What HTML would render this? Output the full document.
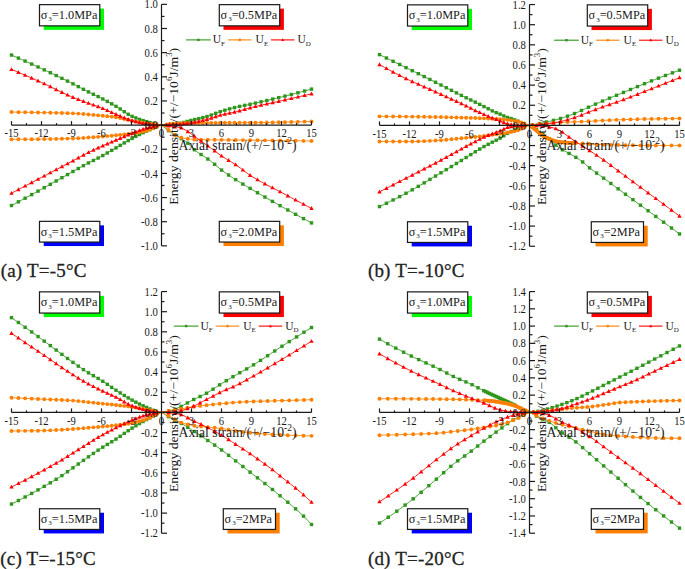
<!DOCTYPE html>
<html><head><meta charset="utf-8"><style>
html,body{margin:0;padding:0;background:#fff;width:685px;height:569px;overflow:hidden}
svg{display:block;font-family:"Liberation Serif", serif}
</style></head><body>
<svg width="685" height="569" viewBox="0 0 685 569">
<polyline points="161.5,125.1 162.75,125.09 164,125.05 165.25,125 166.5,124.92 167.75,124.83 169,124.72 170.25,124.6 171.5,124.47 172.75,124.34 174,124.19 175.25,124.04 176.5,123.89 177.75,123.72 179,123.5 180.25,123.24 181.5,122.95 182.75,122.64 184,122.31 185.25,121.96 186.5,121.61 187.75,121.26 189,120.92 190.25,120.58 191.5,120.27 192.75,119.97 194,119.68 195.25,119.4 196.5,119.12 197.75,118.83 199,118.55 200.25,118.26 201.5,117.96 202.75,117.66 204,117.34 205.25,117 206.5,116.65 207.75,116.27 209,115.85 210.25,115.41 211.5,114.94 212.75,114.46 214,113.97 215.25,113.48 216.5,112.99 217.75,112.52 219,112.06 220.25,111.62 221.5,111.21 222.75,110.83 224,110.45 225.25,110.08 226.5,109.72 227.75,109.37 229,109.02 230.25,108.68 231.5,108.35 232.75,108.03 234,107.72 235.25,107.41 236.5,107.11 237.75,106.82 239,106.54 240.25,106.27 241.5,106.01 242.75,105.76 244,105.51 245.25,105.26 246.5,105.01 247.75,104.76 249,104.5 250.25,104.24 251.5,103.97 252.75,103.69 254,103.42 255.25,103.14 256.5,102.86 257.75,102.58 259,102.3 260.25,102.01 261.5,101.73 262.75,101.44 264,101.15 265.25,100.86 266.5,100.57 267.75,100.28 269,99.98 270.25,99.69 271.5,99.39 272.75,99.09 274,98.79 275.25,98.49 276.5,98.19 277.75,97.88 279,97.58 280.25,97.27 281.5,96.97 282.75,96.66 284,96.35 285.25,96.03 286.5,95.72 287.75,95.4 289,95.09 290.25,94.77 291.5,94.45 292.75,94.12 294,93.8 295.25,93.48 296.5,93.15 297.75,92.82 299,92.49 300.25,92.16 301.5,91.83 302.75,91.49 304,91.16 305.25,90.82 306.5,90.48 307.75,90.14 309,89.8 310.25,89.46 311.5,89.12" fill="none" stroke="#2e961c" stroke-width="0.9"/>
<rect x="309.8" y="87.42" width="3.4" height="3.4" fill="#2e961c"/>
<rect x="302.9" y="89.3" width="3.4" height="3.4" fill="#2e961c"/>
<rect x="296.18" y="91.09" width="3.4" height="3.4" fill="#2e961c"/>
<rect x="289.63" y="92.79" width="3.4" height="3.4" fill="#2e961c"/>
<rect x="283.26" y="94.41" width="3.4" height="3.4" fill="#2e961c"/>
<rect x="277.05" y="95.94" width="3.4" height="3.4" fill="#2e961c"/>
<rect x="271" y="97.4" width="3.4" height="3.4" fill="#2e961c"/>
<rect x="265.11" y="98.8" width="3.4" height="3.4" fill="#2e961c"/>
<rect x="259.37" y="100.12" width="3.4" height="3.4" fill="#2e961c"/>
<rect x="253.78" y="101.39" width="3.4" height="3.4" fill="#2e961c"/>
<rect x="248.34" y="102.58" width="3.4" height="3.4" fill="#2e961c"/>
<rect x="243.04" y="103.66" width="3.4" height="3.4" fill="#2e961c"/>
<rect x="237.87" y="104.72" width="3.4" height="3.4" fill="#2e961c"/>
<rect x="232.84" y="105.88" width="3.4" height="3.4" fill="#2e961c"/>
<rect x="227.94" y="107.15" width="3.4" height="3.4" fill="#2e961c"/>
<rect x="223.17" y="108.49" width="3.4" height="3.4" fill="#2e961c"/>
<rect x="218.52" y="109.93" width="3.4" height="3.4" fill="#2e961c"/>
<rect x="214" y="111.61" width="3.4" height="3.4" fill="#2e961c"/>
<rect x="209.59" y="113.32" width="3.4" height="3.4" fill="#2e961c"/>
<rect x="205.29" y="114.8" width="3.4" height="3.4" fill="#2e961c"/>
<rect x="201.11" y="115.94" width="3.4" height="3.4" fill="#2e961c"/>
<rect x="197.04" y="116.91" width="3.4" height="3.4" fill="#2e961c"/>
<rect x="193.07" y="117.81" width="3.4" height="3.4" fill="#2e961c"/>
<rect x="189.2" y="118.72" width="3.4" height="3.4" fill="#2e961c"/>
<rect x="185.44" y="119.73" width="3.4" height="3.4" fill="#2e961c"/>
<rect x="181.77" y="120.75" width="3.4" height="3.4" fill="#2e961c"/>
<rect x="178.2" y="121.62" width="3.4" height="3.4" fill="#2e961c"/>
<rect x="174.72" y="122.2" width="3.4" height="3.4" fill="#2e961c"/>
<rect x="171.33" y="122.6" width="3.4" height="3.4" fill="#2e961c"/>
<rect x="168.03" y="122.95" width="3.4" height="3.4" fill="#2e961c"/>
<rect x="164.82" y="123.22" width="3.4" height="3.4" fill="#2e961c"/>
<polyline points="161.5,125.1 162.75,124.91 164,124.74 165.25,124.57 166.5,124.41 167.75,124.26 169,124.12 170.25,124 171.5,123.89 172.75,123.79 174,123.7 175.25,123.61 176.5,123.53 177.75,123.46 179,123.39 180.25,123.34 181.5,123.29 182.75,123.25 184,123.21 185.25,123.17 186.5,123.14 187.75,123.11 189,123.09 190.25,123.07 191.5,123.05 192.75,123.03 194,123.02 195.25,123 196.5,122.99 197.75,122.97 199,122.96 200.25,122.95 201.5,122.94 202.75,122.93 204,122.92 205.25,122.91 206.5,122.9 207.75,122.89 209,122.88 210.25,122.87 211.5,122.86 212.75,122.86 214,122.85 215.25,122.84 216.5,122.83 217.75,122.83 219,122.82 220.25,122.81 221.5,122.81 222.75,122.8 224,122.79 225.25,122.79 226.5,122.78 227.75,122.78 229,122.77 230.25,122.77 231.5,122.76 232.75,122.76 234,122.76 235.25,122.75 236.5,122.75 237.75,122.75 239,122.74 240.25,122.74 241.5,122.73 242.75,122.73 244,122.72 245.25,122.72 246.5,122.71 247.75,122.71 249,122.7 250.25,122.69 251.5,122.68 252.75,122.68 254,122.67 255.25,122.65 256.5,122.64 257.75,122.63 259,122.61 260.25,122.59 261.5,122.57 262.75,122.55 264,122.53 265.25,122.51 266.5,122.49 267.75,122.47 269,122.45 270.25,122.42 271.5,122.4 272.75,122.37 274,122.35 275.25,122.33 276.5,122.3 277.75,122.28 279,122.25 280.25,122.23 281.5,122.2 282.75,122.18 284,122.15 285.25,122.13 286.5,122.1 287.75,122.07 289,122.05 290.25,122.02 291.5,121.99 292.75,121.96 294,121.93 295.25,121.9 296.5,121.87 297.75,121.84 299,121.81 300.25,121.78 301.5,121.75 302.75,121.72 304,121.68 305.25,121.65 306.5,121.62 307.75,121.58 309,121.55 310.25,121.51 311.5,121.48" fill="none" stroke="#ff8000" stroke-width="0.9"/>
<circle cx="311.5" cy="121.48" r="1.95" fill="#ff8000"/>
<circle cx="304.6" cy="121.67" r="1.95" fill="#ff8000"/>
<circle cx="297.88" cy="121.84" r="1.95" fill="#ff8000"/>
<circle cx="291.33" cy="121.99" r="1.95" fill="#ff8000"/>
<circle cx="284.96" cy="122.13" r="1.95" fill="#ff8000"/>
<circle cx="278.75" cy="122.26" r="1.95" fill="#ff8000"/>
<circle cx="272.7" cy="122.38" r="1.95" fill="#ff8000"/>
<circle cx="266.81" cy="122.49" r="1.95" fill="#ff8000"/>
<circle cx="261.07" cy="122.58" r="1.95" fill="#ff8000"/>
<circle cx="255.48" cy="122.65" r="1.95" fill="#ff8000"/>
<circle cx="250.04" cy="122.69" r="1.95" fill="#ff8000"/>
<circle cx="244.74" cy="122.72" r="1.95" fill="#ff8000"/>
<circle cx="239.57" cy="122.74" r="1.95" fill="#ff8000"/>
<circle cx="234.54" cy="122.76" r="1.95" fill="#ff8000"/>
<circle cx="229.64" cy="122.77" r="1.95" fill="#ff8000"/>
<circle cx="224.87" cy="122.79" r="1.95" fill="#ff8000"/>
<circle cx="220.22" cy="122.81" r="1.95" fill="#ff8000"/>
<circle cx="215.7" cy="122.84" r="1.95" fill="#ff8000"/>
<circle cx="211.29" cy="122.86" r="1.95" fill="#ff8000"/>
<circle cx="206.99" cy="122.89" r="1.95" fill="#ff8000"/>
<circle cx="202.81" cy="122.93" r="1.95" fill="#ff8000"/>
<circle cx="198.74" cy="122.96" r="1.95" fill="#ff8000"/>
<circle cx="194.77" cy="123.01" r="1.95" fill="#ff8000"/>
<circle cx="190.9" cy="123.06" r="1.95" fill="#ff8000"/>
<circle cx="187.14" cy="123.13" r="1.95" fill="#ff8000"/>
<circle cx="183.47" cy="123.22" r="1.95" fill="#ff8000"/>
<circle cx="179.9" cy="123.35" r="1.95" fill="#ff8000"/>
<circle cx="176.42" cy="123.54" r="1.95" fill="#ff8000"/>
<circle cx="173.03" cy="123.77" r="1.95" fill="#ff8000"/>
<circle cx="169.73" cy="124.05" r="1.95" fill="#ff8000"/>
<circle cx="166.52" cy="124.41" r="1.95" fill="#ff8000"/>
<polyline points="161.5,125.1 162.75,125.09 164,125.08 165.25,125.05 166.5,125.01 167.75,124.96 169,124.91 170.25,124.85 171.5,124.79 172.75,124.72 174,124.65 175.25,124.57 176.5,124.5 177.75,124.41 179,124.31 180.25,124.19 181.5,124.06 182.75,123.92 184,123.76 185.25,123.6 186.5,123.43 187.75,123.25 189,123.06 190.25,122.88 191.5,122.68 192.75,122.49 194,122.27 195.25,122.05 196.5,121.81 197.75,121.56 199,121.3 200.25,121.03 201.5,120.75 202.75,120.46 204,120.16 205.25,119.86 206.5,119.55 207.75,119.21 209,118.85 210.25,118.46 211.5,118.05 212.75,117.63 214,117.2 215.25,116.77 216.5,116.35 217.75,115.94 219,115.54 220.25,115.17 221.5,114.84 222.75,114.53 224,114.23 225.25,113.96 226.5,113.69 227.75,113.43 229,113.18 230.25,112.93 231.5,112.67 232.75,112.42 234,112.15 235.25,111.87 236.5,111.58 237.75,111.26 239,110.94 240.25,110.6 241.5,110.25 242.75,109.9 244,109.54 245.25,109.18 246.5,108.82 247.75,108.47 249,108.12 250.25,107.79 251.5,107.47 252.75,107.16 254,106.86 255.25,106.56 256.5,106.26 257.75,105.97 259,105.68 260.25,105.39 261.5,105.11 262.75,104.83 264,104.55 265.25,104.28 266.5,104.01 267.75,103.73 269,103.46 270.25,103.19 271.5,102.92 272.75,102.65 274,102.37 275.25,102.1 276.5,101.83 277.75,101.55 279,101.27 280.25,100.99 281.5,100.71 282.75,100.42 284,100.14 285.25,99.85 286.5,99.57 287.75,99.28 289,99 290.25,98.71 291.5,98.43 292.75,98.14 294,97.86 295.25,97.57 296.5,97.28 297.75,97 299,96.71 300.25,96.42 301.5,96.13 302.75,95.85 304,95.56 305.25,95.27 306.5,94.98 307.75,94.69 309,94.4 310.25,94.11 311.5,93.83" fill="none" stroke="#ff0000" stroke-width="0.9"/>
<path d="M311.5,91.53L313.7,95.43L309.3,95.43Z" fill="#ff0000"/>
<path d="M304.6,93.12L306.8,97.02L302.4,97.02Z" fill="#ff0000"/>
<path d="M297.88,94.67L300.08,98.57L295.68,98.57Z" fill="#ff0000"/>
<path d="M291.33,96.17L293.53,100.07L289.13,100.07Z" fill="#ff0000"/>
<path d="M284.96,97.62L287.16,101.52L282.76,101.52Z" fill="#ff0000"/>
<path d="M278.75,99.03L280.95,102.93L276.55,102.93Z" fill="#ff0000"/>
<path d="M272.7,100.36L274.9,104.26L270.5,104.26Z" fill="#ff0000"/>
<path d="M266.81,101.64L269.01,105.54L264.61,105.54Z" fill="#ff0000"/>
<path d="M261.07,102.91L263.27,106.81L258.87,106.81Z" fill="#ff0000"/>
<path d="M255.48,104.2L257.68,108.1L253.28,108.1Z" fill="#ff0000"/>
<path d="M250.04,105.55L252.24,109.45L247.84,109.45Z" fill="#ff0000"/>
<path d="M244.74,107.03L246.94,110.93L242.54,110.93Z" fill="#ff0000"/>
<path d="M239.57,108.48L241.77,112.38L237.37,112.38Z" fill="#ff0000"/>
<path d="M234.54,109.73L236.74,113.63L232.34,113.63Z" fill="#ff0000"/>
<path d="M229.64,110.75L231.84,114.65L227.44,114.65Z" fill="#ff0000"/>
<path d="M224.87,111.74L227.07,115.64L222.67,115.64Z" fill="#ff0000"/>
<path d="M220.22,112.88L222.42,116.78L218.02,116.78Z" fill="#ff0000"/>
<path d="M215.7,114.32L217.9,118.22L213.5,118.22Z" fill="#ff0000"/>
<path d="M211.29,115.82L213.49,119.72L209.09,119.72Z" fill="#ff0000"/>
<path d="M206.99,117.12L209.19,121.02L204.79,121.02Z" fill="#ff0000"/>
<path d="M202.81,118.14L205.01,122.04L200.61,122.04Z" fill="#ff0000"/>
<path d="M198.74,119.05L200.94,122.95L196.54,122.95Z" fill="#ff0000"/>
<path d="M194.77,119.84L196.97,123.74L192.57,123.74Z" fill="#ff0000"/>
<path d="M190.9,120.48L193.1,124.38L188.7,124.38Z" fill="#ff0000"/>
<path d="M187.14,121.04L189.34,124.94L184.94,124.94Z" fill="#ff0000"/>
<path d="M183.47,121.53L185.67,125.43L181.27,125.43Z" fill="#ff0000"/>
<path d="M179.9,121.93L182.1,125.83L177.7,125.83Z" fill="#ff0000"/>
<path d="M176.42,122.2L178.62,126.1L174.22,126.1Z" fill="#ff0000"/>
<path d="M173.03,122.4L175.23,126.3L170.83,126.3Z" fill="#ff0000"/>
<path d="M169.73,122.58L171.93,126.48L167.53,126.48Z" fill="#ff0000"/>
<path d="M166.52,122.71L168.72,126.61L164.32,126.61Z" fill="#ff0000"/>
<polyline points="161.5,125.1 160.25,124.89 159,124.65 157.75,124.41 156.5,124.14 155.25,123.87 154,123.58 152.75,123.27 151.5,122.96 150.25,122.63 149,122.3 147.75,121.95 146.5,121.6 145.25,121.23 144,120.85 142.75,120.45 141.5,120.04 140.25,119.61 139,119.16 137.75,118.69 136.5,118.2 135.25,117.69 134,117.16 132.75,116.62 131.5,116.04 130.25,115.43 129,114.74 127.75,114 126.5,113.22 125.25,112.41 124,111.57 122.75,110.71 121.5,109.86 120.25,109.01 119,108.18 117.75,107.39 116.5,106.63 115.25,105.89 114,105.17 112.75,104.45 111.5,103.73 110.25,103.03 109,102.33 107.75,101.64 106.5,100.96 105.25,100.28 104,99.61 102.75,98.95 101.5,98.29 100.25,97.65 99,97.02 97.75,96.4 96.5,95.79 95.25,95.18 94,94.58 92.75,93.98 91.5,93.38 90.25,92.78 89,92.17 87.75,91.56 86.5,90.93 85.25,90.29 84,89.64 82.75,88.99 81.5,88.33 80.25,87.66 79,87 77.75,86.33 76.5,85.67 75.25,85.01 74,84.36 72.75,83.72 71.5,83.08 70.25,82.45 69,81.82 67.75,81.2 66.5,80.58 65.25,79.96 64,79.34 62.75,78.73 61.5,78.12 60.25,77.51 59,76.9 57.75,76.29 56.5,75.69 55.25,75.09 54,74.49 52.75,73.89 51.5,73.3 50.25,72.7 49,72.11 47.75,71.52 46.5,70.93 45.25,70.34 44,69.76 42.75,69.17 41.5,68.59 40.25,68.01 39,67.43 37.75,66.85 36.5,66.27 35.25,65.69 34,65.12 32.75,64.55 31.5,63.98 30.25,63.41 29,62.84 27.75,62.27 26.5,61.71 25.25,61.15 24,60.58 22.75,60.02 21.5,59.47 20.25,58.91 19,58.36 17.75,57.8 16.5,57.25 15.25,56.7 14,56.16 12.75,55.61 11.5,55.06" fill="none" stroke="#2e961c" stroke-width="0.9"/>
<rect x="9.8" y="53.36" width="3.4" height="3.4" fill="#2e961c"/>
<rect x="16.7" y="56.39" width="3.4" height="3.4" fill="#2e961c"/>
<rect x="23.42" y="59.39" width="3.4" height="3.4" fill="#2e961c"/>
<rect x="29.97" y="62.35" width="3.4" height="3.4" fill="#2e961c"/>
<rect x="36.34" y="65.28" width="3.4" height="3.4" fill="#2e961c"/>
<rect x="42.55" y="68.18" width="3.4" height="3.4" fill="#2e961c"/>
<rect x="48.6" y="71.03" width="3.4" height="3.4" fill="#2e961c"/>
<rect x="54.49" y="73.84" width="3.4" height="3.4" fill="#2e961c"/>
<rect x="60.23" y="76.63" width="3.4" height="3.4" fill="#2e961c"/>
<rect x="65.82" y="79.38" width="3.4" height="3.4" fill="#2e961c"/>
<rect x="71.26" y="82.12" width="3.4" height="3.4" fill="#2e961c"/>
<rect x="76.56" y="84.91" width="3.4" height="3.4" fill="#2e961c"/>
<rect x="81.73" y="87.64" width="3.4" height="3.4" fill="#2e961c"/>
<rect x="86.76" y="90.21" width="3.4" height="3.4" fill="#2e961c"/>
<rect x="91.66" y="92.58" width="3.4" height="3.4" fill="#2e961c"/>
<rect x="96.43" y="94.89" width="3.4" height="3.4" fill="#2e961c"/>
<rect x="101.08" y="97.26" width="3.4" height="3.4" fill="#2e961c"/>
<rect x="105.6" y="99.7" width="3.4" height="3.4" fill="#2e961c"/>
<rect x="110.01" y="102.15" width="3.4" height="3.4" fill="#2e961c"/>
<rect x="114.31" y="104.64" width="3.4" height="3.4" fill="#2e961c"/>
<rect x="118.49" y="107.27" width="3.4" height="3.4" fill="#2e961c"/>
<rect x="122.56" y="110.04" width="3.4" height="3.4" fill="#2e961c"/>
<rect x="126.53" y="112.59" width="3.4" height="3.4" fill="#2e961c"/>
<rect x="130.4" y="114.62" width="3.4" height="3.4" fill="#2e961c"/>
<rect x="134.16" y="116.24" width="3.4" height="3.4" fill="#2e961c"/>
<rect x="137.83" y="117.65" width="3.4" height="3.4" fill="#2e961c"/>
<rect x="141.4" y="118.87" width="3.4" height="3.4" fill="#2e961c"/>
<rect x="144.88" y="119.92" width="3.4" height="3.4" fill="#2e961c"/>
<rect x="148.27" y="120.86" width="3.4" height="3.4" fill="#2e961c"/>
<rect x="151.57" y="121.7" width="3.4" height="3.4" fill="#2e961c"/>
<rect x="154.78" y="122.44" width="3.4" height="3.4" fill="#2e961c"/>
<polyline points="161.5,125.1 160.25,124.95 159,124.8 157.75,124.65 156.5,124.5 155.25,124.35 154,124.2 152.75,124.06 151.5,123.92 150.25,123.77 149,123.62 147.75,123.46 146.5,123.29 145.25,123.11 144,122.93 142.75,122.74 141.5,122.54 140.25,122.34 139,122.13 137.75,121.91 136.5,121.69 135.25,121.46 134,121.23 132.75,121 131.5,120.75 130.25,120.49 129,120.2 127.75,119.89 126.5,119.57 125.25,119.24 124,118.91 122.75,118.58 121.5,118.26 120.25,117.97 119,117.69 117.75,117.45 116.5,117.25 115.25,117.08 114,116.92 112.75,116.77 111.5,116.63 110.25,116.49 109,116.37 107.75,116.25 106.5,116.13 105.25,116.02 104,115.91 102.75,115.8 101.5,115.68 100.25,115.57 99,115.45 97.75,115.33 96.5,115.21 95.25,115.09 94,114.97 92.75,114.85 91.5,114.73 90.25,114.61 89,114.49 87.75,114.38 86.5,114.27 85.25,114.16 84,114.05 82.75,113.95 81.5,113.85 80.25,113.76 79,113.67 77.75,113.59 76.5,113.51 75.25,113.44 74,113.37 72.75,113.32 71.5,113.27 70.25,113.22 69,113.18 67.75,113.14 66.5,113.1 65.25,113.06 64,113.02 62.75,112.99 61.5,112.96 60.25,112.92 59,112.89 57.75,112.87 56.5,112.84 55.25,112.81 54,112.78 52.75,112.76 51.5,112.73 50.25,112.71 49,112.68 47.75,112.66 46.5,112.64 45.25,112.61 44,112.59 42.75,112.57 41.5,112.54 40.25,112.52 39,112.49 37.75,112.47 36.5,112.45 35.25,112.42 34,112.4 32.75,112.38 31.5,112.36 30.25,112.34 29,112.31 27.75,112.29 26.5,112.27 25.25,112.25 24,112.23 22.75,112.21 21.5,112.19 20.25,112.18 19,112.16 17.75,112.14 16.5,112.12 15.25,112.11 14,112.09 12.75,112.07 11.5,112.06" fill="none" stroke="#ff8000" stroke-width="0.9"/>
<circle cx="11.5" cy="112.06" r="1.95" fill="#ff8000"/>
<circle cx="18.4" cy="112.15" r="1.95" fill="#ff8000"/>
<circle cx="25.12" cy="112.25" r="1.95" fill="#ff8000"/>
<circle cx="31.67" cy="112.36" r="1.95" fill="#ff8000"/>
<circle cx="38.04" cy="112.48" r="1.95" fill="#ff8000"/>
<circle cx="44.25" cy="112.59" r="1.95" fill="#ff8000"/>
<circle cx="50.3" cy="112.71" r="1.95" fill="#ff8000"/>
<circle cx="56.19" cy="112.83" r="1.95" fill="#ff8000"/>
<circle cx="61.93" cy="112.97" r="1.95" fill="#ff8000"/>
<circle cx="67.52" cy="113.13" r="1.95" fill="#ff8000"/>
<circle cx="72.96" cy="113.33" r="1.95" fill="#ff8000"/>
<circle cx="78.26" cy="113.62" r="1.95" fill="#ff8000"/>
<circle cx="83.43" cy="114.01" r="1.95" fill="#ff8000"/>
<circle cx="88.46" cy="114.44" r="1.95" fill="#ff8000"/>
<circle cx="93.36" cy="114.91" r="1.95" fill="#ff8000"/>
<circle cx="98.13" cy="115.36" r="1.95" fill="#ff8000"/>
<circle cx="102.78" cy="115.8" r="1.95" fill="#ff8000"/>
<circle cx="107.3" cy="116.21" r="1.95" fill="#ff8000"/>
<circle cx="111.71" cy="116.65" r="1.95" fill="#ff8000"/>
<circle cx="116.01" cy="117.18" r="1.95" fill="#ff8000"/>
<circle cx="120.19" cy="117.95" r="1.95" fill="#ff8000"/>
<circle cx="124.26" cy="118.98" r="1.95" fill="#ff8000"/>
<circle cx="128.23" cy="120.02" r="1.95" fill="#ff8000"/>
<circle cx="132.1" cy="120.87" r="1.95" fill="#ff8000"/>
<circle cx="135.86" cy="121.58" r="1.95" fill="#ff8000"/>
<circle cx="139.53" cy="122.22" r="1.95" fill="#ff8000"/>
<circle cx="143.1" cy="122.79" r="1.95" fill="#ff8000"/>
<circle cx="146.58" cy="123.3" r="1.95" fill="#ff8000"/>
<circle cx="149.97" cy="123.73" r="1.95" fill="#ff8000"/>
<circle cx="153.27" cy="124.12" r="1.95" fill="#ff8000"/>
<circle cx="156.48" cy="124.49" r="1.95" fill="#ff8000"/>
<polyline points="161.5,125.1 160.25,125.08 159,125.05 157.75,124.99 156.5,124.91 155.25,124.82 154,124.71 152.75,124.6 151.5,124.47 150.25,124.33 149,124.19 147.75,124.04 146.5,123.89 145.25,123.73 144,123.53 142.75,123.3 141.5,123.04 140.25,122.76 139,122.46 137.75,122.15 136.5,121.81 135.25,121.47 134,121.11 132.75,120.75 131.5,120.39 130.25,120.01 129,119.6 127.75,119.16 126.5,118.7 125.25,118.22 124,117.72 122.75,117.21 121.5,116.69 120.25,116.17 119,115.64 117.75,115.11 116.5,114.59 115.25,114.07 114,113.52 112.75,112.97 111.5,112.4 110.25,111.82 109,111.25 107.75,110.67 106.5,110.1 105.25,109.54 104,108.99 102.75,108.46 101.5,107.95 100.25,107.46 99,106.99 97.75,106.53 96.5,106.07 95.25,105.63 94,105.19 92.75,104.75 91.5,104.32 90.25,103.88 89,103.43 87.75,102.98 86.5,102.52 85.25,102.05 84,101.59 82.75,101.12 81.5,100.65 80.25,100.18 79,99.71 77.75,99.23 76.5,98.75 75.25,98.26 74,97.75 72.75,97.24 71.5,96.72 70.25,96.19 69,95.65 67.75,95.09 66.5,94.52 65.25,93.94 64,93.36 62.75,92.77 61.5,92.17 60.25,91.56 59,90.95 57.75,90.34 56.5,89.72 55.25,89.1 54,88.49 52.75,87.87 51.5,87.25 50.25,86.64 49,86.02 47.75,85.42 46.5,84.81 45.25,84.22 44,83.63 42.75,83.05 41.5,82.48 40.25,81.91 39,81.34 37.75,80.78 36.5,80.22 35.25,79.66 34,79.11 32.75,78.55 31.5,78 30.25,77.45 29,76.9 27.75,76.35 26.5,75.81 25.25,75.26 24,74.72 22.75,74.19 21.5,73.65 20.25,73.11 19,72.58 17.75,72.05 16.5,71.52 15.25,71 14,70.48 12.75,69.95 11.5,69.43" fill="none" stroke="#ff0000" stroke-width="0.9"/>
<path d="M11.5,67.13L13.7,71.03L9.3,71.03Z" fill="#ff0000"/>
<path d="M18.4,70.03L20.6,73.93L16.2,73.93Z" fill="#ff0000"/>
<path d="M25.12,72.91L27.32,76.81L22.92,76.81Z" fill="#ff0000"/>
<path d="M31.67,75.77L33.87,79.67L29.47,79.67Z" fill="#ff0000"/>
<path d="M38.04,78.61L40.24,82.51L35.84,82.51Z" fill="#ff0000"/>
<path d="M44.25,81.45L46.45,85.35L42.05,85.35Z" fill="#ff0000"/>
<path d="M50.3,84.36L52.5,88.26L48.1,88.26Z" fill="#ff0000"/>
<path d="M56.19,87.27L58.39,91.17L53.99,91.17Z" fill="#ff0000"/>
<path d="M61.93,90.07L64.13,93.97L59.73,93.97Z" fill="#ff0000"/>
<path d="M67.52,92.68L69.72,96.58L65.32,96.58Z" fill="#ff0000"/>
<path d="M72.96,95.03L75.16,98.93L70.76,98.93Z" fill="#ff0000"/>
<path d="M78.26,97.13L80.46,101.03L76.06,101.03Z" fill="#ff0000"/>
<path d="M83.43,99.07L85.63,102.97L81.23,102.97Z" fill="#ff0000"/>
<path d="M88.46,100.94L90.66,104.84L86.26,104.84Z" fill="#ff0000"/>
<path d="M93.36,102.67L95.56,106.57L91.16,106.57Z" fill="#ff0000"/>
<path d="M98.13,104.37L100.33,108.27L95.93,108.27Z" fill="#ff0000"/>
<path d="M102.78,106.17L104.98,110.07L100.58,110.07Z" fill="#ff0000"/>
<path d="M107.3,108.17L109.5,112.07L105.1,112.07Z" fill="#ff0000"/>
<path d="M111.71,110.2L113.91,114.1L109.51,114.1Z" fill="#ff0000"/>
<path d="M116.01,112.09L118.21,115.99L113.81,115.99Z" fill="#ff0000"/>
<path d="M120.19,113.84L122.39,117.74L117.99,117.74Z" fill="#ff0000"/>
<path d="M124.26,115.53L126.46,119.43L122.06,119.43Z" fill="#ff0000"/>
<path d="M128.23,117.03L130.43,120.93L126.03,120.93Z" fill="#ff0000"/>
<path d="M132.1,118.26L134.3,122.16L129.9,122.16Z" fill="#ff0000"/>
<path d="M135.86,119.34L138.06,123.24L133.66,123.24Z" fill="#ff0000"/>
<path d="M139.53,120.29L141.73,124.19L137.33,124.19Z" fill="#ff0000"/>
<path d="M143.1,121.06L145.3,124.96L140.9,124.96Z" fill="#ff0000"/>
<path d="M146.58,121.6L148.78,125.5L144.38,125.5Z" fill="#ff0000"/>
<path d="M149.97,122L152.17,125.9L147.77,125.9Z" fill="#ff0000"/>
<path d="M153.27,122.35L155.47,126.25L151.07,126.25Z" fill="#ff0000"/>
<path d="M156.48,122.61L158.68,126.51L154.28,126.51Z" fill="#ff0000"/>
<polyline points="161.5,125.1 160.25,125.54 159,126 157.75,126.47 156.5,126.94 155.25,127.43 154,127.93 152.75,128.44 151.5,128.96 150.25,129.49 149,130.03 147.75,130.58 146.5,131.14 145.25,131.71 144,132.29 142.75,132.89 141.5,133.5 140.25,134.13 139,134.76 137.75,135.41 136.5,136.06 135.25,136.72 134,137.39 132.75,138.07 131.5,138.74 130.25,139.43 129,140.14 127.75,140.86 126.5,141.59 125.25,142.33 124,143.08 122.75,143.83 121.5,144.58 120.25,145.33 119,146.08 117.75,146.83 116.5,147.56 115.25,148.29 114,149.03 112.75,149.77 111.5,150.5 110.25,151.24 109,151.98 107.75,152.71 106.5,153.44 105.25,154.15 104,154.87 102.75,155.57 101.5,156.25 100.25,156.93 99,157.59 97.75,158.24 96.5,158.88 95.25,159.51 94,160.14 92.75,160.77 91.5,161.4 90.25,162.03 89,162.67 87.75,163.32 86.5,163.98 85.25,164.65 84,165.33 82.75,166.02 81.5,166.71 80.25,167.4 79,168.1 77.75,168.8 76.5,169.5 75.25,170.21 74,170.91 72.75,171.61 71.5,172.31 70.25,173.01 69,173.71 67.75,174.42 66.5,175.12 65.25,175.83 64,176.53 62.75,177.24 61.5,177.95 60.25,178.66 59,179.37 57.75,180.08 56.5,180.79 55.25,181.5 54,182.2 52.75,182.91 51.5,183.62 50.25,184.32 49,185.03 47.75,185.73 46.5,186.43 45.25,187.13 44,187.83 42.75,188.53 41.5,189.22 40.25,189.91 39,190.6 37.75,191.29 36.5,191.98 35.25,192.66 34,193.35 32.75,194.03 31.5,194.72 30.25,195.4 29,196.08 27.75,196.76 26.5,197.44 25.25,198.12 24,198.8 22.75,199.48 21.5,200.15 20.25,200.83 19,201.5 17.75,202.17 16.5,202.84 15.25,203.51 14,204.18 12.75,204.85 11.5,205.52" fill="none" stroke="#2e961c" stroke-width="0.9"/>
<rect x="9.8" y="203.82" width="3.4" height="3.4" fill="#2e961c"/>
<rect x="16.7" y="200.12" width="3.4" height="3.4" fill="#2e961c"/>
<rect x="23.42" y="196.49" width="3.4" height="3.4" fill="#2e961c"/>
<rect x="29.97" y="192.93" width="3.4" height="3.4" fill="#2e961c"/>
<rect x="36.34" y="189.43" width="3.4" height="3.4" fill="#2e961c"/>
<rect x="42.55" y="185.99" width="3.4" height="3.4" fill="#2e961c"/>
<rect x="48.6" y="182.6" width="3.4" height="3.4" fill="#2e961c"/>
<rect x="54.49" y="179.26" width="3.4" height="3.4" fill="#2e961c"/>
<rect x="60.23" y="176.01" width="3.4" height="3.4" fill="#2e961c"/>
<rect x="65.82" y="172.85" width="3.4" height="3.4" fill="#2e961c"/>
<rect x="71.26" y="169.79" width="3.4" height="3.4" fill="#2e961c"/>
<rect x="76.56" y="166.81" width="3.4" height="3.4" fill="#2e961c"/>
<rect x="81.73" y="163.95" width="3.4" height="3.4" fill="#2e961c"/>
<rect x="86.76" y="161.25" width="3.4" height="3.4" fill="#2e961c"/>
<rect x="91.66" y="158.76" width="3.4" height="3.4" fill="#2e961c"/>
<rect x="96.43" y="156.34" width="3.4" height="3.4" fill="#2e961c"/>
<rect x="101.08" y="153.85" width="3.4" height="3.4" fill="#2e961c"/>
<rect x="105.6" y="151.27" width="3.4" height="3.4" fill="#2e961c"/>
<rect x="110.01" y="148.68" width="3.4" height="3.4" fill="#2e961c"/>
<rect x="114.31" y="146.15" width="3.4" height="3.4" fill="#2e961c"/>
<rect x="118.49" y="143.67" width="3.4" height="3.4" fill="#2e961c"/>
<rect x="122.56" y="141.22" width="3.4" height="3.4" fill="#2e961c"/>
<rect x="126.53" y="138.88" width="3.4" height="3.4" fill="#2e961c"/>
<rect x="130.4" y="136.72" width="3.4" height="3.4" fill="#2e961c"/>
<rect x="134.16" y="134.7" width="3.4" height="3.4" fill="#2e961c"/>
<rect x="137.83" y="132.79" width="3.4" height="3.4" fill="#2e961c"/>
<rect x="141.4" y="131.02" width="3.4" height="3.4" fill="#2e961c"/>
<rect x="144.88" y="129.4" width="3.4" height="3.4" fill="#2e961c"/>
<rect x="148.27" y="127.92" width="3.4" height="3.4" fill="#2e961c"/>
<rect x="151.57" y="126.53" width="3.4" height="3.4" fill="#2e961c"/>
<rect x="154.78" y="125.25" width="3.4" height="3.4" fill="#2e961c"/>
<polyline points="161.5,125.1 160.25,125.54 159,125.99 157.75,126.45 156.5,126.91 155.25,127.4 154,127.92 152.75,128.45 151.5,128.99 150.25,129.5 149,129.99 147.75,130.41 146.5,130.78 145.25,131.09 144,131.38 142.75,131.65 141.5,131.91 140.25,132.15 139,132.38 137.75,132.6 136.5,132.81 135.25,133 134,133.19 132.75,133.38 131.5,133.55 130.25,133.72 129,133.89 127.75,134.04 126.5,134.19 125.25,134.34 124,134.47 122.75,134.61 121.5,134.74 120.25,134.87 119,134.99 117.75,135.12 116.5,135.24 115.25,135.37 114,135.49 112.75,135.61 111.5,135.72 110.25,135.84 109,135.95 107.75,136.06 106.5,136.17 105.25,136.27 104,136.38 102.75,136.47 101.5,136.57 100.25,136.67 99,136.76 97.75,136.86 96.5,136.96 95.25,137.05 94,137.15 92.75,137.25 91.5,137.34 90.25,137.44 89,137.53 87.75,137.62 86.5,137.71 85.25,137.79 84,137.88 82.75,137.96 81.5,138.03 80.25,138.11 79,138.18 77.75,138.24 76.5,138.31 75.25,138.36 74,138.42 72.75,138.46 71.5,138.5 70.25,138.54 69,138.58 67.75,138.61 66.5,138.65 65.25,138.68 64,138.71 62.75,138.74 61.5,138.77 60.25,138.8 59,138.83 57.75,138.85 56.5,138.88 55.25,138.9 54,138.92 52.75,138.95 51.5,138.97 50.25,138.99 49,139.01 47.75,139.03 46.5,139.04 45.25,139.06 44,139.08 42.75,139.09 41.5,139.11 40.25,139.12 39,139.14 37.75,139.15 36.5,139.16 35.25,139.18 34,139.19 32.75,139.2 31.5,139.22 30.25,139.23 29,139.24 27.75,139.25 26.5,139.26 25.25,139.27 24,139.28 22.75,139.29 21.5,139.3 20.25,139.31 19,139.32 17.75,139.33 16.5,139.33 15.25,139.34 14,139.34 12.75,139.35 11.5,139.35" fill="none" stroke="#ff8000" stroke-width="0.9"/>
<circle cx="11.5" cy="139.35" r="1.95" fill="#ff8000"/>
<circle cx="18.4" cy="139.32" r="1.95" fill="#ff8000"/>
<circle cx="25.12" cy="139.28" r="1.95" fill="#ff8000"/>
<circle cx="31.67" cy="139.21" r="1.95" fill="#ff8000"/>
<circle cx="38.04" cy="139.15" r="1.95" fill="#ff8000"/>
<circle cx="44.25" cy="139.07" r="1.95" fill="#ff8000"/>
<circle cx="50.3" cy="138.99" r="1.95" fill="#ff8000"/>
<circle cx="56.19" cy="138.88" r="1.95" fill="#ff8000"/>
<circle cx="61.93" cy="138.76" r="1.95" fill="#ff8000"/>
<circle cx="67.52" cy="138.62" r="1.95" fill="#ff8000"/>
<circle cx="72.96" cy="138.45" r="1.95" fill="#ff8000"/>
<circle cx="78.26" cy="138.22" r="1.95" fill="#ff8000"/>
<circle cx="83.43" cy="137.91" r="1.95" fill="#ff8000"/>
<circle cx="88.46" cy="137.57" r="1.95" fill="#ff8000"/>
<circle cx="93.36" cy="137.2" r="1.95" fill="#ff8000"/>
<circle cx="98.13" cy="136.83" r="1.95" fill="#ff8000"/>
<circle cx="102.78" cy="136.47" r="1.95" fill="#ff8000"/>
<circle cx="107.3" cy="136.1" r="1.95" fill="#ff8000"/>
<circle cx="111.71" cy="135.7" r="1.95" fill="#ff8000"/>
<circle cx="116.01" cy="135.29" r="1.95" fill="#ff8000"/>
<circle cx="120.19" cy="134.87" r="1.95" fill="#ff8000"/>
<circle cx="124.26" cy="134.45" r="1.95" fill="#ff8000"/>
<circle cx="128.23" cy="133.98" r="1.95" fill="#ff8000"/>
<circle cx="132.1" cy="133.47" r="1.95" fill="#ff8000"/>
<circle cx="135.86" cy="132.91" r="1.95" fill="#ff8000"/>
<circle cx="139.53" cy="132.29" r="1.95" fill="#ff8000"/>
<circle cx="143.1" cy="131.58" r="1.95" fill="#ff8000"/>
<circle cx="146.58" cy="130.76" r="1.95" fill="#ff8000"/>
<circle cx="149.97" cy="129.62" r="1.95" fill="#ff8000"/>
<circle cx="153.27" cy="128.23" r="1.95" fill="#ff8000"/>
<circle cx="156.48" cy="126.92" r="1.95" fill="#ff8000"/>
<polyline points="161.5,125.1 160.25,125.28 159,125.48 157.75,125.69 156.5,125.93 155.25,126.17 154,126.43 152.75,126.71 151.5,126.99 150.25,127.29 149,127.6 147.75,127.91 146.5,128.24 145.25,128.58 144,128.96 142.75,129.35 141.5,129.77 140.25,130.21 139,130.66 137.75,131.13 136.5,131.61 135.25,132.09 134,132.58 132.75,133.07 131.5,133.55 130.25,134.04 129,134.55 127.75,135.07 126.5,135.6 125.25,136.13 124,136.68 122.75,137.23 121.5,137.78 120.25,138.32 119,138.87 117.75,139.42 116.5,139.95 115.25,140.48 114,141.01 112.75,141.54 111.5,142.06 110.25,142.58 109,143.11 107.75,143.64 106.5,144.17 105.25,144.7 104,145.25 102.75,145.79 101.5,146.35 100.25,146.92 99,147.48 97.75,148.06 96.5,148.64 95.25,149.22 94,149.81 92.75,150.41 91.5,151.01 90.25,151.61 89,152.23 87.75,152.85 86.5,153.48 85.25,154.11 84,154.77 82.75,155.43 81.5,156.1 80.25,156.78 79,157.47 77.75,158.16 76.5,158.84 75.25,159.53 74,160.22 72.75,160.89 71.5,161.57 70.25,162.23 69,162.9 67.75,163.56 66.5,164.23 65.25,164.89 64,165.55 62.75,166.21 61.5,166.87 60.25,167.53 59,168.19 57.75,168.84 56.5,169.5 55.25,170.16 54,170.81 52.75,171.47 51.5,172.13 50.25,172.78 49,173.44 47.75,174.1 46.5,174.75 45.25,175.41 44,176.07 42.75,176.73 41.5,177.38 40.25,178.04 39,178.7 37.75,179.36 36.5,180.02 35.25,180.68 34,181.34 32.75,182 31.5,182.66 30.25,183.32 29,183.98 27.75,184.63 26.5,185.29 25.25,185.95 24,186.61 22.75,187.27 21.5,187.93 20.25,188.59 19,189.25 17.75,189.91 16.5,190.57 15.25,191.23 14,191.88 12.75,192.54 11.5,193.2" fill="none" stroke="#ff0000" stroke-width="0.9"/>
<path d="M11.5,190.9L13.7,194.8L9.3,194.8Z" fill="#ff0000"/>
<path d="M18.4,187.26L20.6,191.16L16.2,191.16Z" fill="#ff0000"/>
<path d="M25.12,183.72L27.32,187.62L22.92,187.62Z" fill="#ff0000"/>
<path d="M31.67,180.27L33.87,184.17L29.47,184.17Z" fill="#ff0000"/>
<path d="M38.04,176.91L40.24,180.81L35.84,180.81Z" fill="#ff0000"/>
<path d="M44.25,173.64L46.45,177.54L42.05,177.54Z" fill="#ff0000"/>
<path d="M50.3,170.46L52.5,174.36L48.1,174.36Z" fill="#ff0000"/>
<path d="M56.19,167.36L58.39,171.26L53.99,171.26Z" fill="#ff0000"/>
<path d="M61.93,164.34L64.13,168.24L59.73,168.24Z" fill="#ff0000"/>
<path d="M67.52,161.39L69.72,165.29L65.32,165.29Z" fill="#ff0000"/>
<path d="M72.96,158.48L75.16,162.38L70.76,162.38Z" fill="#ff0000"/>
<path d="M78.26,155.57L80.46,159.47L76.06,159.47Z" fill="#ff0000"/>
<path d="M83.43,152.77L85.63,156.67L81.23,156.67Z" fill="#ff0000"/>
<path d="M88.46,150.2L90.66,154.1L86.26,154.1Z" fill="#ff0000"/>
<path d="M93.36,147.82L95.56,151.72L91.16,151.72Z" fill="#ff0000"/>
<path d="M98.13,145.58L100.33,149.48L95.93,149.48Z" fill="#ff0000"/>
<path d="M102.78,143.48L104.98,147.38L100.58,147.38Z" fill="#ff0000"/>
<path d="M107.3,141.53L109.5,145.43L105.1,145.43Z" fill="#ff0000"/>
<path d="M111.71,139.67L113.91,143.57L109.51,143.57Z" fill="#ff0000"/>
<path d="M116.01,137.86L118.21,141.76L113.81,141.76Z" fill="#ff0000"/>
<path d="M120.19,136.05L122.39,139.95L117.99,139.95Z" fill="#ff0000"/>
<path d="M124.26,134.26L126.46,138.16L122.06,138.16Z" fill="#ff0000"/>
<path d="M128.23,132.57L130.43,136.47L126.03,136.47Z" fill="#ff0000"/>
<path d="M132.1,131.02L134.3,134.92L129.9,134.92Z" fill="#ff0000"/>
<path d="M135.86,129.55L138.06,133.45L133.66,133.45Z" fill="#ff0000"/>
<path d="M139.53,128.17L141.73,132.07L137.33,132.07Z" fill="#ff0000"/>
<path d="M143.1,126.94L145.3,130.84L140.9,130.84Z" fill="#ff0000"/>
<path d="M146.58,125.92L148.78,129.82L144.38,129.82Z" fill="#ff0000"/>
<path d="M149.97,125.06L152.17,128.96L147.77,128.96Z" fill="#ff0000"/>
<path d="M153.27,124.29L155.47,128.19L151.07,128.19Z" fill="#ff0000"/>
<path d="M156.48,123.63L158.68,127.53L154.28,127.53Z" fill="#ff0000"/>
<polyline points="161.5,125.1 162.75,126.14 164,127.16 165.25,128.15 166.5,129.11 167.75,130.04 169,130.94 170.25,131.81 171.5,132.64 172.75,133.42 174,134.17 175.25,134.91 176.5,135.64 177.75,136.39 179,137.17 180.25,137.97 181.5,138.77 182.75,139.58 184,140.41 185.25,141.28 186.5,142.19 187.75,143.18 189,144.3 190.25,145.54 191.5,146.84 192.75,148.14 194,149.38 195.25,150.5 196.5,151.47 197.75,152.36 199,153.19 200.25,153.99 201.5,154.78 202.75,155.58 204,156.4 205.25,157.25 206.5,158.11 207.75,158.97 209,159.85 210.25,160.75 211.5,161.69 212.75,162.67 214,163.71 215.25,164.78 216.5,165.87 217.75,166.95 219,168.02 220.25,169.05 221.5,170.02 222.75,170.95 224,171.85 225.25,172.74 226.5,173.61 227.75,174.46 229,175.3 230.25,176.13 231.5,176.95 232.75,177.76 234,178.56 235.25,179.36 236.5,180.16 237.75,180.95 239,181.74 240.25,182.51 241.5,183.27 242.75,184.03 244,184.78 245.25,185.52 246.5,186.27 247.75,187.01 249,187.74 250.25,188.48 251.5,189.22 252.75,189.96 254,190.69 255.25,191.43 256.5,192.16 257.75,192.89 259,193.62 260.25,194.35 261.5,195.07 262.75,195.8 264,196.52 265.25,197.24 266.5,197.96 267.75,198.68 269,199.4 270.25,200.11 271.5,200.83 272.75,201.54 274,202.25 275.25,202.96 276.5,203.67 277.75,204.37 279,205.08 280.25,205.78 281.5,206.49 282.75,207.19 284,207.89 285.25,208.58 286.5,209.28 287.75,209.98 289,210.67 290.25,211.36 291.5,212.05 292.75,212.74 294,213.43 295.25,214.12 296.5,214.8 297.75,215.48 299,216.17 300.25,216.85 301.5,217.53 302.75,218.2 304,218.88 305.25,219.56 306.5,220.23 307.75,220.9 309,221.57 310.25,222.24 311.5,222.91" fill="none" stroke="#2e961c" stroke-width="0.9"/>
<rect x="309.8" y="221.21" width="3.4" height="3.4" fill="#2e961c"/>
<rect x="301.8" y="216.91" width="3.4" height="3.4" fill="#2e961c"/>
<rect x="293.9" y="212.61" width="3.4" height="3.4" fill="#2e961c"/>
<rect x="286.09" y="208.3" width="3.4" height="3.4" fill="#2e961c"/>
<rect x="278.37" y="203.98" width="3.4" height="3.4" fill="#2e961c"/>
<rect x="270.75" y="199.67" width="3.4" height="3.4" fill="#2e961c"/>
<rect x="263.22" y="195.35" width="3.4" height="3.4" fill="#2e961c"/>
<rect x="255.78" y="191.03" width="3.4" height="3.4" fill="#2e961c"/>
<rect x="248.42" y="186.71" width="3.4" height="3.4" fill="#2e961c"/>
<rect x="241.16" y="182.39" width="3.4" height="3.4" fill="#2e961c"/>
<rect x="233.98" y="177.94" width="3.4" height="3.4" fill="#2e961c"/>
<rect x="226.89" y="173.33" width="3.4" height="3.4" fill="#2e961c"/>
<rect x="219.89" y="168.39" width="3.4" height="3.4" fill="#2e961c"/>
<rect x="212.97" y="162.58" width="3.4" height="3.4" fill="#2e961c"/>
<rect x="206.13" y="157.33" width="3.4" height="3.4" fill="#2e961c"/>
<rect x="199.37" y="152.81" width="3.4" height="3.4" fill="#2e961c"/>
<rect x="192.7" y="148.05" width="3.4" height="3.4" fill="#2e961c"/>
<rect x="186.1" y="141.52" width="3.4" height="3.4" fill="#2e961c"/>
<rect x="179.59" y="136.94" width="3.4" height="3.4" fill="#2e961c"/>
<rect x="173.15" y="132.97" width="3.4" height="3.4" fill="#2e961c"/>
<rect x="166.79" y="128.88" width="3.4" height="3.4" fill="#2e961c"/>
<polyline points="161.5,125.1 162.75,125.79 164,126.54 165.25,127.36 166.5,128.24 167.75,129.24 169,130.35 170.25,131.46 171.5,132.47 172.75,133.4 174,134.33 175.25,135.23 176.5,136.04 177.75,136.7 179,137.17 180.25,137.51 181.5,137.8 182.75,138.04 184,138.26 185.25,138.45 186.5,138.62 187.75,138.78 189,138.93 190.25,139.09 191.5,139.23 192.75,139.36 194,139.47 195.25,139.55 196.5,139.59 197.75,139.61 199,139.64 200.25,139.65 201.5,139.67 202.75,139.69 204,139.7 205.25,139.71 206.5,139.72 207.75,139.73 209,139.74 210.25,139.75 211.5,139.76 212.75,139.76 214,139.77 215.25,139.78 216.5,139.79 217.75,139.8 219,139.81 220.25,139.82 221.5,139.83 222.75,139.85 224,139.86 225.25,139.87 226.5,139.89 227.75,139.9 229,139.92 230.25,139.93 231.5,139.95 232.75,139.96 234,139.98 235.25,139.99 236.5,140.01 237.75,140.02 239,140.04 240.25,140.05 241.5,140.07 242.75,140.09 244,140.1 245.25,140.12 246.5,140.13 247.75,140.15 249,140.16 250.25,140.18 251.5,140.19 252.75,140.21 254,140.22 255.25,140.24 256.5,140.25 257.75,140.27 259,140.28 260.25,140.3 261.5,140.31 262.75,140.33 264,140.34 265.25,140.35 266.5,140.37 267.75,140.38 269,140.4 270.25,140.41 271.5,140.43 272.75,140.44 274,140.46 275.25,140.47 276.5,140.49 277.75,140.51 279,140.52 280.25,140.54 281.5,140.56 282.75,140.57 284,140.59 285.25,140.61 286.5,140.63 287.75,140.65 289,140.66 290.25,140.68 291.5,140.7 292.75,140.72 294,140.74 295.25,140.76 296.5,140.78 297.75,140.8 299,140.82 300.25,140.84 301.5,140.86 302.75,140.89 304,140.91 305.25,140.93 306.5,140.95 307.75,140.97 309,140.99 310.25,141.02 311.5,141.04" fill="none" stroke="#ff8000" stroke-width="0.9"/>
<circle cx="311.5" cy="141.04" r="1.95" fill="#ff8000"/>
<circle cx="303.5" cy="140.9" r="1.95" fill="#ff8000"/>
<circle cx="295.6" cy="140.77" r="1.95" fill="#ff8000"/>
<circle cx="287.79" cy="140.65" r="1.95" fill="#ff8000"/>
<circle cx="280.07" cy="140.54" r="1.95" fill="#ff8000"/>
<circle cx="272.45" cy="140.44" r="1.95" fill="#ff8000"/>
<circle cx="264.92" cy="140.35" r="1.95" fill="#ff8000"/>
<circle cx="257.48" cy="140.26" r="1.95" fill="#ff8000"/>
<circle cx="250.12" cy="140.18" r="1.95" fill="#ff8000"/>
<circle cx="242.86" cy="140.09" r="1.95" fill="#ff8000"/>
<circle cx="235.68" cy="140" r="1.95" fill="#ff8000"/>
<circle cx="228.59" cy="139.91" r="1.95" fill="#ff8000"/>
<circle cx="221.59" cy="139.83" r="1.95" fill="#ff8000"/>
<circle cx="214.67" cy="139.78" r="1.95" fill="#ff8000"/>
<circle cx="207.83" cy="139.73" r="1.95" fill="#ff8000"/>
<circle cx="201.07" cy="139.67" r="1.95" fill="#ff8000"/>
<circle cx="194.4" cy="139.5" r="1.95" fill="#ff8000"/>
<circle cx="187.8" cy="138.78" r="1.95" fill="#ff8000"/>
<circle cx="181.29" cy="137.75" r="1.95" fill="#ff8000"/>
<circle cx="174.85" cy="134.95" r="1.95" fill="#ff8000"/>
<circle cx="168.49" cy="129.89" r="1.95" fill="#ff8000"/>
<polyline points="161.5,125.1 162.75,125.26 164,125.43 165.25,125.59 166.5,125.76 167.75,125.92 169,126.08 170.25,126.25 171.5,126.41 172.75,126.57 174,126.73 175.25,126.87 176.5,127 177.75,127.15 179,127.33 180.25,127.57 181.5,127.97 182.75,128.54 184,129.23 185.25,129.99 186.5,130.77 187.75,131.53 189,132.32 190.25,133.18 191.5,134.07 192.75,135 194,135.93 195.25,136.87 196.5,137.78 197.75,138.68 199,139.59 200.25,140.5 201.5,141.41 202.75,142.31 204,143.22 205.25,144.11 206.5,144.99 207.75,145.87 209,146.75 210.25,147.63 211.5,148.53 212.75,149.44 214,150.37 215.25,151.31 216.5,152.26 217.75,153.2 219,154.12 220.25,155.02 221.5,155.89 222.75,156.73 224,157.54 225.25,158.33 226.5,159.1 227.75,159.86 229,160.62 230.25,161.37 231.5,162.13 232.75,162.9 234,163.68 235.25,164.48 236.5,165.31 237.75,166.17 239,167.06 240.25,167.98 241.5,168.92 242.75,169.87 244,170.82 245.25,171.77 246.5,172.7 247.75,173.62 249,174.51 250.25,175.36 251.5,176.18 252.75,176.96 254,177.72 255.25,178.47 256.5,179.2 257.75,179.92 259,180.63 260.25,181.33 261.5,182.01 262.75,182.69 264,183.36 265.25,184.02 266.5,184.68 267.75,185.33 269,185.98 270.25,186.62 271.5,187.27 272.75,187.91 274,188.55 275.25,189.2 276.5,189.84 277.75,190.49 279,191.15 280.25,191.81 281.5,192.48 282.75,193.15 284,193.82 285.25,194.49 286.5,195.16 287.75,195.83 289,196.5 290.25,197.16 291.5,197.83 292.75,198.5 294,199.16 295.25,199.83 296.5,200.49 297.75,201.16 299,201.82 300.25,202.48 301.5,203.14 302.75,203.81 304,204.47 305.25,205.13 306.5,205.79 307.75,206.44 309,207.1 310.25,207.76 311.5,208.42" fill="none" stroke="#ff0000" stroke-width="0.9"/>
<path d="M311.5,206.12L313.7,210.02L309.3,210.02Z" fill="#ff0000"/>
<path d="M303.5,201.9L305.7,205.8L301.3,205.8Z" fill="#ff0000"/>
<path d="M295.6,197.71L297.8,201.61L293.4,201.61Z" fill="#ff0000"/>
<path d="M287.79,193.55L289.99,197.45L285.59,197.45Z" fill="#ff0000"/>
<path d="M280.07,189.42L282.27,193.32L277.87,193.32Z" fill="#ff0000"/>
<path d="M272.45,185.45L274.65,189.35L270.25,189.35Z" fill="#ff0000"/>
<path d="M264.92,181.55L267.12,185.45L262.72,185.45Z" fill="#ff0000"/>
<path d="M257.48,177.47L259.68,181.37L255.28,181.37Z" fill="#ff0000"/>
<path d="M250.12,172.98L252.32,176.88L247.92,176.88Z" fill="#ff0000"/>
<path d="M242.86,167.65L245.06,171.55L240.66,171.55Z" fill="#ff0000"/>
<path d="M235.68,162.47L237.88,166.37L233.48,166.37Z" fill="#ff0000"/>
<path d="M228.59,158.07L230.79,161.97L226.39,161.97Z" fill="#ff0000"/>
<path d="M221.59,153.65L223.79,157.55L219.39,157.55Z" fill="#ff0000"/>
<path d="M214.67,148.57L216.87,152.47L212.47,152.47Z" fill="#ff0000"/>
<path d="M207.83,143.63L210.03,147.53L205.63,147.53Z" fill="#ff0000"/>
<path d="M201.07,138.8L203.27,142.7L198.87,142.7Z" fill="#ff0000"/>
<path d="M194.4,133.93L196.6,137.83L192.2,137.83Z" fill="#ff0000"/>
<path d="M187.8,129.26L190,133.16L185.6,133.16Z" fill="#ff0000"/>
<path d="M181.29,125.59L183.49,129.49L179.09,129.49Z" fill="#ff0000"/>
<path d="M174.85,124.53L177.05,128.43L172.65,128.43Z" fill="#ff0000"/>
<path d="M168.49,123.72L170.69,127.62L166.29,127.62Z" fill="#ff0000"/>
<g stroke="#1a1a1a" stroke-width="1.2" fill="none">
<line x1="161.5" y1="4.35" x2="161.5" y2="245.85"/>
<line x1="11.5" y1="125.1" x2="311.5" y2="125.1"/>
<line x1="161.5" y1="245.85" x2="167" y2="245.85"/>
<line x1="161.5" y1="233.77" x2="164.5" y2="233.77"/>
<line x1="161.5" y1="221.7" x2="167" y2="221.7"/>
<line x1="161.5" y1="209.62" x2="164.5" y2="209.62"/>
<line x1="161.5" y1="197.55" x2="167" y2="197.55"/>
<line x1="161.5" y1="185.47" x2="164.5" y2="185.47"/>
<line x1="161.5" y1="173.4" x2="167" y2="173.4"/>
<line x1="161.5" y1="161.32" x2="164.5" y2="161.32"/>
<line x1="161.5" y1="149.25" x2="167" y2="149.25"/>
<line x1="161.5" y1="137.17" x2="164.5" y2="137.17"/>
<line x1="161.5" y1="125.1" x2="167" y2="125.1"/>
<line x1="161.5" y1="113.02" x2="164.5" y2="113.02"/>
<line x1="161.5" y1="100.95" x2="167" y2="100.95"/>
<line x1="161.5" y1="88.87" x2="164.5" y2="88.87"/>
<line x1="161.5" y1="76.8" x2="167" y2="76.8"/>
<line x1="161.5" y1="64.72" x2="164.5" y2="64.72"/>
<line x1="161.5" y1="52.65" x2="167" y2="52.65"/>
<line x1="161.5" y1="40.57" x2="164.5" y2="40.57"/>
<line x1="161.5" y1="28.5" x2="167" y2="28.5"/>
<line x1="161.5" y1="16.42" x2="164.5" y2="16.42"/>
<line x1="161.5" y1="4.35" x2="167" y2="4.35"/>
<line x1="11.5" y1="125.1" x2="11.5" y2="121.1"/>
<line x1="26.5" y1="125.1" x2="26.5" y2="123.1"/>
<line x1="41.5" y1="125.1" x2="41.5" y2="121.1"/>
<line x1="56.5" y1="125.1" x2="56.5" y2="123.1"/>
<line x1="71.5" y1="125.1" x2="71.5" y2="121.1"/>
<line x1="86.5" y1="125.1" x2="86.5" y2="123.1"/>
<line x1="101.5" y1="125.1" x2="101.5" y2="121.1"/>
<line x1="116.5" y1="125.1" x2="116.5" y2="123.1"/>
<line x1="131.5" y1="125.1" x2="131.5" y2="121.1"/>
<line x1="146.5" y1="125.1" x2="146.5" y2="123.1"/>
<line x1="176.5" y1="125.1" x2="176.5" y2="123.1"/>
<line x1="191.5" y1="125.1" x2="191.5" y2="121.1"/>
<line x1="206.5" y1="125.1" x2="206.5" y2="123.1"/>
<line x1="221.5" y1="125.1" x2="221.5" y2="121.1"/>
<line x1="236.5" y1="125.1" x2="236.5" y2="123.1"/>
<line x1="251.5" y1="125.1" x2="251.5" y2="121.1"/>
<line x1="266.5" y1="125.1" x2="266.5" y2="123.1"/>
<line x1="281.5" y1="125.1" x2="281.5" y2="121.1"/>
<line x1="296.5" y1="125.1" x2="296.5" y2="123.1"/>
<line x1="311.5" y1="125.1" x2="311.5" y2="121.1"/>
</g>
<g font-size="13.3" fill="#1a1a1a">
<text transform="translate(157.9,249.95) scale(0.8,1)" text-anchor="end">-1.0</text>
<text transform="translate(157.9,225.8) scale(0.8,1)" text-anchor="end">-0.8</text>
<text transform="translate(157.9,201.65) scale(0.8,1)" text-anchor="end">-0.6</text>
<text transform="translate(157.9,177.5) scale(0.8,1)" text-anchor="end">-0.4</text>
<text transform="translate(157.9,153.35) scale(0.8,1)" text-anchor="end">-0.2</text>
<text transform="translate(157.9,129.2) scale(0.8,1)" text-anchor="end">0.0</text>
<text transform="translate(157.9,105.05) scale(0.8,1)" text-anchor="end">0.2</text>
<text transform="translate(157.9,80.9) scale(0.8,1)" text-anchor="end">0.4</text>
<text transform="translate(157.9,56.75) scale(0.8,1)" text-anchor="end">0.6</text>
<text transform="translate(157.9,32.6) scale(0.8,1)" text-anchor="end">0.8</text>
<text transform="translate(157.9,8.45) scale(0.8,1)" text-anchor="end">1.0</text>
<text transform="translate(11.5,137.2) scale(0.8,1)" text-anchor="middle">-15</text>
<text transform="translate(41.5,137.2) scale(0.8,1)" text-anchor="middle">-12</text>
<text transform="translate(71.5,137.2) scale(0.8,1)" text-anchor="middle">-9</text>
<text transform="translate(101.5,137.2) scale(0.8,1)" text-anchor="middle">-6</text>
<text transform="translate(131.5,137.2) scale(0.8,1)" text-anchor="middle">-3</text>
<text transform="translate(161.5,137.2) scale(0.8,1)" text-anchor="middle">0</text>
<text transform="translate(191.5,137.2) scale(0.8,1)" text-anchor="middle">3</text>
<text transform="translate(221.5,137.2) scale(0.8,1)" text-anchor="middle">6</text>
<text transform="translate(251.5,137.2) scale(0.8,1)" text-anchor="middle">9</text>
<text transform="translate(281.5,137.2) scale(0.8,1)" text-anchor="middle">12</text>
<text transform="translate(311.5,137.2) scale(0.8,1)" text-anchor="middle">15</text>
</g>
<text transform="translate(178.3,126.3) rotate(-90) scale(1.08,1)" text-anchor="middle" font-size="12.7" fill="#1a1a1a">Energy density/(+/−10<tspan font-size="8.2" dy="-6.8">6</tspan><tspan dy="6.8">J/m</tspan><tspan font-size="8.2" dy="-6.8">3</tspan><tspan dy="6.8">)</tspan></text>
<text x="178.5" y="149.7" font-size="13.7" fill="#1a1a1a">Axial strain/(+/−10<tspan font-size="9.5" dy="-6">-2</tspan><tspan dy="6">)</tspan></text>
<line x1="186.1" y1="39.9" x2="210.8" y2="39.9" stroke="#2e961c" stroke-width="1.1"/>
<rect x="197.25" y="38.7" width="2.4" height="2.4" fill="#2e961c"/>
<text x="212.7" y="43.4" font-size="11.5" fill="#1a1a1a">U<tspan font-size="7" dy="2.5">F</tspan></text>
<line x1="228.1" y1="39.9" x2="251.5" y2="39.9" stroke="#ff8000" stroke-width="1.1"/>
<circle cx="239.8" cy="39.9" r="1.3" fill="#ff8000"/>
<text x="255.6" y="43.4" font-size="11.5" fill="#1a1a1a">U<tspan font-size="7" dy="2.5">E</tspan></text>
<line x1="271" y1="39.9" x2="294.5" y2="39.9" stroke="#ff0000" stroke-width="1.1"/>
<path d="M282.75,38.2L284.35,41L281.15,41Z" fill="#ff0000"/>
<text x="297.5" y="43.4" font-size="11.5" fill="#1a1a1a">U<tspan font-size="7" dy="2.5">D</tspan></text>
<rect x="43.7" y="8.65" width="60.3" height="21.2" fill="#00ff00"/>
<rect x="39.5" y="4.65" width="60.3" height="21.2" fill="#fff" stroke="#1a1a1a" stroke-width="1.2"/>
<text x="40.7" y="18.85" font-size="12.3" fill="#1a1a1a">σ<tspan font-size="7" dy="2.5" dx="1">3</tspan><tspan dy="-2.5">=1.0MPa</tspan></text>
<rect x="223.5" y="8.65" width="60.4" height="21.2" fill="#ff0000"/>
<rect x="219.3" y="4.65" width="60.4" height="21.2" fill="#fff" stroke="#1a1a1a" stroke-width="1.2"/>
<text x="220.5" y="18.85" font-size="12.3" fill="#1a1a1a">σ<tspan font-size="7" dy="2.5" dx="1">3</tspan><tspan dy="-2.5">=0.5MPa</tspan></text>
<rect x="43.7" y="225.35" width="60.3" height="20.7" fill="#0000ff"/>
<rect x="39.5" y="221.35" width="60.3" height="20.7" fill="#fff" stroke="#1a1a1a" stroke-width="1.2"/>
<text x="40.7" y="235.55" font-size="12.3" fill="#1a1a1a">σ<tspan font-size="7" dy="2.5" dx="1">3</tspan><tspan dy="-2.5">=1.5MPa</tspan></text>
<rect x="223.5" y="225.35" width="60.4" height="20.7" fill="#ff8000"/>
<rect x="219.3" y="221.35" width="60.4" height="20.7" fill="#fff" stroke="#1a1a1a" stroke-width="1.2"/>
<text x="220.5" y="235.55" font-size="12.3" fill="#1a1a1a">σ<tspan font-size="7" dy="2.5" dx="1">3</tspan><tspan dy="-2.5">=2.0MPa</tspan></text>
<text x="0.7" y="276.8" font-size="19" letter-spacing="0.2" fill="#222" stroke="#222" stroke-width="0.3">(a) T=-5°C</text>
<polyline points="529.5,125.4 530.75,125.19 532,124.97 533.25,124.74 534.5,124.51 535.75,124.28 537,124.03 538.25,123.78 539.5,123.53 540.75,123.27 542,123.01 543.25,122.74 544.5,122.47 545.75,122.19 547,121.91 548.25,121.63 549.5,121.34 550.75,121.05 552,120.75 553.25,120.44 554.5,120.13 555.75,119.8 557,119.46 558.25,119.11 559.5,118.75 560.75,118.38 562,117.99 563.25,117.59 564.5,117.18 565.75,116.76 567,116.32 568.25,115.88 569.5,115.42 570.75,114.96 572,114.49 573.25,114.01 574.5,113.52 575.75,113.01 577,112.49 578.25,111.95 579.5,111.39 580.75,110.82 582,110.24 583.25,109.65 584.5,109.07 585.75,108.48 587,107.9 588.25,107.33 589.5,106.77 590.75,106.22 592,105.66 593.25,105.11 594.5,104.56 595.75,104.01 597,103.46 598.25,102.91 599.5,102.37 600.75,101.83 602,101.29 603.25,100.76 604.5,100.23 605.75,99.7 607,99.18 608.25,98.66 609.5,98.15 610.75,97.64 612,97.13 613.25,96.63 614.5,96.12 615.75,95.61 617,95.1 618.25,94.59 619.5,94.08 620.75,93.57 622,93.05 623.25,92.53 624.5,92.01 625.75,91.49 627,90.97 628.25,90.45 629.5,89.93 630.75,89.4 632,88.88 633.25,88.36 634.5,87.84 635.75,87.32 637,86.8 638.25,86.28 639.5,85.76 640.75,85.24 642,84.73 643.25,84.22 644.5,83.71 645.75,83.2 647,82.7 648.25,82.19 649.5,81.7 650.75,81.2 652,80.71 653.25,80.21 654.5,79.72 655.75,79.23 657,78.74 658.25,78.26 659.5,77.77 660.75,77.29 662,76.81 663.25,76.32 664.5,75.85 665.75,75.37 667,74.89 668.25,74.42 669.5,73.94 670.75,73.47 672,73 673.25,72.53 674.5,72.07 675.75,71.6 677,71.14 678.25,70.68 679.5,70.22" fill="none" stroke="#2e961c" stroke-width="0.9"/>
<rect x="677.8" y="68.52" width="3.4" height="3.4" fill="#2e961c"/>
<rect x="670.8" y="71.11" width="3.4" height="3.4" fill="#2e961c"/>
<rect x="663.8" y="73.76" width="3.4" height="3.4" fill="#2e961c"/>
<rect x="656.8" y="76.46" width="3.4" height="3.4" fill="#2e961c"/>
<rect x="649.8" y="79.2" width="3.4" height="3.4" fill="#2e961c"/>
<rect x="642.8" y="82.01" width="3.4" height="3.4" fill="#2e961c"/>
<rect x="635.8" y="84.89" width="3.4" height="3.4" fill="#2e961c"/>
<rect x="628.8" y="87.81" width="3.4" height="3.4" fill="#2e961c"/>
<rect x="621.8" y="90.73" width="3.4" height="3.4" fill="#2e961c"/>
<rect x="614.8" y="93.61" width="3.4" height="3.4" fill="#2e961c"/>
<rect x="607.8" y="96.45" width="3.4" height="3.4" fill="#2e961c"/>
<rect x="600.8" y="99.38" width="3.4" height="3.4" fill="#2e961c"/>
<rect x="593.8" y="102.42" width="3.4" height="3.4" fill="#2e961c"/>
<rect x="586.8" y="105.52" width="3.4" height="3.4" fill="#2e961c"/>
<rect x="579.8" y="108.77" width="3.4" height="3.4" fill="#2e961c"/>
<rect x="572.8" y="111.82" width="3.4" height="3.4" fill="#2e961c"/>
<rect x="565.8" y="114.45" width="3.4" height="3.4" fill="#2e961c"/>
<rect x="558.8" y="116.76" width="3.4" height="3.4" fill="#2e961c"/>
<rect x="551.8" y="118.68" width="3.4" height="3.4" fill="#2e961c"/>
<rect x="544.8" y="120.33" width="3.4" height="3.4" fill="#2e961c"/>
<rect x="537.8" y="121.83" width="3.4" height="3.4" fill="#2e961c"/>
<rect x="530.8" y="123.18" width="3.4" height="3.4" fill="#2e961c"/>
<polyline points="529.5,125.4 530.75,125.17 532,124.94 533.25,124.73 534.5,124.53 535.75,124.34 537,124.17 538.25,124.02 539.5,123.89 540.75,123.78 542,123.68 543.25,123.59 544.5,123.51 545.75,123.43 547,123.35 548.25,123.27 549.5,123.18 550.75,123.09 552,123 553.25,122.91 554.5,122.81 555.75,122.72 557,122.63 558.25,122.55 559.5,122.48 560.75,122.41 562,122.35 563.25,122.29 564.5,122.24 565.75,122.18 567,122.13 568.25,122.08 569.5,122.04 570.75,121.99 572,121.95 573.25,121.9 574.5,121.86 575.75,121.82 577,121.77 578.25,121.73 579.5,121.68 580.75,121.64 582,121.59 583.25,121.55 584.5,121.5 585.75,121.44 587,121.39 588.25,121.33 589.5,121.27 590.75,121.21 592,121.14 593.25,121.06 594.5,120.98 595.75,120.9 597,120.82 598.25,120.73 599.5,120.65 600.75,120.57 602,120.5 603.25,120.43 604.5,120.37 605.75,120.31 607,120.25 608.25,120.19 609.5,120.14 610.75,120.08 612,120.03 613.25,119.98 614.5,119.94 615.75,119.89 617,119.85 618.25,119.8 619.5,119.76 620.75,119.72 622,119.68 623.25,119.64 624.5,119.6 625.75,119.56 627,119.52 628.25,119.48 629.5,119.45 630.75,119.41 632,119.37 633.25,119.34 634.5,119.3 635.75,119.27 637,119.23 638.25,119.2 639.5,119.17 640.75,119.14 642,119.11 643.25,119.08 644.5,119.05 645.75,119.03 647,119 648.25,118.98 649.5,118.96 650.75,118.93 652,118.91 653.25,118.89 654.5,118.87 655.75,118.85 657,118.83 658.25,118.81 659.5,118.79 660.75,118.77 662,118.75 663.25,118.73 664.5,118.71 665.75,118.69 667,118.68 668.25,118.66 669.5,118.65 670.75,118.63 672,118.62 673.25,118.61 674.5,118.59 675.75,118.58 677,118.57 678.25,118.56 679.5,118.55" fill="none" stroke="#ff8000" stroke-width="0.9"/>
<circle cx="679.5" cy="118.55" r="1.95" fill="#ff8000"/>
<circle cx="672.5" cy="118.61" r="1.95" fill="#ff8000"/>
<circle cx="665.5" cy="118.7" r="1.95" fill="#ff8000"/>
<circle cx="658.5" cy="118.8" r="1.95" fill="#ff8000"/>
<circle cx="651.5" cy="118.92" r="1.95" fill="#ff8000"/>
<circle cx="644.5" cy="119.05" r="1.95" fill="#ff8000"/>
<circle cx="637.5" cy="119.22" r="1.95" fill="#ff8000"/>
<circle cx="630.5" cy="119.42" r="1.95" fill="#ff8000"/>
<circle cx="623.5" cy="119.63" r="1.95" fill="#ff8000"/>
<circle cx="616.5" cy="119.86" r="1.95" fill="#ff8000"/>
<circle cx="609.5" cy="120.14" r="1.95" fill="#ff8000"/>
<circle cx="602.5" cy="120.47" r="1.95" fill="#ff8000"/>
<circle cx="595.5" cy="120.92" r="1.95" fill="#ff8000"/>
<circle cx="588.5" cy="121.32" r="1.95" fill="#ff8000"/>
<circle cx="581.5" cy="121.61" r="1.95" fill="#ff8000"/>
<circle cx="574.5" cy="121.86" r="1.95" fill="#ff8000"/>
<circle cx="567.5" cy="122.11" r="1.95" fill="#ff8000"/>
<circle cx="560.5" cy="122.43" r="1.95" fill="#ff8000"/>
<circle cx="553.5" cy="122.89" r="1.95" fill="#ff8000"/>
<circle cx="546.5" cy="123.38" r="1.95" fill="#ff8000"/>
<circle cx="539.5" cy="123.89" r="1.95" fill="#ff8000"/>
<circle cx="532.5" cy="124.85" r="1.95" fill="#ff8000"/>
<polyline points="529.5,125.4 530.75,125.34 532,125.26 533.25,125.18 534.5,125.09 535.75,124.99 537,124.88 538.25,124.76 539.5,124.64 540.75,124.5 542,124.37 543.25,124.23 544.5,124.08 545.75,123.93 547,123.78 548.25,123.62 549.5,123.46 550.75,123.28 552,123.08 553.25,122.87 554.5,122.65 555.75,122.42 557,122.18 558.25,121.93 559.5,121.67 560.75,121.41 562,121.12 563.25,120.83 564.5,120.52 565.75,120.2 567,119.86 568.25,119.52 569.5,119.16 570.75,118.8 572,118.42 573.25,118.04 574.5,117.65 575.75,117.23 577,116.79 578.25,116.33 579.5,115.85 580.75,115.35 582,114.84 583.25,114.33 584.5,113.81 585.75,113.29 587,112.79 588.25,112.29 589.5,111.81 590.75,111.33 592,110.86 593.25,110.39 594.5,109.92 595.75,109.46 597,108.99 598.25,108.53 599.5,108.07 600.75,107.62 602,107.16 603.25,106.71 604.5,106.27 605.75,105.83 607,105.39 608.25,104.97 609.5,104.55 610.75,104.13 612,103.71 613.25,103.29 614.5,102.87 615.75,102.44 617,102.01 618.25,101.58 619.5,101.13 620.75,100.68 622,100.22 623.25,99.76 624.5,99.29 625.75,98.82 627,98.35 628.25,97.87 629.5,97.4 630.75,96.91 632,96.43 633.25,95.94 634.5,95.46 635.75,94.97 637,94.47 638.25,93.98 639.5,93.49 640.75,93 642,92.5 643.25,92.01 644.5,91.52 645.75,91.02 647,90.53 648.25,90.04 649.5,89.55 650.75,89.06 652,88.57 653.25,88.08 654.5,87.59 655.75,87.1 657,86.61 658.25,86.12 659.5,85.62 660.75,85.13 662,84.64 663.25,84.14 664.5,83.65 665.75,83.15 667,82.66 668.25,82.16 669.5,81.66 670.75,81.17 672,80.67 673.25,80.17 674.5,79.67 675.75,79.17 677,78.67 678.25,78.17 679.5,77.67" fill="none" stroke="#ff0000" stroke-width="0.9"/>
<path d="M679.5,75.37L681.7,79.27L677.3,79.27Z" fill="#ff0000"/>
<path d="M672.5,78.17L674.7,82.07L670.3,82.07Z" fill="#ff0000"/>
<path d="M665.5,80.95L667.7,84.85L663.3,84.85Z" fill="#ff0000"/>
<path d="M658.5,83.72L660.7,87.62L656.3,87.62Z" fill="#ff0000"/>
<path d="M651.5,86.47L653.7,90.37L649.3,90.37Z" fill="#ff0000"/>
<path d="M644.5,89.22L646.7,93.12L642.3,93.12Z" fill="#ff0000"/>
<path d="M637.5,91.98L639.7,95.88L635.3,95.88Z" fill="#ff0000"/>
<path d="M630.5,94.71L632.7,98.61L628.3,98.61Z" fill="#ff0000"/>
<path d="M623.5,97.37L625.7,101.27L621.3,101.27Z" fill="#ff0000"/>
<path d="M616.5,99.89L618.7,103.79L614.3,103.79Z" fill="#ff0000"/>
<path d="M609.5,102.25L611.7,106.15L607.3,106.15Z" fill="#ff0000"/>
<path d="M602.5,104.68L604.7,108.58L600.3,108.58Z" fill="#ff0000"/>
<path d="M595.5,107.25L597.7,111.15L593.3,111.15Z" fill="#ff0000"/>
<path d="M588.5,109.89L590.7,113.79L586.3,113.79Z" fill="#ff0000"/>
<path d="M581.5,112.74L583.7,116.64L579.3,116.64Z" fill="#ff0000"/>
<path d="M574.5,115.35L576.7,119.25L572.3,119.25Z" fill="#ff0000"/>
<path d="M567.5,117.43L569.7,121.33L565.3,121.33Z" fill="#ff0000"/>
<path d="M560.5,119.16L562.7,123.06L558.3,123.06Z" fill="#ff0000"/>
<path d="M553.5,120.53L555.7,124.43L551.3,124.43Z" fill="#ff0000"/>
<path d="M546.5,121.54L548.7,125.44L544.3,125.44Z" fill="#ff0000"/>
<path d="M539.5,122.34L541.7,126.24L537.3,126.24Z" fill="#ff0000"/>
<path d="M532.5,122.93L534.7,126.83L530.3,126.83Z" fill="#ff0000"/>
<polyline points="529.5,125.4 528.25,125.19 527,124.91 525.75,124.57 524.5,124.19 523.25,123.71 522,123.11 520.75,122.47 519.5,121.88 518.25,121.34 517,120.81 515.75,120.29 514.5,119.79 513.25,119.31 512,118.85 510.75,118.44 509.5,118.07 508.25,117.7 507,117.29 505.75,116.82 504.5,116.26 503.25,115.64 502,115.01 500.75,114.42 499.5,113.9 498.25,113.42 497,112.97 495.75,112.5 494.5,111.99 493.25,111.41 492,110.77 490.75,110.1 489.5,109.42 488.25,108.76 487,108.12 485.75,107.48 484.5,106.84 483.25,106.2 482,105.56 480.75,104.92 479.5,104.27 478.25,103.63 477,102.99 475.75,102.37 474.5,101.76 473.25,101.16 472,100.56 470.75,99.97 469.5,99.39 468.25,98.79 467,98.19 465.75,97.58 464.5,96.97 463.25,96.34 462,95.72 460.75,95.09 459.5,94.45 458.25,93.82 457,93.18 455.75,92.54 454.5,91.9 453.25,91.26 452,90.62 450.75,89.98 449.5,89.35 448.25,88.72 447,88.08 445.75,87.45 444.5,86.81 443.25,86.18 442,85.54 440.75,84.91 439.5,84.27 438.25,83.64 437,83.01 435.75,82.37 434.5,81.74 433.25,81.11 432,80.48 430.75,79.86 429.5,79.23 428.25,78.61 427,77.98 425.75,77.36 424.5,76.74 423.25,76.12 422,75.5 420.75,74.89 419.5,74.27 418.25,73.65 417,73.04 415.75,72.42 414.5,71.81 413.25,71.19 412,70.57 410.75,69.96 409.5,69.34 408.25,68.73 407,68.11 405.75,67.5 404.5,66.88 403.25,66.27 402,65.65 400.75,65.04 399.5,64.42 398.25,63.81 397,63.19 395.75,62.58 394.5,61.96 393.25,61.35 392,60.73 390.75,60.12 389.5,59.51 388.25,58.89 387,58.28 385.75,57.67 384.5,57.06 383.25,56.44 382,55.83 380.75,55.22 379.5,54.61" fill="none" stroke="#2e961c" stroke-width="0.9"/>
<rect x="377.8" y="52.91" width="3.4" height="3.4" fill="#2e961c"/>
<rect x="384.7" y="56.29" width="3.4" height="3.4" fill="#2e961c"/>
<rect x="391.42" y="59.59" width="3.4" height="3.4" fill="#2e961c"/>
<rect x="397.97" y="62.8" width="3.4" height="3.4" fill="#2e961c"/>
<rect x="404.34" y="65.94" width="3.4" height="3.4" fill="#2e961c"/>
<rect x="410.55" y="69" width="3.4" height="3.4" fill="#2e961c"/>
<rect x="416.6" y="71.98" width="3.4" height="3.4" fill="#2e961c"/>
<rect x="422.49" y="74.89" width="3.4" height="3.4" fill="#2e961c"/>
<rect x="428.23" y="77.75" width="3.4" height="3.4" fill="#2e961c"/>
<rect x="433.82" y="80.56" width="3.4" height="3.4" fill="#2e961c"/>
<rect x="439.26" y="83.32" width="3.4" height="3.4" fill="#2e961c"/>
<rect x="444.56" y="86.01" width="3.4" height="3.4" fill="#2e961c"/>
<rect x="449.73" y="88.63" width="3.4" height="3.4" fill="#2e961c"/>
<rect x="454.76" y="91.2" width="3.4" height="3.4" fill="#2e961c"/>
<rect x="459.66" y="93.69" width="3.4" height="3.4" fill="#2e961c"/>
<rect x="464.43" y="96.07" width="3.4" height="3.4" fill="#2e961c"/>
<rect x="469.08" y="98.29" width="3.4" height="3.4" fill="#2e961c"/>
<rect x="473.6" y="100.45" width="3.4" height="3.4" fill="#2e961c"/>
<rect x="478.01" y="102.68" width="3.4" height="3.4" fill="#2e961c"/>
<rect x="482.31" y="104.89" width="3.4" height="3.4" fill="#2e961c"/>
<rect x="486.49" y="107.03" width="3.4" height="3.4" fill="#2e961c"/>
<rect x="490.56" y="109.21" width="3.4" height="3.4" fill="#2e961c"/>
<rect x="494.53" y="110.99" width="3.4" height="3.4" fill="#2e961c"/>
<rect x="498.4" y="112.44" width="3.4" height="3.4" fill="#2e961c"/>
<rect x="502.16" y="114.25" width="3.4" height="3.4" fill="#2e961c"/>
<rect x="505.83" y="115.77" width="3.4" height="3.4" fill="#2e961c"/>
<rect x="509.4" y="116.85" width="3.4" height="3.4" fill="#2e961c"/>
<rect x="512.88" y="118.12" width="3.4" height="3.4" fill="#2e961c"/>
<rect x="516.27" y="119.52" width="3.4" height="3.4" fill="#2e961c"/>
<rect x="519.57" y="121.03" width="3.4" height="3.4" fill="#2e961c"/>
<rect x="522.78" y="122.49" width="3.4" height="3.4" fill="#2e961c"/>
<polyline points="529.5,125.4 528.25,124.85 527,124.33 525.75,123.84 524.5,123.39 523.25,122.96 522,122.56 520.75,122.2 519.5,121.88 518.25,121.59 517,121.33 515.75,121.09 514.5,120.87 513.25,120.66 512,120.47 510.75,120.28 509.5,120.12 508.25,119.96 507,119.81 505.75,119.66 504.5,119.51 503.25,119.36 502,119.24 500.75,119.14 499.5,119.06 498.25,118.99 497,118.92 495.75,118.86 494.5,118.81 493.25,118.75 492,118.7 490.75,118.65 489.5,118.6 488.25,118.55 487,118.5 485.75,118.44 484.5,118.39 483.25,118.34 482,118.29 480.75,118.24 479.5,118.19 478.25,118.14 477,118.1 475.75,118.05 474.5,118.01 473.25,117.97 472,117.93 470.75,117.89 469.5,117.86 468.25,117.82 467,117.79 465.75,117.75 464.5,117.72 463.25,117.68 462,117.65 460.75,117.61 459.5,117.58 458.25,117.55 457,117.51 455.75,117.48 454.5,117.44 453.25,117.41 452,117.37 450.75,117.34 449.5,117.3 448.25,117.26 447,117.23 445.75,117.19 444.5,117.16 443.25,117.12 442,117.09 440.75,117.07 439.5,117.04 438.25,117.02 437,117 435.75,116.98 434.5,116.96 433.25,116.94 432,116.92 430.75,116.9 429.5,116.88 428.25,116.86 427,116.85 425.75,116.83 424.5,116.81 423.25,116.8 422,116.78 420.75,116.77 419.5,116.75 418.25,116.74 417,116.72 415.75,116.71 414.5,116.7 413.25,116.68 412,116.67 410.75,116.65 409.5,116.64 408.25,116.62 407,116.61 405.75,116.6 404.5,116.58 403.25,116.57 402,116.56 400.75,116.54 399.5,116.53 398.25,116.52 397,116.5 395.75,116.49 394.5,116.48 393.25,116.46 392,116.45 390.75,116.44 389.5,116.43 388.25,116.42 387,116.4 385.75,116.39 384.5,116.38 383.25,116.37 382,116.36 380.75,116.35 379.5,116.34" fill="none" stroke="#ff8000" stroke-width="0.9"/>
<circle cx="379.5" cy="116.34" r="1.95" fill="#ff8000"/>
<circle cx="386.4" cy="116.4" r="1.95" fill="#ff8000"/>
<circle cx="393.12" cy="116.46" r="1.95" fill="#ff8000"/>
<circle cx="399.67" cy="116.53" r="1.95" fill="#ff8000"/>
<circle cx="406.04" cy="116.6" r="1.95" fill="#ff8000"/>
<circle cx="412.25" cy="116.67" r="1.95" fill="#ff8000"/>
<circle cx="418.3" cy="116.74" r="1.95" fill="#ff8000"/>
<circle cx="424.19" cy="116.81" r="1.95" fill="#ff8000"/>
<circle cx="429.93" cy="116.89" r="1.95" fill="#ff8000"/>
<circle cx="435.52" cy="116.97" r="1.95" fill="#ff8000"/>
<circle cx="440.96" cy="117.07" r="1.95" fill="#ff8000"/>
<circle cx="446.26" cy="117.21" r="1.95" fill="#ff8000"/>
<circle cx="451.43" cy="117.36" r="1.95" fill="#ff8000"/>
<circle cx="456.46" cy="117.5" r="1.95" fill="#ff8000"/>
<circle cx="461.36" cy="117.63" r="1.95" fill="#ff8000"/>
<circle cx="466.13" cy="117.76" r="1.95" fill="#ff8000"/>
<circle cx="470.78" cy="117.9" r="1.95" fill="#ff8000"/>
<circle cx="475.3" cy="118.04" r="1.95" fill="#ff8000"/>
<circle cx="479.71" cy="118.2" r="1.95" fill="#ff8000"/>
<circle cx="484.01" cy="118.37" r="1.95" fill="#ff8000"/>
<circle cx="488.19" cy="118.55" r="1.95" fill="#ff8000"/>
<circle cx="492.26" cy="118.71" r="1.95" fill="#ff8000"/>
<circle cx="496.23" cy="118.88" r="1.95" fill="#ff8000"/>
<circle cx="500.1" cy="119.1" r="1.95" fill="#ff8000"/>
<circle cx="503.86" cy="119.43" r="1.95" fill="#ff8000"/>
<circle cx="507.53" cy="119.87" r="1.95" fill="#ff8000"/>
<circle cx="511.1" cy="120.33" r="1.95" fill="#ff8000"/>
<circle cx="514.58" cy="120.88" r="1.95" fill="#ff8000"/>
<circle cx="517.97" cy="121.53" r="1.95" fill="#ff8000"/>
<circle cx="521.27" cy="122.34" r="1.95" fill="#ff8000"/>
<circle cx="524.48" cy="123.38" r="1.95" fill="#ff8000"/>
<polyline points="529.5,125.4 528.25,125.4 527,125.4 525.75,125.4 524.5,125.4 523.25,125.4 522,125.4 520.75,125.4 519.5,125.4 518.25,125.37 517,125.3 515.75,125.21 514.5,125.1 513.25,124.96 512,124.78 510.75,124.55 509.5,124.29 508.25,124.01 507,123.69 505.75,123.33 504.5,122.86 503.25,122.33 502,121.79 500.75,121.27 499.5,120.78 498.25,120.29 497,119.79 495.75,119.3 494.5,118.82 493.25,118.34 492,117.88 490.75,117.41 489.5,116.93 488.25,116.42 487,115.87 485.75,115.29 484.5,114.69 483.25,114.1 482,113.52 480.75,112.96 479.5,112.42 478.25,111.89 477,111.34 475.75,110.77 474.5,110.17 473.25,109.53 472,108.88 470.75,108.22 469.5,107.56 468.25,106.9 467,106.26 465.75,105.64 464.5,105.04 463.25,104.45 462,103.86 460.75,103.29 459.5,102.72 458.25,102.15 457,101.59 455.75,101.03 454.5,100.47 453.25,99.9 452,99.34 450.75,98.78 449.5,98.21 448.25,97.64 447,97.07 445.75,96.5 444.5,95.93 443.25,95.36 442,94.79 440.75,94.22 439.5,93.65 438.25,93.08 437,92.51 435.75,91.95 434.5,91.38 433.25,90.81 432,90.25 430.75,89.69 429.5,89.13 428.25,88.57 427,88.02 425.75,87.47 424.5,86.93 423.25,86.39 422,85.85 420.75,85.31 419.5,84.77 418.25,84.22 417,83.68 415.75,83.13 414.5,82.58 413.25,82.02 412,81.45 410.75,80.88 409.5,80.29 408.25,79.7 407,79.1 405.75,78.49 404.5,77.88 403.25,77.26 402,76.64 400.75,76.02 399.5,75.38 398.25,74.75 397,74.1 395.75,73.46 394.5,72.8 393.25,72.15 392,71.48 390.75,70.82 389.5,70.14 388.25,69.47 387,68.78 385.75,68.09 384.5,67.4 383.25,66.7 382,66 380.75,65.29 379.5,64.58" fill="none" stroke="#ff0000" stroke-width="0.9"/>
<path d="M379.5,62.28L381.7,66.18L377.3,66.18Z" fill="#ff0000"/>
<path d="M386.4,66.15L388.6,70.05L384.2,70.05Z" fill="#ff0000"/>
<path d="M393.12,69.78L395.32,73.68L390.92,73.68Z" fill="#ff0000"/>
<path d="M399.67,73.17L401.87,77.07L397.47,77.07Z" fill="#ff0000"/>
<path d="M406.04,76.34L408.24,80.24L403.84,80.24Z" fill="#ff0000"/>
<path d="M412.25,79.27L414.45,83.17L410.05,83.17Z" fill="#ff0000"/>
<path d="M418.3,81.95L420.5,85.85L416.1,85.85Z" fill="#ff0000"/>
<path d="M424.19,84.49L426.39,88.39L421.99,88.39Z" fill="#ff0000"/>
<path d="M429.93,87.02L432.13,90.92L427.73,90.92Z" fill="#ff0000"/>
<path d="M435.52,89.54L437.72,93.44L433.32,93.44Z" fill="#ff0000"/>
<path d="M440.96,92.02L443.16,95.92L438.76,95.92Z" fill="#ff0000"/>
<path d="M446.26,94.43L448.46,98.33L444.06,98.33Z" fill="#ff0000"/>
<path d="M451.43,96.79L453.63,100.69L449.23,100.69Z" fill="#ff0000"/>
<path d="M456.46,99.04L458.66,102.94L454.26,102.94Z" fill="#ff0000"/>
<path d="M461.36,101.27L463.56,105.17L459.16,105.17Z" fill="#ff0000"/>
<path d="M466.13,103.53L468.33,107.43L463.93,107.43Z" fill="#ff0000"/>
<path d="M470.78,105.94L472.98,109.84L468.58,109.84Z" fill="#ff0000"/>
<path d="M475.3,108.26L477.5,112.16L473.1,112.16Z" fill="#ff0000"/>
<path d="M479.71,110.22L481.91,114.12L477.51,114.12Z" fill="#ff0000"/>
<path d="M484.01,112.16L486.21,116.06L481.81,116.06Z" fill="#ff0000"/>
<path d="M488.19,114.09L490.39,117.99L485.99,117.99Z" fill="#ff0000"/>
<path d="M492.26,115.67L494.46,119.57L490.06,119.57Z" fill="#ff0000"/>
<path d="M496.23,117.19L498.43,121.09L494.03,121.09Z" fill="#ff0000"/>
<path d="M500.1,118.72L502.3,122.62L497.9,122.62Z" fill="#ff0000"/>
<path d="M503.86,120.3L506.06,124.2L501.66,124.2Z" fill="#ff0000"/>
<path d="M507.53,121.53L509.73,125.43L505.33,125.43Z" fill="#ff0000"/>
<path d="M511.1,122.32L513.3,126.22L508.9,126.22Z" fill="#ff0000"/>
<path d="M514.58,122.8L516.78,126.7L512.38,126.7Z" fill="#ff0000"/>
<path d="M517.97,123.06L520.17,126.96L515.77,126.96Z" fill="#ff0000"/>
<path d="M521.27,123.1L523.47,127L519.07,127Z" fill="#ff0000"/>
<path d="M524.48,123.1L526.68,127L522.28,127Z" fill="#ff0000"/>
<polyline points="529.5,125.4 528.25,125.63 527,125.89 525.75,126.19 524.5,126.52 523.25,126.87 522,127.25 520.75,127.66 519.5,128.08 518.25,128.52 517,128.98 515.75,129.45 514.5,129.93 513.25,130.45 512,131.04 510.75,131.67 509.5,132.33 508.25,133.02 507,133.73 505.75,134.5 504.5,135.31 503.25,136.14 502,136.96 500.75,137.75 499.5,138.49 498.25,139.17 497,139.82 495.75,140.45 494.5,141.07 493.25,141.68 492,142.31 490.75,142.96 489.5,143.61 488.25,144.26 487,144.92 485.75,145.59 484.5,146.27 483.25,146.97 482,147.68 480.75,148.42 479.5,149.18 478.25,149.94 477,150.71 475.75,151.48 474.5,152.26 473.25,153.05 472,153.84 470.75,154.63 469.5,155.41 468.25,156.19 467,156.97 465.75,157.74 464.5,158.52 463.25,159.3 462,160.07 460.75,160.84 459.5,161.61 458.25,162.38 457,163.15 455.75,163.91 454.5,164.67 453.25,165.43 452,166.18 450.75,166.94 449.5,167.69 448.25,168.43 447,169.18 445.75,169.92 444.5,170.67 443.25,171.41 442,172.15 440.75,172.89 439.5,173.64 438.25,174.38 437,175.13 435.75,175.88 434.5,176.63 433.25,177.39 432,178.15 430.75,178.9 429.5,179.66 428.25,180.42 427,181.17 425.75,181.93 424.5,182.68 423.25,183.43 422,184.18 420.75,184.92 419.5,185.66 418.25,186.39 417,187.12 415.75,187.85 414.5,188.56 413.25,189.27 412,189.98 410.75,190.67 409.5,191.36 408.25,192.04 407,192.72 405.75,193.39 404.5,194.06 403.25,194.72 402,195.38 400.75,196.04 399.5,196.69 398.25,197.34 397,197.99 395.75,198.63 394.5,199.26 393.25,199.9 392,200.52 390.75,201.15 389.5,201.77 388.25,202.38 387,202.99 385.75,203.6 384.5,204.2 383.25,204.8 382,205.39 380.75,205.98 379.5,206.56" fill="none" stroke="#2e961c" stroke-width="0.9"/>
<rect x="377.8" y="204.86" width="3.4" height="3.4" fill="#2e961c"/>
<rect x="384.7" y="201.59" width="3.4" height="3.4" fill="#2e961c"/>
<rect x="391.42" y="198.26" width="3.4" height="3.4" fill="#2e961c"/>
<rect x="397.97" y="194.91" width="3.4" height="3.4" fill="#2e961c"/>
<rect x="404.34" y="191.53" width="3.4" height="3.4" fill="#2e961c"/>
<rect x="410.55" y="188.14" width="3.4" height="3.4" fill="#2e961c"/>
<rect x="416.6" y="184.66" width="3.4" height="3.4" fill="#2e961c"/>
<rect x="422.49" y="181.17" width="3.4" height="3.4" fill="#2e961c"/>
<rect x="428.23" y="177.7" width="3.4" height="3.4" fill="#2e961c"/>
<rect x="433.82" y="174.32" width="3.4" height="3.4" fill="#2e961c"/>
<rect x="439.26" y="171.07" width="3.4" height="3.4" fill="#2e961c"/>
<rect x="444.56" y="167.92" width="3.4" height="3.4" fill="#2e961c"/>
<rect x="449.73" y="164.83" width="3.4" height="3.4" fill="#2e961c"/>
<rect x="454.76" y="161.78" width="3.4" height="3.4" fill="#2e961c"/>
<rect x="459.66" y="158.77" width="3.4" height="3.4" fill="#2e961c"/>
<rect x="464.43" y="155.81" width="3.4" height="3.4" fill="#2e961c"/>
<rect x="469.08" y="152.91" width="3.4" height="3.4" fill="#2e961c"/>
<rect x="473.6" y="150.06" width="3.4" height="3.4" fill="#2e961c"/>
<rect x="478.01" y="147.35" width="3.4" height="3.4" fill="#2e961c"/>
<rect x="482.31" y="144.84" width="3.4" height="3.4" fill="#2e961c"/>
<rect x="486.49" y="142.59" width="3.4" height="3.4" fill="#2e961c"/>
<rect x="490.56" y="140.47" width="3.4" height="3.4" fill="#2e961c"/>
<rect x="494.53" y="138.51" width="3.4" height="3.4" fill="#2e961c"/>
<rect x="498.4" y="136.45" width="3.4" height="3.4" fill="#2e961c"/>
<rect x="502.16" y="134.04" width="3.4" height="3.4" fill="#2e961c"/>
<rect x="505.83" y="131.72" width="3.4" height="3.4" fill="#2e961c"/>
<rect x="509.4" y="129.79" width="3.4" height="3.4" fill="#2e961c"/>
<rect x="512.88" y="128.2" width="3.4" height="3.4" fill="#2e961c"/>
<rect x="516.27" y="126.93" width="3.4" height="3.4" fill="#2e961c"/>
<rect x="519.57" y="125.79" width="3.4" height="3.4" fill="#2e961c"/>
<rect x="522.78" y="124.82" width="3.4" height="3.4" fill="#2e961c"/>
<polyline points="529.5,125.4 528.25,125.91 527,126.41 525.75,126.91 524.5,127.41 523.25,127.93 522,128.47 520.75,129.02 519.5,129.56 518.25,130.07 517,130.54 515.75,130.94 514.5,131.26 513.25,131.53 512,131.76 510.75,131.98 509.5,132.19 508.25,132.4 507,132.63 505.75,132.87 504.5,133.11 503.25,133.34 502,133.56 500.75,133.77 499.5,133.96 498.25,134.13 497,134.29 495.75,134.43 494.5,134.57 493.25,134.71 492,134.86 490.75,135.03 489.5,135.21 488.25,135.4 487,135.59 485.75,135.77 484.5,135.95 483.25,136.1 482,136.24 480.75,136.37 479.5,136.48 478.25,136.6 477,136.72 475.75,136.84 474.5,136.97 473.25,137.1 472,137.23 470.75,137.36 469.5,137.49 468.25,137.62 467,137.74 465.75,137.87 464.5,138 463.25,138.13 462,138.26 460.75,138.39 459.5,138.51 458.25,138.63 457,138.76 455.75,138.88 454.5,138.99 453.25,139.11 452,139.23 450.75,139.36 449.5,139.48 448.25,139.6 447,139.72 445.75,139.83 444.5,139.94 443.25,140.04 442,140.14 440.75,140.23 439.5,140.3 438.25,140.38 437,140.45 435.75,140.52 434.5,140.59 433.25,140.66 432,140.73 430.75,140.8 429.5,140.87 428.25,140.94 427,141 425.75,141.06 424.5,141.12 423.25,141.18 422,141.23 420.75,141.28 419.5,141.33 418.25,141.37 417,141.4 415.75,141.44 414.5,141.46 413.25,141.48 412,141.5 410.75,141.51 409.5,141.51 408.25,141.51 407,141.51 405.75,141.51 404.5,141.51 403.25,141.51 402,141.51 400.75,141.51 399.5,141.51 398.25,141.51 397,141.51 395.75,141.51 394.5,141.51 393.25,141.51 392,141.51 390.75,141.51 389.5,141.51 388.25,141.51 387,141.51 385.75,141.51 384.5,141.51 383.25,141.51 382,141.51 380.75,141.51 379.5,141.51" fill="none" stroke="#ff8000" stroke-width="0.9"/>
<circle cx="379.5" cy="141.51" r="1.95" fill="#ff8000"/>
<circle cx="386.4" cy="141.51" r="1.95" fill="#ff8000"/>
<circle cx="393.12" cy="141.51" r="1.95" fill="#ff8000"/>
<circle cx="399.67" cy="141.51" r="1.95" fill="#ff8000"/>
<circle cx="406.04" cy="141.51" r="1.95" fill="#ff8000"/>
<circle cx="412.25" cy="141.5" r="1.95" fill="#ff8000"/>
<circle cx="418.3" cy="141.37" r="1.95" fill="#ff8000"/>
<circle cx="424.19" cy="141.14" r="1.95" fill="#ff8000"/>
<circle cx="429.93" cy="140.85" r="1.95" fill="#ff8000"/>
<circle cx="435.52" cy="140.53" r="1.95" fill="#ff8000"/>
<circle cx="440.96" cy="140.21" r="1.95" fill="#ff8000"/>
<circle cx="446.26" cy="139.78" r="1.95" fill="#ff8000"/>
<circle cx="451.43" cy="139.29" r="1.95" fill="#ff8000"/>
<circle cx="456.46" cy="138.81" r="1.95" fill="#ff8000"/>
<circle cx="461.36" cy="138.32" r="1.95" fill="#ff8000"/>
<circle cx="466.13" cy="137.84" r="1.95" fill="#ff8000"/>
<circle cx="470.78" cy="137.35" r="1.95" fill="#ff8000"/>
<circle cx="475.3" cy="136.89" r="1.95" fill="#ff8000"/>
<circle cx="479.71" cy="136.46" r="1.95" fill="#ff8000"/>
<circle cx="484.01" cy="136.01" r="1.95" fill="#ff8000"/>
<circle cx="488.19" cy="135.41" r="1.95" fill="#ff8000"/>
<circle cx="492.26" cy="134.83" r="1.95" fill="#ff8000"/>
<circle cx="496.23" cy="134.38" r="1.95" fill="#ff8000"/>
<circle cx="500.1" cy="133.87" r="1.95" fill="#ff8000"/>
<circle cx="503.86" cy="133.22" r="1.95" fill="#ff8000"/>
<circle cx="507.53" cy="132.54" r="1.95" fill="#ff8000"/>
<circle cx="511.1" cy="131.92" r="1.95" fill="#ff8000"/>
<circle cx="514.58" cy="131.24" r="1.95" fill="#ff8000"/>
<circle cx="517.97" cy="130.18" r="1.95" fill="#ff8000"/>
<circle cx="521.27" cy="128.79" r="1.95" fill="#ff8000"/>
<circle cx="524.48" cy="127.42" r="1.95" fill="#ff8000"/>
<polyline points="529.5,125.4 528.25,125.4 527,125.42 525.75,125.44 524.5,125.47 523.25,125.52 522,125.56 520.75,125.62 519.5,125.68 518.25,125.75 517,125.83 515.75,125.92 514.5,126 513.25,126.14 512,126.34 510.75,126.61 509.5,126.91 508.25,127.25 507,127.63 505.75,128.13 504.5,128.71 503.25,129.34 502,129.97 500.75,130.59 499.5,131.14 498.25,131.64 497,132.12 495.75,132.58 494.5,133.04 493.25,133.49 492,133.96 490.75,134.43 489.5,134.9 488.25,135.37 487,135.84 485.75,136.33 484.5,136.85 483.25,137.4 482,138 480.75,138.65 479.5,139.33 478.25,140.02 477,140.69 475.75,141.34 474.5,141.98 473.25,142.61 472,143.24 470.75,143.88 469.5,144.53 468.25,145.2 467,145.87 465.75,146.55 464.5,147.24 463.25,147.93 462,148.62 460.75,149.32 459.5,150.02 458.25,150.72 457,151.41 455.75,152.1 454.5,152.79 453.25,153.47 452,154.16 450.75,154.85 449.5,155.53 448.25,156.21 447,156.9 445.75,157.58 444.5,158.26 443.25,158.94 442,159.61 440.75,160.28 439.5,160.95 438.25,161.61 437,162.27 435.75,162.93 434.5,163.58 433.25,164.24 432,164.89 430.75,165.54 429.5,166.18 428.25,166.83 427,167.48 425.75,168.12 424.5,168.76 423.25,169.4 422,170.04 420.75,170.69 419.5,171.33 418.25,171.97 417,172.61 415.75,173.25 414.5,173.89 413.25,174.53 412,175.17 410.75,175.81 409.5,176.45 408.25,177.1 407,177.74 405.75,178.39 404.5,179.03 403.25,179.67 402,180.32 400.75,180.96 399.5,181.6 398.25,182.24 397,182.89 395.75,183.53 394.5,184.17 393.25,184.81 392,185.45 390.75,186.1 389.5,186.74 388.25,187.38 387,188.02 385.75,188.66 384.5,189.3 383.25,189.94 382,190.58 380.75,191.22 379.5,191.86" fill="none" stroke="#ff0000" stroke-width="0.9"/>
<path d="M379.5,189.56L381.7,193.46L377.3,193.46Z" fill="#ff0000"/>
<path d="M386.4,186.03L388.6,189.93L384.2,189.93Z" fill="#ff0000"/>
<path d="M393.12,182.58L395.32,186.48L390.92,186.48Z" fill="#ff0000"/>
<path d="M399.67,179.22L401.87,183.12L397.47,183.12Z" fill="#ff0000"/>
<path d="M406.04,175.94L408.24,179.84L403.84,179.84Z" fill="#ff0000"/>
<path d="M412.25,172.74L414.45,176.64L410.05,176.64Z" fill="#ff0000"/>
<path d="M418.3,169.64L420.5,173.54L416.1,173.54Z" fill="#ff0000"/>
<path d="M424.19,166.62L426.39,170.52L421.99,170.52Z" fill="#ff0000"/>
<path d="M429.93,163.66L432.13,167.56L427.73,167.56Z" fill="#ff0000"/>
<path d="M435.52,160.75L437.72,164.65L433.32,164.65Z" fill="#ff0000"/>
<path d="M440.96,157.87L443.16,161.77L438.76,161.77Z" fill="#ff0000"/>
<path d="M446.26,155L448.46,158.9L444.06,158.9Z" fill="#ff0000"/>
<path d="M451.43,152.17L453.63,156.07L449.23,156.07Z" fill="#ff0000"/>
<path d="M456.46,149.41L458.66,153.31L454.26,153.31Z" fill="#ff0000"/>
<path d="M461.36,146.68L463.56,150.58L459.16,150.58Z" fill="#ff0000"/>
<path d="M466.13,144.04L468.33,147.94L463.93,147.94Z" fill="#ff0000"/>
<path d="M470.78,141.57L472.98,145.47L468.58,145.47Z" fill="#ff0000"/>
<path d="M475.3,139.27L477.5,143.17L473.1,143.17Z" fill="#ff0000"/>
<path d="M479.71,136.92L481.91,140.82L477.51,140.82Z" fill="#ff0000"/>
<path d="M484.01,134.76L486.21,138.66L481.81,138.66Z" fill="#ff0000"/>
<path d="M488.19,133.09L490.39,136.99L485.99,136.99Z" fill="#ff0000"/>
<path d="M492.26,131.56L494.46,135.46L490.06,135.46Z" fill="#ff0000"/>
<path d="M496.23,130.1L498.43,134L494.03,134Z" fill="#ff0000"/>
<path d="M500.1,128.59L502.3,132.49L497.9,132.49Z" fill="#ff0000"/>
<path d="M503.86,126.73L506.06,130.63L501.66,130.63Z" fill="#ff0000"/>
<path d="M507.53,125.15L509.73,129.05L505.33,129.05Z" fill="#ff0000"/>
<path d="M511.1,124.23L513.3,128.13L508.9,128.13Z" fill="#ff0000"/>
<path d="M514.58,123.7L516.78,127.6L512.38,127.6Z" fill="#ff0000"/>
<path d="M517.97,123.47L520.17,127.37L515.77,127.37Z" fill="#ff0000"/>
<path d="M521.27,123.3L523.47,127.2L519.07,127.2Z" fill="#ff0000"/>
<path d="M524.48,123.18L526.68,127.08L522.28,127.08Z" fill="#ff0000"/>
<polyline points="529.5,125.4 530.75,126.06 532,126.75 533.25,127.47 534.5,128.21 535.75,128.98 537,129.78 538.25,130.59 539.5,131.43 540.75,132.29 542,133.17 543.25,134.07 544.5,134.98 545.75,135.91 547,136.88 548.25,137.94 549.5,139.07 550.75,140.26 552,141.47 553.25,142.69 554.5,143.88 555.75,145.04 557,146.14 558.25,147.15 559.5,148.06 560.75,148.86 562,149.59 563.25,150.28 564.5,150.94 565.75,151.6 567,152.28 568.25,152.97 569.5,153.66 570.75,154.34 572,155.04 573.25,155.76 574.5,156.51 575.75,157.26 577,158.04 578.25,158.83 579.5,159.66 580.75,160.52 582,161.45 583.25,162.45 584.5,163.51 585.75,164.61 587,165.71 588.25,166.78 589.5,167.79 590.75,168.77 592,169.72 593.25,170.65 594.5,171.57 595.75,172.48 597,173.38 598.25,174.27 599.5,175.17 600.75,176.06 602,176.95 603.25,177.86 604.5,178.77 605.75,179.69 607,180.61 608.25,181.54 609.5,182.46 610.75,183.38 612,184.31 613.25,185.23 614.5,186.16 615.75,187.08 617,188.01 618.25,188.93 619.5,189.85 620.75,190.77 622,191.68 623.25,192.6 624.5,193.52 625.75,194.43 627,195.35 628.25,196.26 629.5,197.17 630.75,198.09 632,199 633.25,199.91 634.5,200.83 635.75,201.74 637,202.65 638.25,203.56 639.5,204.48 640.75,205.39 642,206.3 643.25,207.22 644.5,208.13 645.75,209.05 647,209.96 648.25,210.88 649.5,211.8 650.75,212.72 652,213.64 653.25,214.56 654.5,215.48 655.75,216.4 657,217.32 658.25,218.24 659.5,219.16 660.75,220.08 662,221.01 663.25,221.93 664.5,222.85 665.75,223.78 667,224.7 668.25,225.62 669.5,226.55 670.75,227.47 672,228.4 673.25,229.32 674.5,230.25 675.75,231.17 677,232.1 678.25,233.03 679.5,233.95" fill="none" stroke="#2e961c" stroke-width="0.9"/>
<rect x="677.8" y="232.25" width="3.4" height="3.4" fill="#2e961c"/>
<rect x="669.8" y="226.33" width="3.4" height="3.4" fill="#2e961c"/>
<rect x="661.9" y="220.48" width="3.4" height="3.4" fill="#2e961c"/>
<rect x="654.09" y="214.73" width="3.4" height="3.4" fill="#2e961c"/>
<rect x="646.37" y="209.05" width="3.4" height="3.4" fill="#2e961c"/>
<rect x="638.75" y="203.47" width="3.4" height="3.4" fill="#2e961c"/>
<rect x="631.22" y="197.97" width="3.4" height="3.4" fill="#2e961c"/>
<rect x="623.78" y="192.53" width="3.4" height="3.4" fill="#2e961c"/>
<rect x="616.42" y="187.14" width="3.4" height="3.4" fill="#2e961c"/>
<rect x="609.16" y="181.77" width="3.4" height="3.4" fill="#2e961c"/>
<rect x="601.98" y="176.47" width="3.4" height="3.4" fill="#2e961c"/>
<rect x="594.89" y="171.39" width="3.4" height="3.4" fill="#2e961c"/>
<rect x="587.89" y="166.16" width="3.4" height="3.4" fill="#2e961c"/>
<rect x="580.97" y="160.27" width="3.4" height="3.4" fill="#2e961c"/>
<rect x="574.13" y="155.61" width="3.4" height="3.4" fill="#2e961c"/>
<rect x="567.37" y="151.72" width="3.4" height="3.4" fill="#2e961c"/>
<rect x="560.7" y="148.12" width="3.4" height="3.4" fill="#2e961c"/>
<rect x="554.1" y="143.39" width="3.4" height="3.4" fill="#2e961c"/>
<rect x="547.59" y="137.18" width="3.4" height="3.4" fill="#2e961c"/>
<rect x="541.15" y="132.08" width="3.4" height="3.4" fill="#2e961c"/>
<rect x="534.79" y="127.75" width="3.4" height="3.4" fill="#2e961c"/>
<polyline points="529.5,125.4 530.75,126.22 532,127.08 533.25,127.99 534.5,128.92 535.75,129.95 537,131.07 538.25,132.21 539.5,133.28 540.75,134.23 542,135.05 543.25,135.84 544.5,136.59 545.75,137.29 547,137.93 548.25,138.52 549.5,139.06 550.75,139.55 552,140.02 553.25,140.47 554.5,140.88 555.75,141.24 557,141.55 558.25,141.79 559.5,141.98 560.75,142.14 562,142.28 563.25,142.41 564.5,142.52 565.75,142.62 567,142.71 568.25,142.78 569.5,142.84 570.75,142.9 572,142.95 573.25,143 574.5,143.05 575.75,143.12 577,143.19 578.25,143.27 579.5,143.36 580.75,143.44 582,143.53 583.25,143.61 584.5,143.69 585.75,143.77 587,143.85 588.25,143.94 589.5,144.02 590.75,144.1 592,144.18 593.25,144.25 594.5,144.32 595.75,144.38 597,144.44 598.25,144.49 599.5,144.53 600.75,144.57 602,144.61 603.25,144.64 604.5,144.68 605.75,144.72 607,144.75 608.25,144.79 609.5,144.82 610.75,144.85 612,144.89 613.25,144.92 614.5,144.95 615.75,144.98 617,145.01 618.25,145.04 619.5,145.07 620.75,145.1 622,145.12 623.25,145.15 624.5,145.17 625.75,145.2 627,145.22 628.25,145.24 629.5,145.26 630.75,145.28 632,145.3 633.25,145.32 634.5,145.34 635.75,145.35 637,145.37 638.25,145.38 639.5,145.39 640.75,145.4 642,145.41 643.25,145.42 644.5,145.43 645.75,145.43 647,145.44 648.25,145.44 649.5,145.44 650.75,145.44 652,145.44 653.25,145.44 654.5,145.44 655.75,145.44 657,145.44 658.25,145.44 659.5,145.44 660.75,145.44 662,145.44 663.25,145.44 664.5,145.44 665.75,145.44 667,145.44 668.25,145.44 669.5,145.44 670.75,145.44 672,145.44 673.25,145.44 674.5,145.44 675.75,145.44 677,145.44 678.25,145.44 679.5,145.44" fill="none" stroke="#ff8000" stroke-width="0.9"/>
<circle cx="679.5" cy="145.44" r="1.95" fill="#ff8000"/>
<circle cx="671.5" cy="145.44" r="1.95" fill="#ff8000"/>
<circle cx="663.6" cy="145.44" r="1.95" fill="#ff8000"/>
<circle cx="655.79" cy="145.44" r="1.95" fill="#ff8000"/>
<circle cx="648.07" cy="145.44" r="1.95" fill="#ff8000"/>
<circle cx="640.45" cy="145.4" r="1.95" fill="#ff8000"/>
<circle cx="632.92" cy="145.32" r="1.95" fill="#ff8000"/>
<circle cx="625.48" cy="145.19" r="1.95" fill="#ff8000"/>
<circle cx="618.12" cy="145.04" r="1.95" fill="#ff8000"/>
<circle cx="610.86" cy="144.86" r="1.95" fill="#ff8000"/>
<circle cx="603.68" cy="144.66" r="1.95" fill="#ff8000"/>
<circle cx="596.59" cy="144.42" r="1.95" fill="#ff8000"/>
<circle cx="589.59" cy="144.03" r="1.95" fill="#ff8000"/>
<circle cx="582.67" cy="143.57" r="1.95" fill="#ff8000"/>
<circle cx="575.83" cy="143.12" r="1.95" fill="#ff8000"/>
<circle cx="531.5" cy="126.73" r="1.95" fill="#ff8000"/>
<circle cx="532.7" cy="127.58" r="1.95" fill="#ff8000"/>
<circle cx="533.9" cy="128.47" r="1.95" fill="#ff8000"/>
<circle cx="535.1" cy="129.4" r="1.95" fill="#ff8000"/>
<circle cx="536.3" cy="130.44" r="1.95" fill="#ff8000"/>
<circle cx="537.5" cy="131.53" r="1.95" fill="#ff8000"/>
<circle cx="538.7" cy="132.61" r="1.95" fill="#ff8000"/>
<circle cx="539.9" cy="133.6" r="1.95" fill="#ff8000"/>
<circle cx="541.1" cy="134.46" r="1.95" fill="#ff8000"/>
<circle cx="542.3" cy="135.25" r="1.95" fill="#ff8000"/>
<circle cx="543.5" cy="136" r="1.95" fill="#ff8000"/>
<circle cx="544.7" cy="136.7" r="1.95" fill="#ff8000"/>
<circle cx="545.9" cy="137.37" r="1.95" fill="#ff8000"/>
<circle cx="547.1" cy="137.98" r="1.95" fill="#ff8000"/>
<circle cx="548.3" cy="138.55" r="1.95" fill="#ff8000"/>
<circle cx="549.5" cy="139.06" r="1.95" fill="#ff8000"/>
<circle cx="550.7" cy="139.53" r="1.95" fill="#ff8000"/>
<circle cx="551.9" cy="139.98" r="1.95" fill="#ff8000"/>
<circle cx="553.1" cy="140.42" r="1.95" fill="#ff8000"/>
<circle cx="554.3" cy="140.82" r="1.95" fill="#ff8000"/>
<circle cx="555.5" cy="141.17" r="1.95" fill="#ff8000"/>
<circle cx="556.7" cy="141.48" r="1.95" fill="#ff8000"/>
<circle cx="557.9" cy="141.73" r="1.95" fill="#ff8000"/>
<circle cx="559.1" cy="141.92" r="1.95" fill="#ff8000"/>
<circle cx="560.3" cy="142.08" r="1.95" fill="#ff8000"/>
<circle cx="561.5" cy="142.23" r="1.95" fill="#ff8000"/>
<circle cx="562.7" cy="142.36" r="1.95" fill="#ff8000"/>
<circle cx="563.9" cy="142.47" r="1.95" fill="#ff8000"/>
<circle cx="565.1" cy="142.57" r="1.95" fill="#ff8000"/>
<circle cx="566.3" cy="142.66" r="1.95" fill="#ff8000"/>
<circle cx="567.5" cy="142.74" r="1.95" fill="#ff8000"/>
<circle cx="568.7" cy="142.81" r="1.95" fill="#ff8000"/>
<circle cx="569.9" cy="142.86" r="1.95" fill="#ff8000"/>
<circle cx="571.1" cy="142.91" r="1.95" fill="#ff8000"/>
<circle cx="572.3" cy="142.96" r="1.95" fill="#ff8000"/>
<circle cx="573.5" cy="143.01" r="1.95" fill="#ff8000"/>
<circle cx="574.7" cy="143.06" r="1.95" fill="#ff8000"/>
<polyline points="529.5,125.4 530.75,125.42 532,125.45 533.25,125.5 534.5,125.56 535.75,125.64 537,125.73 538.25,125.83 539.5,125.93 540.75,126.04 542,126.16 543.25,126.28 544.5,126.41 545.75,126.54 547,126.7 548.25,126.88 549.5,127.08 550.75,127.31 552,127.57 553.25,127.85 554.5,128.22 555.75,128.68 557,129.22 558.25,129.81 559.5,130.44 560.75,131.14 562,131.96 563.25,132.86 564.5,133.79 565.75,134.73 567,135.63 568.25,136.5 569.5,137.37 570.75,138.24 572,139.11 573.25,139.97 574.5,140.83 575.75,141.68 577,142.52 578.25,143.35 579.5,144.16 580.75,144.97 582,145.77 583.25,146.56 584.5,147.36 585.75,148.15 587,148.95 588.25,149.76 589.5,150.58 590.75,151.4 592,152.22 593.25,153.04 594.5,153.86 595.75,154.69 597,155.52 598.25,156.35 599.5,157.19 600.75,158.04 602,158.9 603.25,159.77 604.5,160.65 605.75,161.54 607,162.44 608.25,163.36 609.5,164.29 610.75,165.23 612,166.17 613.25,167.12 614.5,168.06 615.75,169.01 617,169.95 618.25,170.89 619.5,171.82 620.75,172.75 622,173.67 623.25,174.59 624.5,175.52 625.75,176.44 627,177.36 628.25,178.28 629.5,179.19 630.75,180.11 632,181.03 633.25,181.95 634.5,182.86 635.75,183.78 637,184.7 638.25,185.61 639.5,186.53 640.75,187.45 642,188.36 643.25,189.28 644.5,190.2 645.75,191.12 647,192.04 648.25,192.96 649.5,193.88 650.75,194.8 652,195.72 653.25,196.64 654.5,197.56 655.75,198.48 657,199.41 658.25,200.33 659.5,201.25 660.75,202.17 662,203.09 663.25,204.02 664.5,204.94 665.75,205.86 667,206.79 668.25,207.71 669.5,208.63 670.75,209.56 672,210.48 673.25,211.41 674.5,212.33 675.75,213.26 677,214.18 678.25,215.1 679.5,216.03" fill="none" stroke="#ff0000" stroke-width="0.9"/>
<path d="M679.5,213.73L681.7,217.63L677.3,217.63Z" fill="#ff0000"/>
<path d="M671.5,207.81L673.7,211.71L669.3,211.71Z" fill="#ff0000"/>
<path d="M663.6,201.97L665.8,205.87L661.4,205.87Z" fill="#ff0000"/>
<path d="M655.79,196.21L657.99,200.11L653.59,200.11Z" fill="#ff0000"/>
<path d="M648.07,190.52L650.27,194.42L645.87,194.42Z" fill="#ff0000"/>
<path d="M640.45,184.93L642.65,188.83L638.25,188.83Z" fill="#ff0000"/>
<path d="M632.92,179.4L635.12,183.3L630.72,183.3Z" fill="#ff0000"/>
<path d="M625.48,173.94L627.68,177.84L623.28,177.84Z" fill="#ff0000"/>
<path d="M618.12,168.5L620.32,172.4L615.92,172.4Z" fill="#ff0000"/>
<path d="M610.86,163.01L613.06,166.91L608.66,166.91Z" fill="#ff0000"/>
<path d="M603.68,157.77L605.88,161.67L601.48,161.67Z" fill="#ff0000"/>
<path d="M596.59,152.95L598.79,156.85L594.39,156.85Z" fill="#ff0000"/>
<path d="M589.59,148.33L591.79,152.23L587.39,152.23Z" fill="#ff0000"/>
<path d="M582.67,143.89L584.87,147.79L580.47,147.79Z" fill="#ff0000"/>
<path d="M575.83,139.43L578.03,143.33L573.63,143.33Z" fill="#ff0000"/>
<path d="M569.07,134.77L571.27,138.67L566.87,138.67Z" fill="#ff0000"/>
<path d="M562.4,129.94L564.6,133.84L560.2,133.84Z" fill="#ff0000"/>
<path d="M555.8,126.4L558,130.3L553.6,130.3Z" fill="#ff0000"/>
<path d="M549.29,124.74L551.49,128.64L547.09,128.64Z" fill="#ff0000"/>
<path d="M542.85,123.94L545.05,127.84L540.65,127.84Z" fill="#ff0000"/>
<path d="M536.49,123.39L538.69,127.29L534.29,127.29Z" fill="#ff0000"/>
<g stroke="#1a1a1a" stroke-width="1.2" fill="none">
<line x1="529.5" y1="4.56" x2="529.5" y2="246.24"/>
<line x1="379.5" y1="125.4" x2="679.5" y2="125.4"/>
<line x1="529.5" y1="246.24" x2="535" y2="246.24"/>
<line x1="529.5" y1="236.17" x2="532.5" y2="236.17"/>
<line x1="529.5" y1="226.1" x2="535" y2="226.1"/>
<line x1="529.5" y1="216.03" x2="532.5" y2="216.03"/>
<line x1="529.5" y1="205.96" x2="535" y2="205.96"/>
<line x1="529.5" y1="195.89" x2="532.5" y2="195.89"/>
<line x1="529.5" y1="185.82" x2="535" y2="185.82"/>
<line x1="529.5" y1="175.75" x2="532.5" y2="175.75"/>
<line x1="529.5" y1="165.68" x2="535" y2="165.68"/>
<line x1="529.5" y1="155.61" x2="532.5" y2="155.61"/>
<line x1="529.5" y1="145.54" x2="535" y2="145.54"/>
<line x1="529.5" y1="135.47" x2="532.5" y2="135.47"/>
<line x1="529.5" y1="125.4" x2="535" y2="125.4"/>
<line x1="529.5" y1="115.33" x2="532.5" y2="115.33"/>
<line x1="529.5" y1="105.26" x2="535" y2="105.26"/>
<line x1="529.5" y1="95.19" x2="532.5" y2="95.19"/>
<line x1="529.5" y1="85.12" x2="535" y2="85.12"/>
<line x1="529.5" y1="75.05" x2="532.5" y2="75.05"/>
<line x1="529.5" y1="64.98" x2="535" y2="64.98"/>
<line x1="529.5" y1="54.91" x2="532.5" y2="54.91"/>
<line x1="529.5" y1="44.84" x2="535" y2="44.84"/>
<line x1="529.5" y1="34.77" x2="532.5" y2="34.77"/>
<line x1="529.5" y1="24.7" x2="535" y2="24.7"/>
<line x1="529.5" y1="14.63" x2="532.5" y2="14.63"/>
<line x1="529.5" y1="4.56" x2="535" y2="4.56"/>
<line x1="379.5" y1="125.4" x2="379.5" y2="121.4"/>
<line x1="394.5" y1="125.4" x2="394.5" y2="123.4"/>
<line x1="409.5" y1="125.4" x2="409.5" y2="121.4"/>
<line x1="424.5" y1="125.4" x2="424.5" y2="123.4"/>
<line x1="439.5" y1="125.4" x2="439.5" y2="121.4"/>
<line x1="454.5" y1="125.4" x2="454.5" y2="123.4"/>
<line x1="469.5" y1="125.4" x2="469.5" y2="121.4"/>
<line x1="484.5" y1="125.4" x2="484.5" y2="123.4"/>
<line x1="499.5" y1="125.4" x2="499.5" y2="121.4"/>
<line x1="514.5" y1="125.4" x2="514.5" y2="123.4"/>
<line x1="544.5" y1="125.4" x2="544.5" y2="123.4"/>
<line x1="559.5" y1="125.4" x2="559.5" y2="121.4"/>
<line x1="574.5" y1="125.4" x2="574.5" y2="123.4"/>
<line x1="589.5" y1="125.4" x2="589.5" y2="121.4"/>
<line x1="604.5" y1="125.4" x2="604.5" y2="123.4"/>
<line x1="619.5" y1="125.4" x2="619.5" y2="121.4"/>
<line x1="634.5" y1="125.4" x2="634.5" y2="123.4"/>
<line x1="649.5" y1="125.4" x2="649.5" y2="121.4"/>
<line x1="664.5" y1="125.4" x2="664.5" y2="123.4"/>
<line x1="679.5" y1="125.4" x2="679.5" y2="121.4"/>
</g>
<g font-size="13.3" fill="#1a1a1a">
<text transform="translate(525.9,250.34) scale(0.8,1)" text-anchor="end">-1.2</text>
<text transform="translate(525.9,230.2) scale(0.8,1)" text-anchor="end">-1.0</text>
<text transform="translate(525.9,210.06) scale(0.8,1)" text-anchor="end">-0.8</text>
<text transform="translate(525.9,189.92) scale(0.8,1)" text-anchor="end">-0.6</text>
<text transform="translate(525.9,169.78) scale(0.8,1)" text-anchor="end">-0.4</text>
<text transform="translate(525.9,149.64) scale(0.8,1)" text-anchor="end">-0.2</text>
<text transform="translate(525.9,129.5) scale(0.8,1)" text-anchor="end">0.0</text>
<text transform="translate(525.9,109.36) scale(0.8,1)" text-anchor="end">0.2</text>
<text transform="translate(525.9,89.22) scale(0.8,1)" text-anchor="end">0.4</text>
<text transform="translate(525.9,69.08) scale(0.8,1)" text-anchor="end">0.6</text>
<text transform="translate(525.9,48.94) scale(0.8,1)" text-anchor="end">0.8</text>
<text transform="translate(525.9,28.8) scale(0.8,1)" text-anchor="end">1.0</text>
<text transform="translate(525.9,8.66) scale(0.8,1)" text-anchor="end">1.2</text>
<text transform="translate(379.5,137.5) scale(0.8,1)" text-anchor="middle">-15</text>
<text transform="translate(409.5,137.5) scale(0.8,1)" text-anchor="middle">-12</text>
<text transform="translate(439.5,137.5) scale(0.8,1)" text-anchor="middle">-9</text>
<text transform="translate(469.5,137.5) scale(0.8,1)" text-anchor="middle">-6</text>
<text transform="translate(499.5,137.5) scale(0.8,1)" text-anchor="middle">-3</text>
<text transform="translate(529.5,137.5) scale(0.8,1)" text-anchor="middle">0</text>
<text transform="translate(559.5,137.5) scale(0.8,1)" text-anchor="middle">3</text>
<text transform="translate(589.5,137.5) scale(0.8,1)" text-anchor="middle">6</text>
<text transform="translate(619.5,137.5) scale(0.8,1)" text-anchor="middle">9</text>
<text transform="translate(649.5,137.5) scale(0.8,1)" text-anchor="middle">12</text>
<text transform="translate(679.5,137.5) scale(0.8,1)" text-anchor="middle">15</text>
</g>
<text transform="translate(546.3,126.6) rotate(-90) scale(1.08,1)" text-anchor="middle" font-size="12.7" fill="#1a1a1a">Energy density/(+/−10<tspan font-size="8.2" dy="-6.8">6</tspan><tspan dy="6.8">J/m</tspan><tspan font-size="8.2" dy="-6.8">3</tspan><tspan dy="6.8">)</tspan></text>
<text x="546.5" y="150" font-size="13.7" fill="#1a1a1a">Axial strain/(+/−10<tspan font-size="9.5" dy="-6">-2</tspan><tspan dy="6">)</tspan></text>
<line x1="554.1" y1="40.2" x2="578.8" y2="40.2" stroke="#2e961c" stroke-width="1.1"/>
<rect x="565.25" y="39" width="2.4" height="2.4" fill="#2e961c"/>
<text x="580.7" y="43.7" font-size="11.5" fill="#1a1a1a">U<tspan font-size="7" dy="2.5">F</tspan></text>
<line x1="596.1" y1="40.2" x2="619.5" y2="40.2" stroke="#ff8000" stroke-width="1.1"/>
<circle cx="607.8" cy="40.2" r="1.3" fill="#ff8000"/>
<text x="623.6" y="43.7" font-size="11.5" fill="#1a1a1a">U<tspan font-size="7" dy="2.5">E</tspan></text>
<line x1="639" y1="40.2" x2="662.5" y2="40.2" stroke="#ff0000" stroke-width="1.1"/>
<path d="M650.75,38.5L652.35,41.3L649.15,41.3Z" fill="#ff0000"/>
<text x="665.5" y="43.7" font-size="11.5" fill="#1a1a1a">U<tspan font-size="7" dy="2.5">D</tspan></text>
<rect x="411.7" y="8.86" width="60.3" height="21.2" fill="#00ff00"/>
<rect x="407.5" y="4.86" width="60.3" height="21.2" fill="#fff" stroke="#1a1a1a" stroke-width="1.2"/>
<text x="408.7" y="19.06" font-size="12.3" fill="#1a1a1a">σ<tspan font-size="7" dy="2.5" dx="1">3</tspan><tspan dy="-2.5">=1.0MPa</tspan></text>
<rect x="591.5" y="8.86" width="60.4" height="21.2" fill="#ff0000"/>
<rect x="587.3" y="4.86" width="60.4" height="21.2" fill="#fff" stroke="#1a1a1a" stroke-width="1.2"/>
<text x="588.5" y="19.06" font-size="12.3" fill="#1a1a1a">σ<tspan font-size="7" dy="2.5" dx="1">3</tspan><tspan dy="-2.5">=0.5MPa</tspan></text>
<rect x="411.7" y="225.74" width="60.3" height="20.7" fill="#0000ff"/>
<rect x="407.5" y="221.74" width="60.3" height="20.7" fill="#fff" stroke="#1a1a1a" stroke-width="1.2"/>
<text x="408.7" y="235.94" font-size="12.3" fill="#1a1a1a">σ<tspan font-size="7" dy="2.5" dx="1">3</tspan><tspan dy="-2.5">=1.5MPa</tspan></text>
<rect x="595.5" y="225.74" width="52.2" height="20.7" fill="#ff8000"/>
<rect x="591.3" y="221.74" width="52.2" height="20.7" fill="#fff" stroke="#1a1a1a" stroke-width="1.2"/>
<text x="592.5" y="235.94" font-size="12.3" fill="#1a1a1a">σ<tspan font-size="7" dy="2.5" dx="1">3</tspan><tspan dy="-2.5">=2MPa</tspan></text>
<text x="367.9" y="276.8" font-size="19" letter-spacing="0.2" fill="#222" stroke="#222" stroke-width="0.3">(b) T=-10°C</text>
<polyline points="161.5,412.4 162.75,412.26 164,412.09 165.25,411.87 166.5,411.62 167.75,411.34 169,411.04 170.25,410.72 171.5,410.39 172.75,410.01 174,409.57 175.25,409.07 176.5,408.53 177.75,407.96 179,407.36 180.25,406.76 181.5,406.16 182.75,405.53 184,404.86 185.25,404.16 186.5,403.44 187.75,402.71 189,401.99 190.25,401.29 191.5,400.62 192.75,399.98 194,399.36 195.25,398.76 196.5,398.17 197.75,397.58 199,397 200.25,396.42 201.5,395.82 202.75,395.22 204,394.59 205.25,393.94 206.5,393.27 207.75,392.56 209,391.81 210.25,391.04 211.5,390.24 212.75,389.43 214,388.61 215.25,387.78 216.5,386.94 217.75,386.11 219,385.29 220.25,384.49 221.5,383.7 222.75,382.93 224,382.16 225.25,381.39 226.5,380.62 227.75,379.86 229,379.11 230.25,378.35 231.5,377.6 232.75,376.86 234,376.11 235.25,375.37 236.5,374.64 237.75,373.91 239,373.19 240.25,372.49 241.5,371.78 242.75,371.09 244,370.39 245.25,369.69 246.5,368.99 247.75,368.28 249,367.56 250.25,366.82 251.5,366.08 252.75,365.32 254,364.55 255.25,363.77 256.5,362.98 257.75,362.18 259,361.38 260.25,360.57 261.5,359.76 262.75,358.94 264,358.11 265.25,357.29 266.5,356.46 267.75,355.62 269,354.79 270.25,353.96 271.5,353.12 272.75,352.29 274,351.46 275.25,350.63 276.5,349.8 277.75,348.98 279,348.16 280.25,347.35 281.5,346.54 282.75,345.74 284,344.94 285.25,344.14 286.5,343.34 287.75,342.54 289,341.74 290.25,340.94 291.5,340.14 292.75,339.35 294,338.55 295.25,337.76 296.5,336.96 297.75,336.17 299,335.38 300.25,334.59 301.5,333.8 302.75,333.01 304,332.22 305.25,331.43 306.5,330.65 307.75,329.86 309,329.08 310.25,328.29 311.5,327.51" fill="none" stroke="#2e961c" stroke-width="0.9"/>
<rect x="309.8" y="325.81" width="3.4" height="3.4" fill="#2e961c"/>
<rect x="302.3" y="330.52" width="3.4" height="3.4" fill="#2e961c"/>
<rect x="294.88" y="335.22" width="3.4" height="3.4" fill="#2e961c"/>
<rect x="287.52" y="339.89" width="3.4" height="3.4" fill="#2e961c"/>
<rect x="280.25" y="344.55" width="3.4" height="3.4" fill="#2e961c"/>
<rect x="273.04" y="349.26" width="3.4" height="3.4" fill="#2e961c"/>
<rect x="265.91" y="354.02" width="3.4" height="3.4" fill="#2e961c"/>
<rect x="258.85" y="358.68" width="3.4" height="3.4" fill="#2e961c"/>
<rect x="251.86" y="363.12" width="3.4" height="3.4" fill="#2e961c"/>
<rect x="244.94" y="367.21" width="3.4" height="3.4" fill="#2e961c"/>
<rect x="238.09" y="371.05" width="3.4" height="3.4" fill="#2e961c"/>
<rect x="231.3" y="375" width="3.4" height="3.4" fill="#2e961c"/>
<rect x="224.59" y="379.05" width="3.4" height="3.4" fill="#2e961c"/>
<rect x="217.94" y="383.18" width="3.4" height="3.4" fill="#2e961c"/>
<rect x="211.36" y="387.53" width="3.4" height="3.4" fill="#2e961c"/>
<rect x="204.84" y="391.54" width="3.4" height="3.4" fill="#2e961c"/>
<rect x="198.39" y="394.79" width="3.4" height="3.4" fill="#2e961c"/>
<rect x="192.01" y="397.8" width="3.4" height="3.4" fill="#2e961c"/>
<rect x="185.69" y="401.23" width="3.4" height="3.4" fill="#2e961c"/>
<rect x="179.43" y="404.64" width="3.4" height="3.4" fill="#2e961c"/>
<rect x="173.23" y="407.5" width="3.4" height="3.4" fill="#2e961c"/>
<rect x="167.1" y="409.39" width="3.4" height="3.4" fill="#2e961c"/>
<polyline points="161.5,412.4 162.75,412.12 164,411.85 165.25,411.58 166.5,411.33 167.75,411.08 169,410.84 170.25,410.61 171.5,410.39 172.75,410.18 174,409.98 175.25,409.8 176.5,409.62 177.75,409.44 179,409.26 180.25,409.07 181.5,408.88 182.75,408.66 184,408.43 185.25,408.19 186.5,407.95 187.75,407.71 189,407.48 190.25,407.26 191.5,407.06 192.75,406.88 194,406.7 195.25,406.52 196.5,406.36 197.75,406.19 199,406.03 200.25,405.88 201.5,405.73 202.75,405.58 204,405.43 205.25,405.29 206.5,405.15 207.75,405.01 209,404.87 210.25,404.74 211.5,404.61 212.75,404.48 214,404.36 215.25,404.24 216.5,404.11 217.75,403.99 219,403.87 220.25,403.76 221.5,403.64 222.75,403.52 224,403.4 225.25,403.28 226.5,403.17 227.75,403.05 229,402.93 230.25,402.82 231.5,402.71 232.75,402.61 234,402.51 235.25,402.42 236.5,402.33 237.75,402.25 239,402.17 240.25,402.09 241.5,402.02 242.75,401.95 244,401.88 245.25,401.81 246.5,401.75 247.75,401.69 249,401.63 250.25,401.58 251.5,401.52 252.75,401.48 254,401.43 255.25,401.38 256.5,401.34 257.75,401.3 259,401.26 260.25,401.22 261.5,401.18 262.75,401.14 264,401.11 265.25,401.07 266.5,401.03 267.75,401 269,400.97 270.25,400.93 271.5,400.9 272.75,400.86 274,400.83 275.25,400.8 276.5,400.76 277.75,400.73 279,400.69 280.25,400.66 281.5,400.62 282.75,400.58 284,400.54 285.25,400.5 286.5,400.47 287.75,400.43 289,400.39 290.25,400.35 291.5,400.32 292.75,400.28 294,400.24 295.25,400.2 296.5,400.16 297.75,400.13 299,400.09 300.25,400.05 301.5,400.01 302.75,399.98 304,399.94 305.25,399.9 306.5,399.86 307.75,399.83 309,399.79 310.25,399.75 311.5,399.71" fill="none" stroke="#ff8000" stroke-width="0.9"/>
<circle cx="311.5" cy="399.71" r="1.95" fill="#ff8000"/>
<circle cx="304" cy="399.94" r="1.95" fill="#ff8000"/>
<circle cx="296.57" cy="400.16" r="1.95" fill="#ff8000"/>
<circle cx="289.22" cy="400.38" r="1.95" fill="#ff8000"/>
<circle cx="281.95" cy="400.6" r="1.95" fill="#ff8000"/>
<circle cx="274.74" cy="400.81" r="1.95" fill="#ff8000"/>
<circle cx="267.61" cy="401" r="1.95" fill="#ff8000"/>
<circle cx="260.55" cy="401.21" r="1.95" fill="#ff8000"/>
<circle cx="253.56" cy="401.44" r="1.95" fill="#ff8000"/>
<circle cx="246.64" cy="401.74" r="1.95" fill="#ff8000"/>
<circle cx="239.79" cy="402.12" r="1.95" fill="#ff8000"/>
<circle cx="233" cy="402.59" r="1.95" fill="#ff8000"/>
<circle cx="226.29" cy="403.19" r="1.95" fill="#ff8000"/>
<circle cx="219.64" cy="403.81" r="1.95" fill="#ff8000"/>
<circle cx="213.06" cy="404.45" r="1.95" fill="#ff8000"/>
<circle cx="206.54" cy="405.14" r="1.95" fill="#ff8000"/>
<circle cx="200.09" cy="405.9" r="1.95" fill="#ff8000"/>
<circle cx="193.71" cy="406.74" r="1.95" fill="#ff8000"/>
<circle cx="187.39" cy="407.78" r="1.95" fill="#ff8000"/>
<circle cx="181.13" cy="408.94" r="1.95" fill="#ff8000"/>
<circle cx="174.93" cy="409.85" r="1.95" fill="#ff8000"/>
<circle cx="168.8" cy="410.88" r="1.95" fill="#ff8000"/>
<polyline points="161.5,412.4 162.75,412.38 164,412.34 165.25,412.29 166.5,412.23 167.75,412.15 169,412.07 170.25,411.99 171.5,411.9 172.75,411.8 174,411.68 175.25,411.54 176.5,411.39 177.75,411.22 179,411.03 180.25,410.82 181.5,410.59 182.75,410.31 184,409.96 185.25,409.55 186.5,409.1 187.75,408.61 189,408.1 190.25,407.58 191.5,407.06 192.75,406.53 194,405.97 195.25,405.38 196.5,404.76 197.75,404.13 199,403.47 200.25,402.81 201.5,402.15 202.75,401.48 204,400.81 205.25,400.16 206.5,399.51 207.75,398.87 209,398.21 210.25,397.56 211.5,396.89 212.75,396.23 214,395.56 215.25,394.9 216.5,394.25 217.75,393.61 219,392.98 220.25,392.36 221.5,391.76 222.75,391.18 224,390.62 225.25,390.07 226.5,389.54 227.75,389.02 229,388.5 230.25,387.98 231.5,387.45 232.75,386.92 234,386.37 235.25,385.8 236.5,385.21 237.75,384.6 239,383.97 240.25,383.33 241.5,382.67 242.75,382 244,381.32 245.25,380.64 246.5,379.95 247.75,379.25 249,378.55 250.25,377.85 251.5,377.15 252.75,376.46 254,375.75 255.25,375.05 256.5,374.34 257.75,373.63 259,372.91 260.25,372.19 261.5,371.47 262.75,370.74 264,370.01 265.25,369.28 266.5,368.55 267.75,367.82 269,367.08 270.25,366.34 271.5,365.6 272.75,364.86 274,364.11 275.25,363.37 276.5,362.62 277.75,361.88 279,361.13 280.25,360.38 281.5,359.63 282.75,358.88 284,358.13 285.25,357.38 286.5,356.63 287.75,355.87 289,355.11 290.25,354.35 291.5,353.59 292.75,352.83 294,352.07 295.25,351.3 296.5,350.53 297.75,349.77 299,348.99 300.25,348.22 301.5,347.45 302.75,346.67 304,345.9 305.25,345.12 306.5,344.34 307.75,343.56 309,342.78 310.25,341.99 311.5,341.21" fill="none" stroke="#ff0000" stroke-width="0.9"/>
<path d="M311.5,338.91L313.7,342.81L309.3,342.81Z" fill="#ff0000"/>
<path d="M304,343.6L306.2,347.5L301.8,347.5Z" fill="#ff0000"/>
<path d="M296.57,348.19L298.77,352.09L294.38,352.09Z" fill="#ff0000"/>
<path d="M289.22,352.68L291.42,356.58L287.02,356.58Z" fill="#ff0000"/>
<path d="M281.95,357.07L284.15,360.97L279.75,360.97Z" fill="#ff0000"/>
<path d="M274.74,361.37L276.94,365.27L272.54,365.27Z" fill="#ff0000"/>
<path d="M267.61,365.6L269.81,369.5L265.41,369.5Z" fill="#ff0000"/>
<path d="M260.55,369.72L262.75,373.62L258.35,373.62Z" fill="#ff0000"/>
<path d="M253.56,373.7L255.76,377.6L251.36,377.6Z" fill="#ff0000"/>
<path d="M246.64,377.57L248.84,381.47L244.44,381.47Z" fill="#ff0000"/>
<path d="M239.79,381.27L241.99,385.17L237.59,385.17Z" fill="#ff0000"/>
<path d="M233,384.51L235.2,388.41L230.8,388.41Z" fill="#ff0000"/>
<path d="M226.29,387.33L228.49,391.23L224.09,391.23Z" fill="#ff0000"/>
<path d="M219.64,390.36L221.84,394.26L217.44,394.26Z" fill="#ff0000"/>
<path d="M213.06,393.76L215.26,397.66L210.86,397.66Z" fill="#ff0000"/>
<path d="M206.54,397.19L208.74,401.09L204.34,401.09Z" fill="#ff0000"/>
<path d="M200.09,400.6L202.29,404.5L197.89,404.5Z" fill="#ff0000"/>
<path d="M193.71,403.8L195.91,407.7L191.51,407.7Z" fill="#ff0000"/>
<path d="M187.39,406.46L189.59,410.36L185.19,410.36Z" fill="#ff0000"/>
<path d="M181.13,408.36L183.33,412.26L178.93,412.26Z" fill="#ff0000"/>
<path d="M174.93,409.28L177.13,413.18L172.73,413.18Z" fill="#ff0000"/>
<path d="M168.8,409.79L171,413.69L166.6,413.69Z" fill="#ff0000"/>
<polyline points="161.5,412.4 160.25,412.21 159,411.97 157.75,411.7 156.5,411.39 155.25,411.03 154,410.61 152.75,410.13 151.5,409.61 150.25,409.06 149,408.5 147.75,407.93 146.5,407.36 145.25,406.8 144,406.23 142.75,405.64 141.5,405.04 140.25,404.42 139,403.8 137.75,403.16 136.5,402.51 135.25,401.85 134,401.18 132.75,400.5 131.5,399.81 130.25,399.11 129,398.39 127.75,397.65 126.5,396.89 125.25,396.13 124,395.35 122.75,394.56 121.5,393.76 120.25,392.96 119,392.16 117.75,391.35 116.5,390.55 115.25,389.73 114,388.9 112.75,388.06 111.5,387.21 110.25,386.35 109,385.49 107.75,384.63 106.5,383.77 105.25,382.92 104,382.09 102.75,381.27 101.5,380.48 100.25,379.7 99,378.95 97.75,378.21 96.5,377.49 95.25,376.77 94,376.06 92.75,375.34 91.5,374.63 90.25,373.9 89,373.16 87.75,372.4 86.5,371.62 85.25,370.82 84,370 82.75,369.17 81.5,368.33 80.25,367.48 79,366.62 77.75,365.75 76.5,364.88 75.25,364 74,363.12 72.75,362.23 71.5,361.35 70.25,360.45 69,359.56 67.75,358.65 66.5,357.74 65.25,356.82 64,355.9 62.75,354.97 61.5,354.04 60.25,353.11 59,352.17 57.75,351.23 56.5,350.29 55.25,349.35 54,348.4 52.75,347.46 51.5,346.52 50.25,345.58 49,344.64 47.75,343.71 46.5,342.77 45.25,341.85 44,340.92 42.75,340 41.5,339.09 40.25,338.18 39,337.27 37.75,336.37 36.5,335.46 35.25,334.56 34,333.65 32.75,332.75 31.5,331.85 30.25,330.95 29,330.06 27.75,329.16 26.5,328.27 25.25,327.37 24,326.48 22.75,325.59 21.5,324.7 20.25,323.81 19,322.93 17.75,322.04 16.5,321.16 15.25,320.28 14,319.4 12.75,318.52 11.5,317.64" fill="none" stroke="#2e961c" stroke-width="0.9"/>
<rect x="9.8" y="315.94" width="3.4" height="3.4" fill="#2e961c"/>
<rect x="16.7" y="320.8" width="3.4" height="3.4" fill="#2e961c"/>
<rect x="23.42" y="325.58" width="3.4" height="3.4" fill="#2e961c"/>
<rect x="29.97" y="330.27" width="3.4" height="3.4" fill="#2e961c"/>
<rect x="36.34" y="334.88" width="3.4" height="3.4" fill="#2e961c"/>
<rect x="42.55" y="339.41" width="3.4" height="3.4" fill="#2e961c"/>
<rect x="48.6" y="343.92" width="3.4" height="3.4" fill="#2e961c"/>
<rect x="54.49" y="348.36" width="3.4" height="3.4" fill="#2e961c"/>
<rect x="60.23" y="352.66" width="3.4" height="3.4" fill="#2e961c"/>
<rect x="65.82" y="356.78" width="3.4" height="3.4" fill="#2e961c"/>
<rect x="71.26" y="360.68" width="3.4" height="3.4" fill="#2e961c"/>
<rect x="76.56" y="364.41" width="3.4" height="3.4" fill="#2e961c"/>
<rect x="81.73" y="367.92" width="3.4" height="3.4" fill="#2e961c"/>
<rect x="86.76" y="371.13" width="3.4" height="3.4" fill="#2e961c"/>
<rect x="91.66" y="373.99" width="3.4" height="3.4" fill="#2e961c"/>
<rect x="96.43" y="376.74" width="3.4" height="3.4" fill="#2e961c"/>
<rect x="101.08" y="379.59" width="3.4" height="3.4" fill="#2e961c"/>
<rect x="105.6" y="382.62" width="3.4" height="3.4" fill="#2e961c"/>
<rect x="110.01" y="385.65" width="3.4" height="3.4" fill="#2e961c"/>
<rect x="114.31" y="388.53" width="3.4" height="3.4" fill="#2e961c"/>
<rect x="118.49" y="391.22" width="3.4" height="3.4" fill="#2e961c"/>
<rect x="122.56" y="393.81" width="3.4" height="3.4" fill="#2e961c"/>
<rect x="126.53" y="396.23" width="3.4" height="3.4" fill="#2e961c"/>
<rect x="130.4" y="398.44" width="3.4" height="3.4" fill="#2e961c"/>
<rect x="134.16" y="400.47" width="3.4" height="3.4" fill="#2e961c"/>
<rect x="137.83" y="402.36" width="3.4" height="3.4" fill="#2e961c"/>
<rect x="141.4" y="404.1" width="3.4" height="3.4" fill="#2e961c"/>
<rect x="144.88" y="405.7" width="3.4" height="3.4" fill="#2e961c"/>
<rect x="148.27" y="407.24" width="3.4" height="3.4" fill="#2e961c"/>
<rect x="151.57" y="408.63" width="3.4" height="3.4" fill="#2e961c"/>
<rect x="154.78" y="409.69" width="3.4" height="3.4" fill="#2e961c"/>
<polyline points="161.5,412.4 160.25,412.14 159,411.88 157.75,411.63 156.5,411.39 155.25,411.17 154,410.95 152.75,410.73 151.5,410.53 150.25,410.32 149,410.11 147.75,409.9 146.5,409.68 145.25,409.45 144,409.21 142.75,408.97 141.5,408.72 140.25,408.46 139,408.21 137.75,407.96 136.5,407.72 135.25,407.49 134,407.26 132.75,407.05 131.5,406.86 130.25,406.68 129,406.51 127.75,406.35 126.5,406.19 125.25,406.03 124,405.89 122.75,405.74 121.5,405.6 120.25,405.46 119,405.32 117.75,405.19 116.5,405.05 115.25,404.91 114,404.78 112.75,404.65 111.5,404.53 110.25,404.4 109,404.28 107.75,404.16 106.5,404.04 105.25,403.92 104,403.79 102.75,403.67 101.5,403.54 100.25,403.41 99,403.27 97.75,403.14 96.5,403 95.25,402.86 94,402.73 92.75,402.59 91.5,402.45 90.25,402.32 89,402.18 87.75,402.05 86.5,401.93 85.25,401.8 84,401.67 82.75,401.54 81.5,401.41 80.25,401.28 79,401.16 77.75,401.03 76.5,400.92 75.25,400.8 74,400.7 72.75,400.6 71.5,400.52 70.25,400.44 69,400.36 67.75,400.29 66.5,400.22 65.25,400.15 64,400.09 62.75,400.03 61.5,399.97 60.25,399.91 59,399.85 57.75,399.8 56.5,399.74 55.25,399.69 54,399.64 52.75,399.59 51.5,399.54 50.25,399.49 49,399.43 47.75,399.38 46.5,399.33 45.25,399.28 44,399.22 42.75,399.17 41.5,399.11 40.25,399.05 39,398.99 37.75,398.93 36.5,398.87 35.25,398.81 34,398.76 32.75,398.7 31.5,398.64 30.25,398.58 29,398.52 27.75,398.46 26.5,398.4 25.25,398.34 24,398.29 22.75,398.23 21.5,398.17 20.25,398.11 19,398.05 17.75,397.99 16.5,397.93 15.25,397.87 14,397.82 12.75,397.76 11.5,397.7" fill="none" stroke="#ff8000" stroke-width="0.9"/>
<circle cx="11.5" cy="397.7" r="1.95" fill="#ff8000"/>
<circle cx="18.4" cy="398.02" r="1.95" fill="#ff8000"/>
<circle cx="25.12" cy="398.34" r="1.95" fill="#ff8000"/>
<circle cx="31.67" cy="398.65" r="1.95" fill="#ff8000"/>
<circle cx="38.04" cy="398.95" r="1.95" fill="#ff8000"/>
<circle cx="44.25" cy="399.23" r="1.95" fill="#ff8000"/>
<circle cx="50.3" cy="399.49" r="1.95" fill="#ff8000"/>
<circle cx="56.19" cy="399.73" r="1.95" fill="#ff8000"/>
<circle cx="61.93" cy="399.99" r="1.95" fill="#ff8000"/>
<circle cx="67.52" cy="400.28" r="1.95" fill="#ff8000"/>
<circle cx="72.96" cy="400.62" r="1.95" fill="#ff8000"/>
<circle cx="78.26" cy="401.08" r="1.95" fill="#ff8000"/>
<circle cx="83.43" cy="401.61" r="1.95" fill="#ff8000"/>
<circle cx="88.46" cy="402.13" r="1.95" fill="#ff8000"/>
<circle cx="93.36" cy="402.66" r="1.95" fill="#ff8000"/>
<circle cx="98.13" cy="403.18" r="1.95" fill="#ff8000"/>
<circle cx="102.78" cy="403.67" r="1.95" fill="#ff8000"/>
<circle cx="107.3" cy="404.12" r="1.95" fill="#ff8000"/>
<circle cx="111.71" cy="404.55" r="1.95" fill="#ff8000"/>
<circle cx="116.01" cy="405" r="1.95" fill="#ff8000"/>
<circle cx="120.19" cy="405.45" r="1.95" fill="#ff8000"/>
<circle cx="124.26" cy="405.92" r="1.95" fill="#ff8000"/>
<circle cx="128.23" cy="406.41" r="1.95" fill="#ff8000"/>
<circle cx="132.1" cy="406.95" r="1.95" fill="#ff8000"/>
<circle cx="135.86" cy="407.6" r="1.95" fill="#ff8000"/>
<circle cx="139.53" cy="408.32" r="1.95" fill="#ff8000"/>
<circle cx="143.1" cy="409.04" r="1.95" fill="#ff8000"/>
<circle cx="146.58" cy="409.69" r="1.95" fill="#ff8000"/>
<circle cx="149.97" cy="410.27" r="1.95" fill="#ff8000"/>
<circle cx="153.27" cy="410.82" r="1.95" fill="#ff8000"/>
<circle cx="156.48" cy="411.39" r="1.95" fill="#ff8000"/>
<polyline points="161.5,412.4 160.25,412.32 159,412.22 157.75,412.09 156.5,411.95 155.25,411.79 154,411.61 152.75,411.41 151.5,411.21 150.25,410.99 149,410.76 147.75,410.53 146.5,410.29 145.25,410.03 144,409.73 142.75,409.41 141.5,409.07 140.25,408.69 139,408.3 137.75,407.88 136.5,407.45 135.25,406.99 134,406.53 132.75,406.04 131.5,405.55 130.25,405.02 129,404.44 127.75,403.8 126.5,403.13 125.25,402.43 124,401.71 122.75,400.98 121.5,400.25 120.25,399.52 119,398.82 117.75,398.14 116.5,397.5 115.25,396.88 114,396.29 112.75,395.7 111.5,395.13 110.25,394.56 109,394 107.75,393.44 106.5,392.88 105.25,392.31 104,391.73 102.75,391.15 101.5,390.55 100.25,389.94 99,389.33 97.75,388.72 96.5,388.1 95.25,387.48 94,386.85 92.75,386.21 91.5,385.57 90.25,384.92 89,384.25 87.75,383.58 86.5,382.89 85.25,382.2 84,381.48 82.75,380.76 81.5,380.02 80.25,379.27 79,378.51 77.75,377.75 76.5,376.97 75.25,376.2 74,375.41 72.75,374.62 71.5,373.83 70.25,373.04 69,372.23 67.75,371.42 66.5,370.6 65.25,369.78 64,368.94 62.75,368.11 61.5,367.27 60.25,366.42 59,365.57 57.75,364.72 56.5,363.87 55.25,363.01 54,362.15 52.75,361.29 51.5,360.43 50.25,359.57 49,358.71 47.75,357.85 46.5,356.99 45.25,356.14 44,355.29 42.75,354.44 41.5,353.59 40.25,352.75 39,351.9 37.75,351.06 36.5,350.22 35.25,349.37 34,348.53 32.75,347.69 31.5,346.84 30.25,346 29,345.16 27.75,344.31 26.5,343.47 25.25,342.63 24,341.78 22.75,340.94 21.5,340.1 20.25,339.25 19,338.41 17.75,337.57 16.5,336.72 15.25,335.88 14,335.04 12.75,334.19 11.5,333.35" fill="none" stroke="#ff0000" stroke-width="0.9"/>
<path d="M11.5,331.05L13.7,334.95L9.3,334.95Z" fill="#ff0000"/>
<path d="M18.4,335.71L20.6,339.61L16.2,339.61Z" fill="#ff0000"/>
<path d="M25.12,340.24L27.32,344.14L22.92,344.14Z" fill="#ff0000"/>
<path d="M31.67,344.66L33.87,348.56L29.47,348.56Z" fill="#ff0000"/>
<path d="M38.04,348.96L40.24,352.86L35.84,352.86Z" fill="#ff0000"/>
<path d="M44.25,353.16L46.45,357.06L42.05,357.06Z" fill="#ff0000"/>
<path d="M50.3,357.3L52.5,361.2L48.1,361.2Z" fill="#ff0000"/>
<path d="M56.19,361.35L58.39,365.25L53.99,365.25Z" fill="#ff0000"/>
<path d="M61.93,365.26L64.13,369.16L59.73,369.16Z" fill="#ff0000"/>
<path d="M67.52,368.97L69.72,372.87L65.32,372.87Z" fill="#ff0000"/>
<path d="M72.96,372.46L75.16,376.36L70.76,376.36Z" fill="#ff0000"/>
<path d="M78.26,375.76L80.46,379.66L76.06,379.66Z" fill="#ff0000"/>
<path d="M83.43,378.85L85.63,382.75L81.23,382.75Z" fill="#ff0000"/>
<path d="M88.46,381.66L90.66,385.56L86.26,385.56Z" fill="#ff0000"/>
<path d="M93.36,384.22L95.56,388.12L91.16,388.12Z" fill="#ff0000"/>
<path d="M98.13,386.6L100.33,390.5L95.93,390.5Z" fill="#ff0000"/>
<path d="M102.78,388.86L104.98,392.76L100.58,392.76Z" fill="#ff0000"/>
<path d="M107.3,390.94L109.5,394.84L105.1,394.84Z" fill="#ff0000"/>
<path d="M111.71,392.93L113.91,396.83L109.51,396.83Z" fill="#ff0000"/>
<path d="M116.01,394.95L118.21,398.85L113.81,398.85Z" fill="#ff0000"/>
<path d="M120.19,397.19L122.39,401.09L117.99,401.09Z" fill="#ff0000"/>
<path d="M124.26,399.56L126.46,403.46L122.06,403.46Z" fill="#ff0000"/>
<path d="M128.23,401.75L130.43,405.65L126.03,405.65Z" fill="#ff0000"/>
<path d="M132.1,403.49L134.3,407.39L129.9,407.39Z" fill="#ff0000"/>
<path d="M135.86,404.92L138.06,408.82L133.66,408.82Z" fill="#ff0000"/>
<path d="M139.53,406.17L141.73,410.07L137.33,410.07Z" fill="#ff0000"/>
<path d="M143.1,407.21L145.3,411.11L140.9,411.11Z" fill="#ff0000"/>
<path d="M146.58,408L148.78,411.9L144.38,411.9Z" fill="#ff0000"/>
<path d="M149.97,408.64L152.17,412.54L147.77,412.54Z" fill="#ff0000"/>
<path d="M153.27,409.2L155.47,413.1L151.07,413.1Z" fill="#ff0000"/>
<path d="M156.48,409.65L158.68,413.55L154.28,413.55Z" fill="#ff0000"/>
<polyline points="161.5,412.4 160.25,412.94 159,413.5 157.75,414.07 156.5,414.64 155.25,415.23 154,415.83 152.75,416.45 151.5,417.07 150.25,417.7 149,418.34 147.75,418.99 146.5,419.65 145.25,420.32 144,421.01 142.75,421.71 141.5,422.42 140.25,423.15 139,423.89 137.75,424.64 136.5,425.4 135.25,426.16 134,426.94 132.75,427.72 131.5,428.51 130.25,429.32 129,430.15 127.75,431 126.5,431.86 125.25,432.74 124,433.62 122.75,434.5 121.5,435.38 120.25,436.25 119,437.12 117.75,437.96 116.5,438.78 115.25,439.59 114,440.37 112.75,441.15 111.5,441.91 110.25,442.66 109,443.42 107.75,444.17 106.5,444.92 105.25,445.67 104,446.43 102.75,447.21 101.5,447.99 100.25,448.79 99,449.61 97.75,450.44 96.5,451.28 95.25,452.13 94,452.98 92.75,453.85 91.5,454.72 90.25,455.59 89,456.47 87.75,457.35 86.5,458.23 85.25,459.11 84,459.99 82.75,460.87 81.5,461.74 80.25,462.62 79,463.5 77.75,464.39 76.5,465.29 75.25,466.19 74,467.09 72.75,467.99 71.5,468.89 70.25,469.79 69,470.69 67.75,471.57 66.5,472.45 65.25,473.33 64,474.19 62.75,475.03 61.5,475.87 60.25,476.69 59,477.49 57.75,478.28 56.5,479.07 55.25,479.84 54,480.61 52.75,481.37 51.5,482.12 50.25,482.86 49,483.6 47.75,484.33 46.5,485.06 45.25,485.78 44,486.5 42.75,487.21 41.5,487.92 40.25,488.63 39,489.34 37.75,490.05 36.5,490.75 35.25,491.44 34,492.14 32.75,492.83 31.5,493.52 30.25,494.21 29,494.89 27.75,495.57 26.5,496.24 25.25,496.91 24,497.58 22.75,498.25 21.5,498.91 20.25,499.56 19,500.21 17.75,500.86 16.5,501.51 15.25,502.15 14,502.78 12.75,503.41 11.5,504.04" fill="none" stroke="#2e961c" stroke-width="0.9"/>
<rect x="9.8" y="502.34" width="3.4" height="3.4" fill="#2e961c"/>
<rect x="16.7" y="498.83" width="3.4" height="3.4" fill="#2e961c"/>
<rect x="23.42" y="495.28" width="3.4" height="3.4" fill="#2e961c"/>
<rect x="29.97" y="491.73" width="3.4" height="3.4" fill="#2e961c"/>
<rect x="36.34" y="488.18" width="3.4" height="3.4" fill="#2e961c"/>
<rect x="42.55" y="484.65" width="3.4" height="3.4" fill="#2e961c"/>
<rect x="48.6" y="481.13" width="3.4" height="3.4" fill="#2e961c"/>
<rect x="54.49" y="477.56" width="3.4" height="3.4" fill="#2e961c"/>
<rect x="60.23" y="473.88" width="3.4" height="3.4" fill="#2e961c"/>
<rect x="65.82" y="470.04" width="3.4" height="3.4" fill="#2e961c"/>
<rect x="71.26" y="466.14" width="3.4" height="3.4" fill="#2e961c"/>
<rect x="76.56" y="462.33" width="3.4" height="3.4" fill="#2e961c"/>
<rect x="81.73" y="458.69" width="3.4" height="3.4" fill="#2e961c"/>
<rect x="86.76" y="455.15" width="3.4" height="3.4" fill="#2e961c"/>
<rect x="91.66" y="451.73" width="3.4" height="3.4" fill="#2e961c"/>
<rect x="96.43" y="448.49" width="3.4" height="3.4" fill="#2e961c"/>
<rect x="101.08" y="445.49" width="3.4" height="3.4" fill="#2e961c"/>
<rect x="105.6" y="442.73" width="3.4" height="3.4" fill="#2e961c"/>
<rect x="110.01" y="440.08" width="3.4" height="3.4" fill="#2e961c"/>
<rect x="114.31" y="437.4" width="3.4" height="3.4" fill="#2e961c"/>
<rect x="118.49" y="434.6" width="3.4" height="3.4" fill="#2e961c"/>
<rect x="122.56" y="431.73" width="3.4" height="3.4" fill="#2e961c"/>
<rect x="126.53" y="428.97" width="3.4" height="3.4" fill="#2e961c"/>
<rect x="130.4" y="426.43" width="3.4" height="3.4" fill="#2e961c"/>
<rect x="134.16" y="424.09" width="3.4" height="3.4" fill="#2e961c"/>
<rect x="137.83" y="421.88" width="3.4" height="3.4" fill="#2e961c"/>
<rect x="141.4" y="419.81" width="3.4" height="3.4" fill="#2e961c"/>
<rect x="144.88" y="417.91" width="3.4" height="3.4" fill="#2e961c"/>
<rect x="148.27" y="416.14" width="3.4" height="3.4" fill="#2e961c"/>
<rect x="151.57" y="414.49" width="3.4" height="3.4" fill="#2e961c"/>
<rect x="154.78" y="412.95" width="3.4" height="3.4" fill="#2e961c"/>
<polyline points="161.5,412.4 160.25,412.88 159,413.38 157.75,413.89 156.5,414.41 155.25,414.97 154,415.57 152.75,416.2 151.5,416.83 150.25,417.44 149,418.03 147.75,418.57 146.5,419.05 145.25,419.48 144,419.9 142.75,420.31 141.5,420.7 140.25,421.07 139,421.43 137.75,421.77 136.5,422.09 135.25,422.4 134,422.68 132.75,422.94 131.5,423.17 130.25,423.39 129,423.6 127.75,423.79 126.5,423.97 125.25,424.14 124,424.3 122.75,424.46 121.5,424.61 120.25,424.76 119,424.9 117.75,425.05 116.5,425.19 115.25,425.33 114,425.47 112.75,425.6 111.5,425.74 110.25,425.87 109,425.99 107.75,426.12 106.5,426.24 105.25,426.36 104,426.47 102.75,426.59 101.5,426.7 100.25,426.81 99,426.92 97.75,427.02 96.5,427.12 95.25,427.22 94,427.32 92.75,427.42 91.5,427.51 90.25,427.61 89,427.71 87.75,427.81 86.5,427.91 85.25,428.01 84,428.12 82.75,428.22 81.5,428.33 80.25,428.44 79,428.54 77.75,428.65 76.5,428.75 75.25,428.85 74,428.94 72.75,429.03 71.5,429.12 70.25,429.2 69,429.28 67.75,429.36 66.5,429.44 65.25,429.52 64,429.6 62.75,429.68 61.5,429.75 60.25,429.83 59,429.9 57.75,429.98 56.5,430.05 55.25,430.12 54,430.18 52.75,430.24 51.5,430.3 50.25,430.36 49,430.41 47.75,430.46 46.5,430.5 45.25,430.54 44,430.57 42.75,430.6 41.5,430.63 40.25,430.65 39,430.67 37.75,430.69 36.5,430.71 35.25,430.73 34,430.74 32.75,430.76 31.5,430.78 30.25,430.8 29,430.81 27.75,430.83 26.5,430.84 25.25,430.85 24,430.87 22.75,430.88 21.5,430.89 20.25,430.9 19,430.91 17.75,430.91 16.5,430.92 15.25,430.92 14,430.93 12.75,430.93 11.5,430.93" fill="none" stroke="#ff8000" stroke-width="0.9"/>
<circle cx="11.5" cy="430.93" r="1.95" fill="#ff8000"/>
<circle cx="18.4" cy="430.91" r="1.95" fill="#ff8000"/>
<circle cx="25.12" cy="430.86" r="1.95" fill="#ff8000"/>
<circle cx="31.67" cy="430.78" r="1.95" fill="#ff8000"/>
<circle cx="38.04" cy="430.68" r="1.95" fill="#ff8000"/>
<circle cx="44.25" cy="430.57" r="1.95" fill="#ff8000"/>
<circle cx="50.3" cy="430.36" r="1.95" fill="#ff8000"/>
<circle cx="56.19" cy="430.06" r="1.95" fill="#ff8000"/>
<circle cx="61.93" cy="429.73" r="1.95" fill="#ff8000"/>
<circle cx="67.52" cy="429.37" r="1.95" fill="#ff8000"/>
<circle cx="72.96" cy="429.02" r="1.95" fill="#ff8000"/>
<circle cx="78.26" cy="428.61" r="1.95" fill="#ff8000"/>
<circle cx="83.43" cy="428.16" r="1.95" fill="#ff8000"/>
<circle cx="88.46" cy="427.75" r="1.95" fill="#ff8000"/>
<circle cx="93.36" cy="427.37" r="1.95" fill="#ff8000"/>
<circle cx="98.13" cy="426.99" r="1.95" fill="#ff8000"/>
<circle cx="102.78" cy="426.58" r="1.95" fill="#ff8000"/>
<circle cx="107.3" cy="426.16" r="1.95" fill="#ff8000"/>
<circle cx="111.71" cy="425.71" r="1.95" fill="#ff8000"/>
<circle cx="116.01" cy="425.25" r="1.95" fill="#ff8000"/>
<circle cx="120.19" cy="424.77" r="1.95" fill="#ff8000"/>
<circle cx="124.26" cy="424.27" r="1.95" fill="#ff8000"/>
<circle cx="128.23" cy="423.72" r="1.95" fill="#ff8000"/>
<circle cx="132.1" cy="423.06" r="1.95" fill="#ff8000"/>
<circle cx="135.86" cy="422.25" r="1.95" fill="#ff8000"/>
<circle cx="139.53" cy="421.28" r="1.95" fill="#ff8000"/>
<circle cx="143.1" cy="420.19" r="1.95" fill="#ff8000"/>
<circle cx="146.58" cy="419.02" r="1.95" fill="#ff8000"/>
<circle cx="149.97" cy="417.58" r="1.95" fill="#ff8000"/>
<circle cx="153.27" cy="415.94" r="1.95" fill="#ff8000"/>
<circle cx="156.48" cy="414.42" r="1.95" fill="#ff8000"/>
<polyline points="161.5,412.4 160.25,412.52 159,412.66 157.75,412.82 156.5,413.01 155.25,413.21 154,413.43 152.75,413.66 151.5,413.91 150.25,414.17 149,414.45 147.75,414.73 146.5,415.02 145.25,415.33 144,415.68 142.75,416.06 141.5,416.47 140.25,416.9 139,417.36 137.75,417.84 136.5,418.33 135.25,418.83 134,419.33 132.75,419.84 131.5,420.36 130.25,420.88 129,421.42 127.75,421.98 126.5,422.56 125.25,423.15 124,423.75 122.75,424.37 121.5,424.99 120.25,425.62 119,426.25 117.75,426.88 116.5,427.5 115.25,428.13 114,428.77 112.75,429.41 111.5,430.05 110.25,430.7 109,431.35 107.75,432.01 106.5,432.68 105.25,433.35 104,434.03 102.75,434.72 101.5,435.42 100.25,436.12 99,436.84 97.75,437.57 96.5,438.31 95.25,439.07 94,439.83 92.75,440.6 91.5,441.38 90.25,442.16 89,442.94 87.75,443.73 86.5,444.52 85.25,445.31 84,446.09 82.75,446.87 81.5,447.64 80.25,448.42 79,449.2 77.75,449.98 76.5,450.76 75.25,451.54 74,452.33 72.75,453.11 71.5,453.9 70.25,454.68 69,455.46 67.75,456.24 66.5,457.01 65.25,457.78 64,458.55 62.75,459.3 61.5,460.05 60.25,460.79 59,461.52 57.75,462.25 56.5,462.97 55.25,463.69 54,464.4 52.75,465.1 51.5,465.81 50.25,466.5 49,467.2 47.75,467.89 46.5,468.58 45.25,469.27 44,469.95 42.75,470.63 41.5,471.31 40.25,471.99 39,472.66 37.75,473.34 36.5,474.01 35.25,474.68 34,475.35 32.75,476.02 31.5,476.68 30.25,477.35 29,478.01 27.75,478.67 26.5,479.32 25.25,479.98 24,480.63 22.75,481.28 21.5,481.93 20.25,482.57 19,483.22 17.75,483.86 16.5,484.49 15.25,485.13 14,485.76 12.75,486.39 11.5,487.02" fill="none" stroke="#ff0000" stroke-width="0.9"/>
<path d="M11.5,484.72L13.7,488.62L9.3,488.62Z" fill="#ff0000"/>
<path d="M18.4,481.22L20.6,485.12L16.2,485.12Z" fill="#ff0000"/>
<path d="M25.12,477.74L27.32,481.64L22.92,481.64Z" fill="#ff0000"/>
<path d="M31.67,474.29L33.87,478.19L29.47,478.19Z" fill="#ff0000"/>
<path d="M38.04,470.88L40.24,474.78L35.84,474.78Z" fill="#ff0000"/>
<path d="M44.25,467.51L46.45,471.41L42.05,471.41Z" fill="#ff0000"/>
<path d="M50.3,464.18L52.5,468.08L48.1,468.08Z" fill="#ff0000"/>
<path d="M56.19,460.85L58.39,464.75L53.99,464.75Z" fill="#ff0000"/>
<path d="M61.93,457.49L64.13,461.39L59.73,461.39Z" fill="#ff0000"/>
<path d="M67.52,454.08L69.72,457.98L65.32,457.98Z" fill="#ff0000"/>
<path d="M72.96,450.68L75.16,454.58L70.76,454.58Z" fill="#ff0000"/>
<path d="M78.26,447.35L80.46,451.25L76.06,451.25Z" fill="#ff0000"/>
<path d="M83.43,444.15L85.63,448.05L81.23,448.05Z" fill="#ff0000"/>
<path d="M88.46,440.99L90.66,444.89L86.26,444.89Z" fill="#ff0000"/>
<path d="M93.36,437.92L95.56,441.82L91.16,441.82Z" fill="#ff0000"/>
<path d="M98.13,435.05L100.33,438.95L95.93,438.95Z" fill="#ff0000"/>
<path d="M102.78,432.41L104.98,436.31L100.58,436.31Z" fill="#ff0000"/>
<path d="M107.3,429.95L109.5,433.85L105.1,433.85Z" fill="#ff0000"/>
<path d="M111.71,427.64L113.91,431.54L109.51,431.54Z" fill="#ff0000"/>
<path d="M116.01,425.45L118.21,429.35L113.81,429.35Z" fill="#ff0000"/>
<path d="M120.19,423.35L122.39,427.25L117.99,427.25Z" fill="#ff0000"/>
<path d="M124.26,421.32L126.46,425.22L122.06,425.22Z" fill="#ff0000"/>
<path d="M128.23,419.46L130.43,423.36L126.03,423.36Z" fill="#ff0000"/>
<path d="M132.1,417.81L134.3,421.71L129.9,421.71Z" fill="#ff0000"/>
<path d="M135.86,416.28L138.06,420.18L133.66,420.18Z" fill="#ff0000"/>
<path d="M139.53,414.87L141.73,418.77L137.33,418.77Z" fill="#ff0000"/>
<path d="M143.1,413.65L145.3,417.55L140.9,417.55Z" fill="#ff0000"/>
<path d="M146.58,412.7L148.78,416.6L144.38,416.6Z" fill="#ff0000"/>
<path d="M149.97,411.94L152.17,415.84L147.77,415.84Z" fill="#ff0000"/>
<path d="M153.27,411.26L155.47,415.16L151.07,415.16Z" fill="#ff0000"/>
<path d="M156.48,410.71L158.68,414.61L154.28,414.61Z" fill="#ff0000"/>
<polyline points="161.5,412.4 162.75,413.18 164,413.95 165.25,414.71 166.5,415.46 167.75,416.2 169,416.93 170.25,417.64 171.5,418.34 172.75,419.02 174,419.68 175.25,420.32 176.5,420.95 177.75,421.58 179,422.23 180.25,422.89 181.5,423.58 182.75,424.3 184,425.04 185.25,425.79 186.5,426.56 187.75,427.35 189,428.13 190.25,428.93 191.5,429.72 192.75,430.52 194,431.32 195.25,432.13 196.5,432.94 197.75,433.76 199,434.58 200.25,435.41 201.5,436.24 202.75,437.07 204,437.91 205.25,438.75 206.5,439.59 207.75,440.43 209,441.27 210.25,442.11 211.5,442.95 212.75,443.79 214,444.64 215.25,445.5 216.5,446.36 217.75,447.23 219,448.11 220.25,449 221.5,449.9 222.75,450.81 224,451.75 225.25,452.7 226.5,453.66 227.75,454.64 229,455.62 230.25,456.61 231.5,457.6 232.75,458.59 234,459.58 235.25,460.56 236.5,461.54 237.75,462.51 239,463.49 240.25,464.46 241.5,465.44 242.75,466.41 244,467.38 245.25,468.36 246.5,469.33 247.75,470.3 249,471.28 250.25,472.25 251.5,473.22 252.75,474.19 254,475.16 255.25,476.12 256.5,477.08 257.75,478.04 259,479 260.25,479.96 261.5,480.92 262.75,481.88 264,482.84 265.25,483.81 266.5,484.78 267.75,485.76 269,486.75 270.25,487.73 271.5,488.73 272.75,489.74 274,490.75 275.25,491.78 276.5,492.81 277.75,493.85 279,494.89 280.25,495.94 281.5,496.99 282.75,498.04 284,499.08 285.25,500.12 286.5,501.16 287.75,502.2 289,503.24 290.25,504.28 291.5,505.34 292.75,506.4 294,507.47 295.25,508.55 296.5,509.65 297.75,510.76 299,511.89 300.25,513.04 301.5,514.21 302.75,515.41 304,516.64 305.25,517.89 306.5,519.17 307.75,520.47 309,521.8 310.25,523.13 311.5,524.48" fill="none" stroke="#2e961c" stroke-width="0.9"/>
<rect x="309.8" y="522.78" width="3.4" height="3.4" fill="#2e961c"/>
<rect x="301.8" y="514.44" width="3.4" height="3.4" fill="#2e961c"/>
<rect x="293.9" y="507.15" width="3.4" height="3.4" fill="#2e961c"/>
<rect x="286.09" y="500.53" width="3.4" height="3.4" fill="#2e961c"/>
<rect x="278.37" y="494.09" width="3.4" height="3.4" fill="#2e961c"/>
<rect x="270.75" y="487.79" width="3.4" height="3.4" fill="#2e961c"/>
<rect x="263.22" y="481.85" width="3.4" height="3.4" fill="#2e961c"/>
<rect x="255.78" y="476.13" width="3.4" height="3.4" fill="#2e961c"/>
<rect x="248.42" y="470.45" width="3.4" height="3.4" fill="#2e961c"/>
<rect x="241.16" y="464.8" width="3.4" height="3.4" fill="#2e961c"/>
<rect x="233.98" y="459.21" width="3.4" height="3.4" fill="#2e961c"/>
<rect x="226.89" y="453.6" width="3.4" height="3.4" fill="#2e961c"/>
<rect x="219.89" y="448.26" width="3.4" height="3.4" fill="#2e961c"/>
<rect x="212.97" y="443.4" width="3.4" height="3.4" fill="#2e961c"/>
<rect x="206.13" y="438.78" width="3.4" height="3.4" fill="#2e961c"/>
<rect x="199.37" y="434.26" width="3.4" height="3.4" fill="#2e961c"/>
<rect x="192.7" y="429.88" width="3.4" height="3.4" fill="#2e961c"/>
<rect x="186.1" y="425.68" width="3.4" height="3.4" fill="#2e961c"/>
<rect x="179.59" y="421.76" width="3.4" height="3.4" fill="#2e961c"/>
<rect x="173.15" y="418.41" width="3.4" height="3.4" fill="#2e961c"/>
<rect x="166.79" y="414.93" width="3.4" height="3.4" fill="#2e961c"/>
<polyline points="161.5,412.4 162.75,413.02 164,413.64 165.25,414.26 166.5,414.89 167.75,415.52 169,416.16 170.25,416.79 171.5,417.44 172.75,418.1 174,418.81 175.25,419.54 176.5,420.26 177.75,420.95 179,421.6 180.25,422.18 181.5,422.67 182.75,423.1 184,423.49 185.25,423.87 186.5,424.21 187.75,424.53 189,424.81 190.25,425.07 191.5,425.29 192.75,425.48 194,425.66 195.25,425.83 196.5,425.98 197.75,426.12 199,426.25 200.25,426.38 201.5,426.5 202.75,426.62 204,426.75 205.25,426.87 206.5,427 207.75,427.13 209,427.26 210.25,427.37 211.5,427.49 212.75,427.61 214,427.72 215.25,427.84 216.5,427.96 217.75,428.09 219,428.22 220.25,428.36 221.5,428.51 222.75,428.68 224,428.87 225.25,429.07 226.5,429.29 227.75,429.51 229,429.74 230.25,429.97 231.5,430.2 232.75,430.43 234,430.64 235.25,430.84 236.5,431.03 237.75,431.2 239,431.38 240.25,431.54 241.5,431.71 242.75,431.87 244,432.03 245.25,432.18 246.5,432.32 247.75,432.46 249,432.6 250.25,432.72 251.5,432.84 252.75,432.96 254,433.07 255.25,433.18 256.5,433.29 257.75,433.39 259,433.5 260.25,433.6 261.5,433.7 262.75,433.8 264,433.9 265.25,433.99 266.5,434.08 267.75,434.17 269,434.26 270.25,434.34 271.5,434.42 272.75,434.5 274,434.58 275.25,434.65 276.5,434.72 277.75,434.78 279,434.84 280.25,434.9 281.5,434.96 282.75,435.01 284,435.06 285.25,435.11 286.5,435.16 287.75,435.21 289,435.26 290.25,435.31 291.5,435.36 292.75,435.4 294,435.45 295.25,435.49 296.5,435.53 297.75,435.57 299,435.61 300.25,435.64 301.5,435.68 302.75,435.71 304,435.74 305.25,435.77 306.5,435.79 307.75,435.81 309,435.83 310.25,435.85 311.5,435.86" fill="none" stroke="#ff8000" stroke-width="0.9"/>
<circle cx="311.5" cy="435.86" r="1.95" fill="#ff8000"/>
<circle cx="303.5" cy="435.73" r="1.95" fill="#ff8000"/>
<circle cx="295.6" cy="435.5" r="1.95" fill="#ff8000"/>
<circle cx="287.79" cy="435.22" r="1.95" fill="#ff8000"/>
<circle cx="280.07" cy="434.89" r="1.95" fill="#ff8000"/>
<circle cx="272.45" cy="434.48" r="1.95" fill="#ff8000"/>
<circle cx="264.92" cy="433.97" r="1.95" fill="#ff8000"/>
<circle cx="257.48" cy="433.37" r="1.95" fill="#ff8000"/>
<circle cx="250.12" cy="432.71" r="1.95" fill="#ff8000"/>
<circle cx="242.86" cy="431.88" r="1.95" fill="#ff8000"/>
<circle cx="235.68" cy="430.91" r="1.95" fill="#ff8000"/>
<circle cx="228.59" cy="429.67" r="1.95" fill="#ff8000"/>
<circle cx="221.59" cy="428.52" r="1.95" fill="#ff8000"/>
<circle cx="214.67" cy="427.78" r="1.95" fill="#ff8000"/>
<circle cx="207.83" cy="427.14" r="1.95" fill="#ff8000"/>
<circle cx="201.07" cy="426.46" r="1.95" fill="#ff8000"/>
<circle cx="194.4" cy="425.72" r="1.95" fill="#ff8000"/>
<circle cx="187.8" cy="424.54" r="1.95" fill="#ff8000"/>
<circle cx="181.29" cy="422.6" r="1.95" fill="#ff8000"/>
<circle cx="174.85" cy="419.31" r="1.95" fill="#ff8000"/>
<circle cx="168.49" cy="415.9" r="1.95" fill="#ff8000"/>
<polyline points="161.5,412.4 162.75,412.41 164,412.45 165.25,412.51 166.5,412.59 167.75,412.68 169,412.78 170.25,412.89 171.5,413 172.75,413.13 174,413.29 175.25,413.47 176.5,413.69 177.75,413.93 179,414.2 180.25,414.49 181.5,414.82 182.75,415.23 184,415.77 185.25,416.4 186.5,417.1 187.75,417.84 189,418.58 190.25,419.3 191.5,419.95 192.75,420.56 194,421.15 195.25,421.74 196.5,422.31 197.75,422.88 199,423.45 200.25,424.02 201.5,424.6 202.75,425.18 204,425.77 205.25,426.38 206.5,427 207.75,427.64 209,428.28 210.25,428.93 211.5,429.59 212.75,430.25 214,430.93 215.25,431.61 216.5,432.3 217.75,433 219,433.71 220.25,434.43 221.5,435.17 222.75,435.91 224,436.67 225.25,437.45 226.5,438.25 227.75,439.05 229,439.87 230.25,440.69 231.5,441.52 232.75,442.35 234,443.18 235.25,444.01 236.5,444.83 237.75,445.64 239,446.45 240.25,447.26 241.5,448.07 242.75,448.88 244,449.7 245.25,450.52 246.5,451.34 247.75,452.17 249,453 250.25,453.84 251.5,454.69 252.75,455.55 254,456.41 255.25,457.28 256.5,458.15 257.75,459.02 259,459.9 260.25,460.79 261.5,461.68 262.75,462.57 264,463.47 265.25,464.38 266.5,465.29 267.75,466.21 269,467.14 270.25,468.08 271.5,469.02 272.75,469.97 274,470.94 275.25,471.93 276.5,472.92 277.75,473.93 279,474.94 280.25,475.95 281.5,476.95 282.75,477.94 284,478.94 285.25,479.92 286.5,480.91 287.75,481.89 289,482.87 290.25,483.86 291.5,484.84 292.75,485.84 294,486.84 295.25,487.85 296.5,488.86 297.75,489.89 299,490.93 300.25,491.99 301.5,493.06 302.75,494.15 304,495.26 305.25,496.39 306.5,497.53 307.75,498.69 309,499.86 310.25,501.04 311.5,502.22" fill="none" stroke="#ff0000" stroke-width="0.9"/>
<path d="M311.5,499.92L313.7,503.82L309.3,503.82Z" fill="#ff0000"/>
<path d="M303.5,492.51L305.7,496.41L301.3,496.41Z" fill="#ff0000"/>
<path d="M295.6,485.83L297.8,489.73L293.4,489.73Z" fill="#ff0000"/>
<path d="M287.79,479.62L289.99,483.52L285.59,483.52Z" fill="#ff0000"/>
<path d="M280.07,473.5L282.27,477.4L277.87,477.4Z" fill="#ff0000"/>
<path d="M272.45,467.44L274.65,471.34L270.25,471.34Z" fill="#ff0000"/>
<path d="M264.92,461.84L267.12,465.74L262.72,465.74Z" fill="#ff0000"/>
<path d="M257.48,456.53L259.68,460.43L255.28,460.43Z" fill="#ff0000"/>
<path d="M250.12,451.46L252.32,455.36L247.92,455.36Z" fill="#ff0000"/>
<path d="M242.86,446.66L245.06,450.56L240.66,450.56Z" fill="#ff0000"/>
<path d="M235.68,441.99L237.88,445.89L233.48,445.89Z" fill="#ff0000"/>
<path d="M228.59,437.3L230.79,441.2L226.39,441.2Z" fill="#ff0000"/>
<path d="M221.59,432.92L223.79,436.82L219.39,436.82Z" fill="#ff0000"/>
<path d="M214.67,428.99L216.87,432.89L212.47,432.89Z" fill="#ff0000"/>
<path d="M207.83,425.38L210.03,429.28L205.63,429.28Z" fill="#ff0000"/>
<path d="M201.07,422.1L203.27,426L198.87,426Z" fill="#ff0000"/>
<path d="M194.4,419.04L196.6,422.94L192.2,422.94Z" fill="#ff0000"/>
<path d="M187.8,415.57L190,419.47L185.6,419.47Z" fill="#ff0000"/>
<path d="M181.29,412.46L183.49,416.36L179.09,416.36Z" fill="#ff0000"/>
<path d="M174.85,411.11L177.05,415.01L172.65,415.01Z" fill="#ff0000"/>
<path d="M168.49,410.44L170.69,414.34L166.29,414.34Z" fill="#ff0000"/>
<g stroke="#1a1a1a" stroke-width="1.2" fill="none">
<line x1="161.5" y1="291.56" x2="161.5" y2="533.24"/>
<line x1="11.5" y1="412.4" x2="311.5" y2="412.4"/>
<line x1="161.5" y1="533.24" x2="167" y2="533.24"/>
<line x1="161.5" y1="523.17" x2="164.5" y2="523.17"/>
<line x1="161.5" y1="513.1" x2="167" y2="513.1"/>
<line x1="161.5" y1="503.03" x2="164.5" y2="503.03"/>
<line x1="161.5" y1="492.96" x2="167" y2="492.96"/>
<line x1="161.5" y1="482.89" x2="164.5" y2="482.89"/>
<line x1="161.5" y1="472.82" x2="167" y2="472.82"/>
<line x1="161.5" y1="462.75" x2="164.5" y2="462.75"/>
<line x1="161.5" y1="452.68" x2="167" y2="452.68"/>
<line x1="161.5" y1="442.61" x2="164.5" y2="442.61"/>
<line x1="161.5" y1="432.54" x2="167" y2="432.54"/>
<line x1="161.5" y1="422.47" x2="164.5" y2="422.47"/>
<line x1="161.5" y1="412.4" x2="167" y2="412.4"/>
<line x1="161.5" y1="402.33" x2="164.5" y2="402.33"/>
<line x1="161.5" y1="392.26" x2="167" y2="392.26"/>
<line x1="161.5" y1="382.19" x2="164.5" y2="382.19"/>
<line x1="161.5" y1="372.12" x2="167" y2="372.12"/>
<line x1="161.5" y1="362.05" x2="164.5" y2="362.05"/>
<line x1="161.5" y1="351.98" x2="167" y2="351.98"/>
<line x1="161.5" y1="341.91" x2="164.5" y2="341.91"/>
<line x1="161.5" y1="331.84" x2="167" y2="331.84"/>
<line x1="161.5" y1="321.77" x2="164.5" y2="321.77"/>
<line x1="161.5" y1="311.7" x2="167" y2="311.7"/>
<line x1="161.5" y1="301.63" x2="164.5" y2="301.63"/>
<line x1="161.5" y1="291.56" x2="167" y2="291.56"/>
<line x1="11.5" y1="412.4" x2="11.5" y2="408.4"/>
<line x1="26.5" y1="412.4" x2="26.5" y2="410.4"/>
<line x1="41.5" y1="412.4" x2="41.5" y2="408.4"/>
<line x1="56.5" y1="412.4" x2="56.5" y2="410.4"/>
<line x1="71.5" y1="412.4" x2="71.5" y2="408.4"/>
<line x1="86.5" y1="412.4" x2="86.5" y2="410.4"/>
<line x1="101.5" y1="412.4" x2="101.5" y2="408.4"/>
<line x1="116.5" y1="412.4" x2="116.5" y2="410.4"/>
<line x1="131.5" y1="412.4" x2="131.5" y2="408.4"/>
<line x1="146.5" y1="412.4" x2="146.5" y2="410.4"/>
<line x1="176.5" y1="412.4" x2="176.5" y2="410.4"/>
<line x1="191.5" y1="412.4" x2="191.5" y2="408.4"/>
<line x1="206.5" y1="412.4" x2="206.5" y2="410.4"/>
<line x1="221.5" y1="412.4" x2="221.5" y2="408.4"/>
<line x1="236.5" y1="412.4" x2="236.5" y2="410.4"/>
<line x1="251.5" y1="412.4" x2="251.5" y2="408.4"/>
<line x1="266.5" y1="412.4" x2="266.5" y2="410.4"/>
<line x1="281.5" y1="412.4" x2="281.5" y2="408.4"/>
<line x1="296.5" y1="412.4" x2="296.5" y2="410.4"/>
<line x1="311.5" y1="412.4" x2="311.5" y2="408.4"/>
</g>
<g font-size="13.3" fill="#1a1a1a">
<text transform="translate(157.9,537.34) scale(0.8,1)" text-anchor="end">-1.2</text>
<text transform="translate(157.9,517.2) scale(0.8,1)" text-anchor="end">-1.0</text>
<text transform="translate(157.9,497.06) scale(0.8,1)" text-anchor="end">-0.8</text>
<text transform="translate(157.9,476.92) scale(0.8,1)" text-anchor="end">-0.6</text>
<text transform="translate(157.9,456.78) scale(0.8,1)" text-anchor="end">-0.4</text>
<text transform="translate(157.9,436.64) scale(0.8,1)" text-anchor="end">-0.2</text>
<text transform="translate(157.9,416.5) scale(0.8,1)" text-anchor="end">0.0</text>
<text transform="translate(157.9,396.36) scale(0.8,1)" text-anchor="end">0.2</text>
<text transform="translate(157.9,376.22) scale(0.8,1)" text-anchor="end">0.4</text>
<text transform="translate(157.9,356.08) scale(0.8,1)" text-anchor="end">0.6</text>
<text transform="translate(157.9,335.94) scale(0.8,1)" text-anchor="end">0.8</text>
<text transform="translate(157.9,315.8) scale(0.8,1)" text-anchor="end">1.0</text>
<text transform="translate(157.9,295.66) scale(0.8,1)" text-anchor="end">1.2</text>
<text transform="translate(11.5,424.5) scale(0.8,1)" text-anchor="middle">-15</text>
<text transform="translate(41.5,424.5) scale(0.8,1)" text-anchor="middle">-12</text>
<text transform="translate(71.5,424.5) scale(0.8,1)" text-anchor="middle">-9</text>
<text transform="translate(101.5,424.5) scale(0.8,1)" text-anchor="middle">-6</text>
<text transform="translate(131.5,424.5) scale(0.8,1)" text-anchor="middle">-3</text>
<text transform="translate(161.5,424.5) scale(0.8,1)" text-anchor="middle">0</text>
<text transform="translate(191.5,424.5) scale(0.8,1)" text-anchor="middle">3</text>
<text transform="translate(221.5,424.5) scale(0.8,1)" text-anchor="middle">6</text>
<text transform="translate(251.5,424.5) scale(0.8,1)" text-anchor="middle">9</text>
<text transform="translate(281.5,424.5) scale(0.8,1)" text-anchor="middle">12</text>
<text transform="translate(311.5,424.5) scale(0.8,1)" text-anchor="middle">15</text>
</g>
<text transform="translate(178.3,413.6) rotate(-90) scale(1.08,1)" text-anchor="middle" font-size="12.7" fill="#1a1a1a">Energy density/(+/−10<tspan font-size="8.2" dy="-6.8">6</tspan><tspan dy="6.8">J/m</tspan><tspan font-size="8.2" dy="-6.8">3</tspan><tspan dy="6.8">)</tspan></text>
<text x="178.5" y="437" font-size="13.7" fill="#1a1a1a">Axial strain/(+/−10<tspan font-size="9.5" dy="-6">-2</tspan><tspan dy="6">)</tspan></text>
<line x1="173.8" y1="326.1" x2="198.5" y2="326.1" stroke="#2e961c" stroke-width="1.1"/>
<rect x="184.95" y="324.9" width="2.4" height="2.4" fill="#2e961c"/>
<text x="200.4" y="329.6" font-size="11.5" fill="#1a1a1a">U<tspan font-size="7" dy="2.5">F</tspan></text>
<line x1="215.8" y1="326.1" x2="239.2" y2="326.1" stroke="#ff8000" stroke-width="1.1"/>
<circle cx="227.5" cy="326.1" r="1.3" fill="#ff8000"/>
<text x="243.3" y="329.6" font-size="11.5" fill="#1a1a1a">U<tspan font-size="7" dy="2.5">E</tspan></text>
<line x1="258.7" y1="326.1" x2="282.2" y2="326.1" stroke="#ff0000" stroke-width="1.1"/>
<path d="M270.45,324.4L272.05,327.2L268.85,327.2Z" fill="#ff0000"/>
<text x="285.2" y="329.6" font-size="11.5" fill="#1a1a1a">U<tspan font-size="7" dy="2.5">D</tspan></text>
<rect x="43.7" y="295.86" width="60.3" height="21.2" fill="#00ff00"/>
<rect x="39.5" y="291.86" width="60.3" height="21.2" fill="#fff" stroke="#1a1a1a" stroke-width="1.2"/>
<text x="40.7" y="306.06" font-size="12.3" fill="#1a1a1a">σ<tspan font-size="7" dy="2.5" dx="1">3</tspan><tspan dy="-2.5">=1.0MPa</tspan></text>
<rect x="223.5" y="295.86" width="60.4" height="21.2" fill="#ff0000"/>
<rect x="219.3" y="291.86" width="60.4" height="21.2" fill="#fff" stroke="#1a1a1a" stroke-width="1.2"/>
<text x="220.5" y="306.06" font-size="12.3" fill="#1a1a1a">σ<tspan font-size="7" dy="2.5" dx="1">3</tspan><tspan dy="-2.5">=0.5MPa</tspan></text>
<rect x="43.7" y="512.74" width="60.3" height="20.7" fill="#0000ff"/>
<rect x="39.5" y="508.74" width="60.3" height="20.7" fill="#fff" stroke="#1a1a1a" stroke-width="1.2"/>
<text x="40.7" y="522.94" font-size="12.3" fill="#1a1a1a">σ<tspan font-size="7" dy="2.5" dx="1">3</tspan><tspan dy="-2.5">=1.5MPa</tspan></text>
<rect x="227.5" y="512.74" width="52.2" height="20.7" fill="#ff8000"/>
<rect x="223.3" y="508.74" width="52.2" height="20.7" fill="#fff" stroke="#1a1a1a" stroke-width="1.2"/>
<text x="224.5" y="522.94" font-size="12.3" fill="#1a1a1a">σ<tspan font-size="7" dy="2.5" dx="1">3</tspan><tspan dy="-2.5">=2MPa</tspan></text>
<text x="0.3" y="564.8" font-size="19" letter-spacing="0.2" fill="#222" stroke="#222" stroke-width="0.3">(c) T=-15°C</text>
<polyline points="529.5,412.4 530.75,412.31 532,412.19 533.25,412.06 534.5,411.9 535.75,411.72 537,411.52 538.25,411.32 539.5,411.11 540.75,410.86 542,410.58 543.25,410.26 544.5,409.91 545.75,409.55 547,409.18 548.25,408.8 549.5,408.43 550.75,408.06 552,407.68 553.25,407.29 554.5,406.9 555.75,406.49 557,406.08 558.25,405.66 559.5,405.24 560.75,404.81 562,404.37 563.25,403.93 564.5,403.49 565.75,403.04 567,402.58 568.25,402.11 569.5,401.63 570.75,401.15 572,400.65 573.25,400.15 574.5,399.63 575.75,399.09 577,398.54 578.25,397.97 579.5,397.39 580.75,396.79 582,396.18 583.25,395.57 584.5,394.95 585.75,394.33 587,393.7 588.25,393.08 589.5,392.45 590.75,391.83 592,391.21 593.25,390.57 594.5,389.94 595.75,389.29 597,388.65 598.25,388 599.5,387.36 600.75,386.71 602,386.06 603.25,385.42 604.5,384.78 605.75,384.15 607,383.51 608.25,382.88 609.5,382.25 610.75,381.61 612,380.98 613.25,380.35 614.5,379.72 615.75,379.09 617,378.45 618.25,377.82 619.5,377.19 620.75,376.56 622,375.93 623.25,375.3 624.5,374.67 625.75,374.04 627,373.41 628.25,372.77 629.5,372.14 630.75,371.51 632,370.87 633.25,370.23 634.5,369.59 635.75,368.95 637,368.3 638.25,367.65 639.5,367 640.75,366.34 642,365.69 643.25,365.03 644.5,364.37 645.75,363.71 647,363.06 648.25,362.4 649.5,361.74 650.75,361.09 652,360.43 653.25,359.77 654.5,359.12 655.75,358.46 657,357.8 658.25,357.15 659.5,356.49 660.75,355.83 662,355.17 663.25,354.52 664.5,353.86 665.75,353.2 667,352.54 668.25,351.88 669.5,351.22 670.75,350.57 672,349.91 673.25,349.25 674.5,348.59 675.75,347.93 677,347.27 678.25,346.61 679.5,345.95" fill="none" stroke="#2e961c" stroke-width="0.9"/>
<rect x="677.8" y="344.25" width="3.4" height="3.4" fill="#2e961c"/>
<rect x="671.5" y="347.57" width="3.4" height="3.4" fill="#2e961c"/>
<rect x="665.28" y="350.85" width="3.4" height="3.4" fill="#2e961c"/>
<rect x="659.13" y="354.09" width="3.4" height="3.4" fill="#2e961c"/>
<rect x="653.05" y="357.28" width="3.4" height="3.4" fill="#2e961c"/>
<rect x="647.05" y="360.44" width="3.4" height="3.4" fill="#2e961c"/>
<rect x="641.12" y="363.56" width="3.4" height="3.4" fill="#2e961c"/>
<rect x="635.26" y="366.62" width="3.4" height="3.4" fill="#2e961c"/>
<rect x="629.47" y="369.6" width="3.4" height="3.4" fill="#2e961c"/>
<rect x="623.75" y="372.49" width="3.4" height="3.4" fill="#2e961c"/>
<rect x="618.1" y="375.34" width="3.4" height="3.4" fill="#2e961c"/>
<rect x="612.51" y="378.16" width="3.4" height="3.4" fill="#2e961c"/>
<rect x="607" y="380.95" width="3.4" height="3.4" fill="#2e961c"/>
<rect x="601.54" y="383.73" width="3.4" height="3.4" fill="#2e961c"/>
<rect x="596.16" y="386.51" width="3.4" height="3.4" fill="#2e961c"/>
<rect x="590.84" y="389.23" width="3.4" height="3.4" fill="#2e961c"/>
<rect x="585.58" y="391.86" width="3.4" height="3.4" fill="#2e961c"/>
<rect x="580.39" y="394.44" width="3.4" height="3.4" fill="#2e961c"/>
<rect x="575.26" y="396.86" width="3.4" height="3.4" fill="#2e961c"/>
<rect x="570.19" y="399" width="3.4" height="3.4" fill="#2e961c"/>
<rect x="565.18" y="400.92" width="3.4" height="3.4" fill="#2e961c"/>
<rect x="560.23" y="402.7" width="3.4" height="3.4" fill="#2e961c"/>
<rect x="555.34" y="404.37" width="3.4" height="3.4" fill="#2e961c"/>
<rect x="550.51" y="405.92" width="3.4" height="3.4" fill="#2e961c"/>
<rect x="545.74" y="407.34" width="3.4" height="3.4" fill="#2e961c"/>
<rect x="541.02" y="408.7" width="3.4" height="3.4" fill="#2e961c"/>
<rect x="536.37" y="409.65" width="3.4" height="3.4" fill="#2e961c"/>
<rect x="531.76" y="410.33" width="3.4" height="3.4" fill="#2e961c"/>
<polyline points="529.5,412.4 530.75,412.29 532,412.18 533.25,412.08 534.5,411.97 535.75,411.86 537,411.75 538.25,411.64 539.5,411.54 540.75,411.43 542,411.33 543.25,411.23 544.5,411.13 545.75,411.03 547,410.92 548.25,410.8 549.5,410.67 550.75,410.52 552,410.34 553.25,410.15 554.5,409.94 555.75,409.74 557,409.54 558.25,409.36 559.5,409.21 560.75,409.07 562,408.95 563.25,408.83 564.5,408.71 565.75,408.61 567,408.5 568.25,408.4 569.5,408.3 570.75,408.21 572,408.11 573.25,408.01 574.5,407.91 575.75,407.82 577,407.72 578.25,407.64 579.5,407.55 580.75,407.47 582,407.38 583.25,407.29 584.5,407.2 585.75,407.11 587,407.01 588.25,406.91 589.5,406.79 590.75,406.66 592,406.53 593.25,406.38 594.5,406.22 595.75,406.05 597,405.88 598.25,405.71 599.5,405.53 600.75,405.34 602,405.16 603.25,404.98 604.5,404.81 605.75,404.62 607,404.42 608.25,404.21 609.5,403.99 610.75,403.77 612,403.55 613.25,403.34 614.5,403.15 615.75,402.96 617,402.8 618.25,402.67 619.5,402.56 620.75,402.47 622,402.39 623.25,402.31 624.5,402.24 625.75,402.17 627,402.1 628.25,402.04 629.5,401.98 630.75,401.92 632,401.87 633.25,401.82 634.5,401.77 635.75,401.72 637,401.68 638.25,401.63 639.5,401.59 640.75,401.55 642,401.51 643.25,401.47 644.5,401.43 645.75,401.39 647,401.35 648.25,401.31 649.5,401.27 650.75,401.23 652,401.19 653.25,401.15 654.5,401.11 655.75,401.07 657,401.03 658.25,401 659.5,400.96 660.75,400.92 662,400.89 663.25,400.86 664.5,400.82 665.75,400.79 667,400.76 668.25,400.73 669.5,400.7 670.75,400.67 672,400.64 673.25,400.61 674.5,400.59 675.75,400.56 677,400.54 678.25,400.51 679.5,400.49" fill="none" stroke="#ff8000" stroke-width="0.9"/>
<circle cx="679.5" cy="400.49" r="1.95" fill="#ff8000"/>
<circle cx="673.2" cy="400.61" r="1.95" fill="#ff8000"/>
<circle cx="666.98" cy="400.76" r="1.95" fill="#ff8000"/>
<circle cx="660.83" cy="400.92" r="1.95" fill="#ff8000"/>
<circle cx="654.75" cy="401.1" r="1.95" fill="#ff8000"/>
<circle cx="648.75" cy="401.29" r="1.95" fill="#ff8000"/>
<circle cx="642.82" cy="401.48" r="1.95" fill="#ff8000"/>
<circle cx="636.96" cy="401.68" r="1.95" fill="#ff8000"/>
<circle cx="631.17" cy="401.91" r="1.95" fill="#ff8000"/>
<circle cx="625.45" cy="402.19" r="1.95" fill="#ff8000"/>
<circle cx="619.8" cy="402.54" r="1.95" fill="#ff8000"/>
<circle cx="614.21" cy="403.19" r="1.95" fill="#ff8000"/>
<circle cx="608.7" cy="404.13" r="1.95" fill="#ff8000"/>
<circle cx="603.24" cy="404.98" r="1.95" fill="#ff8000"/>
<circle cx="597.86" cy="405.76" r="1.95" fill="#ff8000"/>
<circle cx="592.54" cy="406.46" r="1.95" fill="#ff8000"/>
<circle cx="587.28" cy="406.99" r="1.95" fill="#ff8000"/>
<circle cx="582.09" cy="407.37" r="1.95" fill="#ff8000"/>
<circle cx="576.96" cy="407.73" r="1.95" fill="#ff8000"/>
<circle cx="571.89" cy="408.12" r="1.95" fill="#ff8000"/>
<circle cx="566.88" cy="408.51" r="1.95" fill="#ff8000"/>
<circle cx="561.93" cy="408.95" r="1.95" fill="#ff8000"/>
<circle cx="557.04" cy="409.53" r="1.95" fill="#ff8000"/>
<circle cx="552.21" cy="410.31" r="1.95" fill="#ff8000"/>
<circle cx="547.44" cy="410.88" r="1.95" fill="#ff8000"/>
<circle cx="542.72" cy="411.27" r="1.95" fill="#ff8000"/>
<circle cx="538.07" cy="411.66" r="1.95" fill="#ff8000"/>
<circle cx="533.46" cy="412.06" r="1.95" fill="#ff8000"/>
<polyline points="529.5,412.4 530.75,412.39 532,412.36 533.25,412.32 534.5,412.27 535.75,412.2 537,412.13 538.25,412.05 539.5,411.97 540.75,411.87 542,411.74 543.25,411.58 544.5,411.41 545.75,411.23 547,411.04 548.25,410.85 549.5,410.67 550.75,410.51 552,410.34 553.25,410.18 554.5,410.01 555.75,409.84 557,409.65 558.25,409.44 559.5,409.21 560.75,408.94 562,408.63 563.25,408.28 564.5,407.91 565.75,407.51 567,407.09 568.25,406.65 569.5,406.21 570.75,405.76 572,405.32 573.25,404.88 574.5,404.46 575.75,404.05 577,403.64 578.25,403.22 579.5,402.8 580.75,402.39 582,401.96 583.25,401.54 584.5,401.1 585.75,400.66 587,400.22 588.25,399.76 589.5,399.3 590.75,398.82 592,398.33 593.25,397.83 594.5,397.32 595.75,396.79 597,396.26 598.25,395.73 599.5,395.19 600.75,394.66 602,394.12 603.25,393.59 604.5,393.07 605.75,392.55 607,392.03 608.25,391.51 609.5,390.99 610.75,390.48 612,389.96 613.25,389.44 614.5,388.92 615.75,388.41 617,387.89 618.25,387.37 619.5,386.86 620.75,386.34 622,385.83 623.25,385.33 624.5,384.83 625.75,384.32 627,383.82 628.25,383.31 629.5,382.8 630.75,382.29 632,381.76 633.25,381.23 634.5,380.69 635.75,380.13 637,379.57 638.25,378.99 639.5,378.4 640.75,377.8 642,377.2 643.25,376.59 644.5,375.98 645.75,375.37 647,374.76 648.25,374.16 649.5,373.56 650.75,372.97 652,372.38 653.25,371.79 654.5,371.2 655.75,370.6 657,370.01 658.25,369.42 659.5,368.83 660.75,368.24 662,367.65 663.25,367.06 664.5,366.47 665.75,365.88 667,365.29 668.25,364.7 669.5,364.11 670.75,363.52 672,362.93 673.25,362.35 674.5,361.76 675.75,361.17 677,360.58 678.25,360 679.5,359.41" fill="none" stroke="#ff0000" stroke-width="0.9"/>
<path d="M679.5,357.11L681.7,361.01L677.3,361.01Z" fill="#ff0000"/>
<path d="M673.2,360.07L675.4,363.97L671,363.97Z" fill="#ff0000"/>
<path d="M666.98,363L669.18,366.9L664.78,366.9Z" fill="#ff0000"/>
<path d="M660.83,365.9L663.03,369.8L658.63,369.8Z" fill="#ff0000"/>
<path d="M654.75,368.78L656.95,372.68L652.55,372.68Z" fill="#ff0000"/>
<path d="M648.75,371.62L650.95,375.52L646.55,375.52Z" fill="#ff0000"/>
<path d="M642.82,374.5L645.02,378.4L640.62,378.4Z" fill="#ff0000"/>
<path d="M636.96,377.29L639.16,381.19L634.76,381.19Z" fill="#ff0000"/>
<path d="M631.17,379.81L633.37,383.71L628.97,383.71Z" fill="#ff0000"/>
<path d="M625.45,382.14L627.65,386.04L623.25,386.04Z" fill="#ff0000"/>
<path d="M619.8,384.43L622,388.33L617.6,388.33Z" fill="#ff0000"/>
<path d="M614.21,386.74L616.41,390.64L612.01,390.64Z" fill="#ff0000"/>
<path d="M608.7,389.03L610.9,392.93L606.5,392.93Z" fill="#ff0000"/>
<path d="M603.24,391.29L605.44,395.19L601.04,395.19Z" fill="#ff0000"/>
<path d="M597.86,393.6L600.06,397.5L595.66,397.5Z" fill="#ff0000"/>
<path d="M592.54,395.82L594.74,399.72L590.34,399.72Z" fill="#ff0000"/>
<path d="M587.28,397.81L589.48,401.71L585.08,401.71Z" fill="#ff0000"/>
<path d="M582.09,399.63L584.29,403.53L579.89,403.53Z" fill="#ff0000"/>
<path d="M576.96,401.35L579.16,405.25L574.76,405.25Z" fill="#ff0000"/>
<path d="M571.89,403.06L574.09,406.96L569.69,406.96Z" fill="#ff0000"/>
<path d="M566.88,404.83L569.08,408.73L564.68,408.73Z" fill="#ff0000"/>
<path d="M561.93,406.35L564.13,410.25L559.73,410.25Z" fill="#ff0000"/>
<path d="M557.04,407.34L559.24,411.24L554.84,411.24Z" fill="#ff0000"/>
<path d="M552.21,408.02L554.41,411.92L550.01,411.92Z" fill="#ff0000"/>
<path d="M547.44,408.67L549.64,412.57L545.24,412.57Z" fill="#ff0000"/>
<path d="M542.72,409.35L544.92,413.25L540.52,413.25Z" fill="#ff0000"/>
<path d="M538.07,409.76L540.27,413.66L535.87,413.66Z" fill="#ff0000"/>
<path d="M533.46,410.01L535.66,413.91L531.26,413.91Z" fill="#ff0000"/>
<polyline points="529.5,412.4 528.25,411.86 527,411.31 525.75,410.74 524.5,410.16 523.25,409.57 522,408.96 520.75,408.33 519.5,407.68 518.25,407.01 517,406.35 515.75,405.7 514.5,405.06 513.25,404.45 512,403.85 510.75,403.26 509.5,402.67 508.25,402.09 507,401.52 505.75,400.95 504.5,400.37 503.25,399.8 502,399.23 500.75,398.65 499.5,398.07 498.25,397.49 497,396.92 495.75,396.34 494.5,395.77 493.25,395.19 492,394.62 490.75,394.04 489.5,393.46 488.25,392.87 487,392.28 485.75,391.69 484.5,391.08 483.25,390.47 482,389.84 480.75,389.2 479.5,388.55 478.25,387.9 477,387.25 475.75,386.6 474.5,385.95 473.25,385.32 472,384.69 470.75,384.08 469.5,383.49 468.25,382.92 467,382.36 465.75,381.83 464.5,381.3 463.25,380.78 462,380.26 460.75,379.75 459.5,379.22 458.25,378.69 457,378.15 455.75,377.59 454.5,377.02 453.25,376.42 452,375.8 450.75,375.16 449.5,374.51 448.25,373.85 447,373.18 445.75,372.51 444.5,371.84 443.25,371.18 442,370.52 440.75,369.88 439.5,369.25 438.25,368.64 437,368.03 435.75,367.43 434.5,366.84 433.25,366.25 432,365.67 430.75,365.09 429.5,364.51 428.25,363.94 427,363.37 425.75,362.8 424.5,362.24 423.25,361.67 422,361.1 420.75,360.53 419.5,359.95 418.25,359.37 417,358.79 415.75,358.21 414.5,357.62 413.25,357.02 412,356.42 410.75,355.8 409.5,355.18 408.25,354.56 407,353.93 405.75,353.29 404.5,352.65 403.25,352.01 402,351.37 400.75,350.72 399.5,350.06 398.25,349.41 397,348.75 395.75,348.08 394.5,347.41 393.25,346.74 392,346.07 390.75,345.39 389.5,344.71 388.25,344.02 387,343.33 385.75,342.64 384.5,341.95 383.25,341.25 382,340.55 380.75,339.84 379.5,339.13" fill="none" stroke="#2e961c" stroke-width="0.9"/>
<rect x="377.8" y="337.43" width="3.4" height="3.4" fill="#2e961c"/>
<rect x="386.05" y="342.05" width="3.4" height="3.4" fill="#2e961c"/>
<rect x="394.09" y="346.4" width="3.4" height="3.4" fill="#2e961c"/>
<rect x="401.94" y="350.51" width="3.4" height="3.4" fill="#2e961c"/>
<rect x="409.58" y="354.37" width="3.4" height="3.4" fill="#2e961c"/>
<rect x="417.04" y="357.9" width="3.4" height="3.4" fill="#2e961c"/>
<rect x="424.31" y="361.22" width="3.4" height="3.4" fill="#2e961c"/>
<rect x="431.39" y="364.48" width="3.4" height="3.4" fill="#2e961c"/>
<rect x="438.3" y="367.8" width="3.4" height="3.4" fill="#2e961c"/>
<rect x="445.04" y="371.34" width="3.4" height="3.4" fill="#2e961c"/>
<rect x="451.61" y="374.75" width="3.4" height="3.4" fill="#2e961c"/>
<rect x="458.02" y="377.61" width="3.4" height="3.4" fill="#2e961c"/>
<rect x="464.26" y="380.22" width="3.4" height="3.4" fill="#2e961c"/>
<rect x="470.35" y="383.02" width="3.4" height="3.4" fill="#2e961c"/>
<rect x="476.29" y="386.06" width="3.4" height="3.4" fill="#2e961c"/>
<rect x="482.07" y="389.03" width="3.4" height="3.4" fill="#2e961c"/>
<rect x="513.89" y="403.91" width="3.4" height="3.4" fill="#2e961c"/>
<rect x="518.73" y="406.46" width="3.4" height="3.4" fill="#2e961c"/>
<rect x="523.46" y="408.77" width="3.4" height="3.4" fill="#2e961c"/>
<rect x="512.8" y="403.36" width="3.4" height="3.4" fill="#2e961c"/>
<rect x="511" y="402.49" width="3.4" height="3.4" fill="#2e961c"/>
<rect x="509.2" y="401.63" width="3.4" height="3.4" fill="#2e961c"/>
<rect x="507.4" y="400.79" width="3.4" height="3.4" fill="#2e961c"/>
<rect x="505.6" y="399.96" width="3.4" height="3.4" fill="#2e961c"/>
<rect x="503.8" y="399.13" width="3.4" height="3.4" fill="#2e961c"/>
<rect x="502" y="398.31" width="3.4" height="3.4" fill="#2e961c"/>
<rect x="500.2" y="397.48" width="3.4" height="3.4" fill="#2e961c"/>
<rect x="498.4" y="396.65" width="3.4" height="3.4" fill="#2e961c"/>
<rect x="496.6" y="395.82" width="3.4" height="3.4" fill="#2e961c"/>
<rect x="494.8" y="394.99" width="3.4" height="3.4" fill="#2e961c"/>
<rect x="493" y="394.16" width="3.4" height="3.4" fill="#2e961c"/>
<rect x="491.2" y="393.33" width="3.4" height="3.4" fill="#2e961c"/>
<rect x="489.4" y="392.5" width="3.4" height="3.4" fill="#2e961c"/>
<rect x="487.6" y="391.66" width="3.4" height="3.4" fill="#2e961c"/>
<rect x="485.8" y="390.82" width="3.4" height="3.4" fill="#2e961c"/>
<rect x="484" y="389.96" width="3.4" height="3.4" fill="#2e961c"/>
<polyline points="529.5,412.4 528.25,411.83 527,411.26 525.75,410.69 524.5,410.12 523.25,409.55 522,408.98 520.75,408.37 519.5,407.75 518.25,407.13 517,406.55 515.75,406.03 514.5,405.58 513.25,405.2 512,404.83 510.75,404.48 509.5,404.16 508.25,403.85 507,403.55 505.75,403.28 504.5,403.02 503.25,402.77 502,402.54 500.75,402.33 499.5,402.13 498.25,401.94 497,401.76 495.75,401.58 494.5,401.41 493.25,401.25 492,401.09 490.75,400.95 489.5,400.81 488.25,400.69 487,400.58 485.75,400.49 484.5,400.4 483.25,400.33 482,400.27 480.75,400.21 479.5,400.16 478.25,400.11 477,400.06 475.75,400.02 474.5,399.97 473.25,399.93 472,399.89 470.75,399.85 469.5,399.8 468.25,399.75 467,399.7 465.75,399.65 464.5,399.6 463.25,399.55 462,399.5 460.75,399.46 459.5,399.41 458.25,399.37 457,399.34 455.75,399.31 454.5,399.28 453.25,399.26 452,399.24 450.75,399.23 449.5,399.21 448.25,399.19 447,399.18 445.75,399.17 444.5,399.16 443.25,399.14 442,399.13 440.75,399.12 439.5,399.11 438.25,399.1 437,399.09 435.75,399.08 434.5,399.06 433.25,399.05 432,399.04 430.75,399.03 429.5,399.02 428.25,399.01 427,399 425.75,398.99 424.5,398.97 423.25,398.96 422,398.95 420.75,398.94 419.5,398.93 418.25,398.92 417,398.91 415.75,398.9 414.5,398.89 413.25,398.88 412,398.87 410.75,398.86 409.5,398.85 408.25,398.84 407,398.83 405.75,398.82 404.5,398.82 403.25,398.81 402,398.8 400.75,398.79 399.5,398.78 398.25,398.77 397,398.77 395.75,398.76 394.5,398.75 393.25,398.74 392,398.74 390.75,398.73 389.5,398.72 388.25,398.72 387,398.71 385.75,398.7 384.5,398.7 383.25,398.69 382,398.69 380.75,398.68 379.5,398.68" fill="none" stroke="#ff8000" stroke-width="0.9"/>
<circle cx="379.5" cy="398.68" r="1.95" fill="#ff8000"/>
<circle cx="387.75" cy="398.71" r="1.95" fill="#ff8000"/>
<circle cx="395.79" cy="398.76" r="1.95" fill="#ff8000"/>
<circle cx="403.64" cy="398.81" r="1.95" fill="#ff8000"/>
<circle cx="411.28" cy="398.87" r="1.95" fill="#ff8000"/>
<circle cx="418.74" cy="398.93" r="1.95" fill="#ff8000"/>
<circle cx="426.01" cy="398.99" r="1.95" fill="#ff8000"/>
<circle cx="433.09" cy="399.05" r="1.95" fill="#ff8000"/>
<circle cx="440" cy="399.11" r="1.95" fill="#ff8000"/>
<circle cx="446.74" cy="399.18" r="1.95" fill="#ff8000"/>
<circle cx="453.31" cy="399.26" r="1.95" fill="#ff8000"/>
<circle cx="459.72" cy="399.42" r="1.95" fill="#ff8000"/>
<circle cx="465.96" cy="399.66" r="1.95" fill="#ff8000"/>
<circle cx="472.05" cy="399.89" r="1.95" fill="#ff8000"/>
<circle cx="477.99" cy="400.1" r="1.95" fill="#ff8000"/>
<circle cx="483.77" cy="400.36" r="1.95" fill="#ff8000"/>
<circle cx="527.5" cy="411.49" r="1.95" fill="#ff8000"/>
<circle cx="526.2" cy="410.89" r="1.95" fill="#ff8000"/>
<circle cx="524.9" cy="410.3" r="1.95" fill="#ff8000"/>
<circle cx="523.6" cy="409.71" r="1.95" fill="#ff8000"/>
<circle cx="522.3" cy="409.12" r="1.95" fill="#ff8000"/>
<circle cx="521" cy="408.49" r="1.95" fill="#ff8000"/>
<circle cx="519.7" cy="407.85" r="1.95" fill="#ff8000"/>
<circle cx="518.4" cy="407.21" r="1.95" fill="#ff8000"/>
<circle cx="517.1" cy="406.6" r="1.95" fill="#ff8000"/>
<circle cx="515.8" cy="406.05" r="1.95" fill="#ff8000"/>
<circle cx="514.5" cy="405.58" r="1.95" fill="#ff8000"/>
<circle cx="513.2" cy="405.18" r="1.95" fill="#ff8000"/>
<circle cx="511.9" cy="404.8" r="1.95" fill="#ff8000"/>
<circle cx="510.6" cy="404.44" r="1.95" fill="#ff8000"/>
<circle cx="509.3" cy="404.11" r="1.95" fill="#ff8000"/>
<circle cx="508" cy="403.79" r="1.95" fill="#ff8000"/>
<circle cx="506.7" cy="403.48" r="1.95" fill="#ff8000"/>
<circle cx="505.4" cy="403.2" r="1.95" fill="#ff8000"/>
<circle cx="504.1" cy="402.94" r="1.95" fill="#ff8000"/>
<circle cx="502.8" cy="402.69" r="1.95" fill="#ff8000"/>
<circle cx="501.5" cy="402.46" r="1.95" fill="#ff8000"/>
<circle cx="500.2" cy="402.24" r="1.95" fill="#ff8000"/>
<circle cx="498.9" cy="402.04" r="1.95" fill="#ff8000"/>
<circle cx="497.6" cy="401.84" r="1.95" fill="#ff8000"/>
<circle cx="496.3" cy="401.66" r="1.95" fill="#ff8000"/>
<circle cx="495" cy="401.48" r="1.95" fill="#ff8000"/>
<circle cx="493.7" cy="401.3" r="1.95" fill="#ff8000"/>
<circle cx="492.4" cy="401.14" r="1.95" fill="#ff8000"/>
<circle cx="491.1" cy="400.99" r="1.95" fill="#ff8000"/>
<circle cx="489.8" cy="400.84" r="1.95" fill="#ff8000"/>
<circle cx="488.5" cy="400.72" r="1.95" fill="#ff8000"/>
<circle cx="487.2" cy="400.6" r="1.95" fill="#ff8000"/>
<circle cx="485.9" cy="400.5" r="1.95" fill="#ff8000"/>
<circle cx="484.6" cy="400.41" r="1.95" fill="#ff8000"/>
<polyline points="529.5,412.4 528.25,412.4 527,412.38 525.75,412.37 524.5,412.34 523.25,412.31 522,412.27 520.75,412.23 519.5,412.18 518.25,412.14 517,412.08 515.75,412.03 514.5,411.97 513.25,411.89 512,411.79 510.75,411.67 509.5,411.54 508.25,411.39 507,411.21 505.75,411.02 504.5,410.8 503.25,410.56 502,410.3 500.75,410.02 499.5,409.72 498.25,409.38 497,408.96 495.75,408.49 494.5,407.97 493.25,407.42 492,406.83 490.75,406.23 489.5,405.63 488.25,405.02 487,404.43 485.75,403.87 484.5,403.34 483.25,402.83 482,402.34 480.75,401.84 479.5,401.36 478.25,400.88 477,400.39 475.75,399.91 474.5,399.43 473.25,398.95 472,398.46 470.75,397.97 469.5,397.47 468.25,396.97 467,396.46 465.75,395.96 464.5,395.46 463.25,394.95 462,394.44 460.75,393.92 459.5,393.4 458.25,392.87 457,392.34 455.75,391.8 454.5,391.26 453.25,390.7 452,390.13 450.75,389.55 449.5,388.96 448.25,388.37 447,387.77 445.75,387.17 444.5,386.57 443.25,385.97 442,385.37 440.75,384.77 439.5,384.18 438.25,383.6 437,383.02 435.75,382.44 434.5,381.86 433.25,381.29 432,380.72 430.75,380.16 429.5,379.59 428.25,379.02 427,378.45 425.75,377.89 424.5,377.32 423.25,376.75 422,376.17 420.75,375.6 419.5,375.02 418.25,374.43 417,373.85 415.75,373.25 414.5,372.66 413.25,372.05 412,371.44 410.75,370.82 409.5,370.2 408.25,369.57 407,368.93 405.75,368.29 404.5,367.65 403.25,367 402,366.34 400.75,365.68 399.5,365.02 398.25,364.35 397,363.67 395.75,363 394.5,362.31 393.25,361.63 392,360.94 390.75,360.24 389.5,359.54 388.25,358.84 387,358.13 385.75,357.42 384.5,356.71 383.25,355.99 382,355.26 380.75,354.53 379.5,353.8" fill="none" stroke="#ff0000" stroke-width="0.9"/>
<path d="M379.5,351.5L381.7,355.4L377.3,355.4Z" fill="#ff0000"/>
<path d="M387.75,356.26L389.95,360.16L385.55,360.16Z" fill="#ff0000"/>
<path d="M395.79,360.72L397.99,364.62L393.59,364.62Z" fill="#ff0000"/>
<path d="M403.64,364.9L405.84,368.8L401.44,368.8Z" fill="#ff0000"/>
<path d="M411.28,368.79L413.48,372.69L409.08,372.69Z" fill="#ff0000"/>
<path d="M418.74,372.36L420.94,376.26L416.54,376.26Z" fill="#ff0000"/>
<path d="M426.01,375.7L428.21,379.6L423.81,379.6Z" fill="#ff0000"/>
<path d="M433.09,378.92L435.29,382.82L430.89,382.82Z" fill="#ff0000"/>
<path d="M440,382.12L442.2,386.02L437.8,386.02Z" fill="#ff0000"/>
<path d="M446.74,385.35L448.94,389.25L444.54,389.25Z" fill="#ff0000"/>
<path d="M453.31,388.43L455.51,392.33L451.11,392.33Z" fill="#ff0000"/>
<path d="M459.72,391.19L461.92,395.09L457.52,395.09Z" fill="#ff0000"/>
<path d="M465.96,393.75L468.16,397.65L463.76,397.65Z" fill="#ff0000"/>
<path d="M472.05,396.18L474.25,400.08L469.85,400.08Z" fill="#ff0000"/>
<path d="M477.99,398.47L480.19,402.37L475.79,402.37Z" fill="#ff0000"/>
<path d="M483.77,400.74L485.97,404.64L481.57,404.64Z" fill="#ff0000"/>
<path d="M489.42,403.28L491.62,407.18L487.22,407.18Z" fill="#ff0000"/>
<path d="M494.92,405.85L497.12,409.75L492.72,409.75Z" fill="#ff0000"/>
<path d="M500.28,407.61L502.48,411.51L498.08,411.51Z" fill="#ff0000"/>
<path d="M505.51,408.68L507.71,412.58L503.31,412.58Z" fill="#ff0000"/>
<path d="M510.61,409.36L512.81,413.26L508.41,413.26Z" fill="#ff0000"/>
<path d="M515.59,409.72L517.79,413.62L513.39,413.62Z" fill="#ff0000"/>
<path d="M520.43,409.92L522.63,413.82L518.23,413.82Z" fill="#ff0000"/>
<path d="M525.16,410.05L527.36,413.95L522.96,413.95Z" fill="#ff0000"/>
<polyline points="529.5,412.4 528.25,412.82 527,413.27 525.75,413.75 524.5,414.25 523.25,414.79 522,415.34 520.75,415.92 519.5,416.53 518.25,417.15 517,417.79 515.75,418.45 514.5,419.13 513.25,419.84 512,420.61 510.75,421.43 509.5,422.28 508.25,423.16 507,424.07 505.75,425 504.5,425.94 503.25,426.88 502,427.82 500.75,428.75 499.5,429.66 498.25,430.56 497,431.46 495.75,432.37 494.5,433.28 493.25,434.19 492,435.11 490.75,436.03 489.5,436.96 488.25,437.89 487,438.82 485.75,439.76 484.5,440.71 483.25,441.66 482,442.63 480.75,443.61 479.5,444.6 478.25,445.59 477,446.59 475.75,447.58 474.5,448.57 473.25,449.56 472,450.53 470.75,451.49 469.5,452.44 468.25,453.37 467,454.28 465.75,455.17 464.5,456.05 463.25,456.93 462,457.8 460.75,458.68 459.5,459.57 458.25,460.47 457,461.4 455.75,462.34 454.5,463.32 453.25,464.33 452,465.37 450.75,466.43 449.5,467.52 448.25,468.63 447,469.75 445.75,470.88 444.5,472 443.25,473.13 442,474.24 440.75,475.35 439.5,476.43 438.25,477.51 437,478.59 435.75,479.67 434.5,480.76 433.25,481.84 432,482.93 430.75,484.02 429.5,485.1 428.25,486.18 427,487.26 425.75,488.34 424.5,489.41 423.25,490.48 422,491.54 420.75,492.6 419.5,493.65 418.25,494.69 417,495.73 415.75,496.75 414.5,497.77 413.25,498.77 412,499.77 410.75,500.75 409.5,501.72 408.25,502.68 407,503.64 405.75,504.59 404.5,505.53 403.25,506.47 402,507.4 400.75,508.32 399.5,509.24 398.25,510.15 397,511.06 395.75,511.96 394.5,512.85 393.25,513.74 392,514.62 390.75,515.49 389.5,516.36 388.25,517.22 387,518.07 385.75,518.92 384.5,519.76 383.25,520.59 382,521.41 380.75,522.23 379.5,523.04" fill="none" stroke="#2e961c" stroke-width="0.9"/>
<rect x="377.8" y="521.34" width="3.4" height="3.4" fill="#2e961c"/>
<rect x="386.55" y="515.52" width="3.4" height="3.4" fill="#2e961c"/>
<rect x="395.08" y="509.52" width="3.4" height="3.4" fill="#2e961c"/>
<rect x="403.4" y="503.38" width="3.4" height="3.4" fill="#2e961c"/>
<rect x="411.51" y="497.11" width="3.4" height="3.4" fill="#2e961c"/>
<rect x="419.42" y="490.59" width="3.4" height="3.4" fill="#2e961c"/>
<rect x="427.13" y="483.98" width="3.4" height="3.4" fill="#2e961c"/>
<rect x="434.64" y="477.46" width="3.4" height="3.4" fill="#2e961c"/>
<rect x="441.97" y="471.05" width="3.4" height="3.4" fill="#2e961c"/>
<rect x="449.12" y="464.68" width="3.4" height="3.4" fill="#2e961c"/>
<rect x="456.08" y="459.12" width="3.4" height="3.4" fill="#2e961c"/>
<rect x="462.88" y="454.3" width="3.4" height="3.4" fill="#2e961c"/>
<rect x="469.5" y="449.45" width="3.4" height="3.4" fill="#2e961c"/>
<rect x="475.96" y="444.36" width="3.4" height="3.4" fill="#2e961c"/>
<rect x="482.25" y="439.42" width="3.4" height="3.4" fill="#2e961c"/>
<rect x="488.39" y="434.82" width="3.4" height="3.4" fill="#2e961c"/>
<rect x="494.38" y="430.43" width="3.4" height="3.4" fill="#2e961c"/>
<rect x="500.21" y="426.19" width="3.4" height="3.4" fill="#2e961c"/>
<rect x="505.9" y="421.93" width="3.4" height="3.4" fill="#2e961c"/>
<rect x="511.45" y="418.2" width="3.4" height="3.4" fill="#2e961c"/>
<rect x="516.86" y="415.3" width="3.4" height="3.4" fill="#2e961c"/>
<rect x="522.13" y="412.83" width="3.4" height="3.4" fill="#2e961c"/>
<polyline points="529.5,412.4 528.25,413.06 527,413.72 525.75,414.36 524.5,414.99 523.25,415.62 522,416.24 520.75,416.87 519.5,417.49 518.25,418.09 517,418.67 515.75,419.22 514.5,419.74 513.25,420.23 512,420.72 510.75,421.19 509.5,421.66 508.25,422.12 507,422.56 505.75,422.98 504.5,423.38 503.25,423.76 502,424.11 500.75,424.44 499.5,424.74 498.25,425.02 497,425.27 495.75,425.51 494.5,425.74 493.25,425.95 492,426.16 490.75,426.35 489.5,426.55 488.25,426.74 487,426.93 485.75,427.13 484.5,427.33 483.25,427.53 482,427.74 480.75,427.95 479.5,428.15 478.25,428.35 477,428.55 475.75,428.75 474.5,428.94 473.25,429.13 472,429.31 470.75,429.49 469.5,429.66 468.25,429.82 467,429.98 465.75,430.13 464.5,430.28 463.25,430.42 462,430.56 460.75,430.7 459.5,430.84 458.25,430.97 457,431.11 455.75,431.25 454.5,431.39 453.25,431.53 452,431.68 450.75,431.83 449.5,431.99 448.25,432.14 447,432.29 445.75,432.44 444.5,432.58 443.25,432.71 442,432.83 440.75,432.94 439.5,433.03 438.25,433.11 437,433.18 435.75,433.25 434.5,433.32 433.25,433.39 432,433.45 430.75,433.51 429.5,433.57 428.25,433.63 427,433.68 425.75,433.74 424.5,433.79 423.25,433.84 422,433.88 420.75,433.93 419.5,433.98 418.25,434.02 417,434.06 415.75,434.11 414.5,434.15 413.25,434.19 412,434.23 410.75,434.28 409.5,434.32 408.25,434.36 407,434.41 405.75,434.45 404.5,434.49 403.25,434.53 402,434.57 400.75,434.61 399.5,434.65 398.25,434.69 397,434.73 395.75,434.76 394.5,434.8 393.25,434.84 392,434.87 390.75,434.91 389.5,434.94 388.25,434.97 387,435.01 385.75,435.04 384.5,435.07 383.25,435.1 382,435.13 380.75,435.16 379.5,435.18" fill="none" stroke="#ff8000" stroke-width="0.9"/>
<circle cx="379.5" cy="435.18" r="1.95" fill="#ff8000"/>
<circle cx="388.25" cy="434.97" r="1.95" fill="#ff8000"/>
<circle cx="396.78" cy="434.73" r="1.95" fill="#ff8000"/>
<circle cx="405.1" cy="434.47" r="1.95" fill="#ff8000"/>
<circle cx="413.21" cy="434.19" r="1.95" fill="#ff8000"/>
<circle cx="421.12" cy="433.92" r="1.95" fill="#ff8000"/>
<circle cx="428.83" cy="433.6" r="1.95" fill="#ff8000"/>
<circle cx="436.34" cy="433.22" r="1.95" fill="#ff8000"/>
<circle cx="443.67" cy="432.67" r="1.95" fill="#ff8000"/>
<circle cx="450.82" cy="431.82" r="1.95" fill="#ff8000"/>
<circle cx="457.78" cy="431.02" r="1.95" fill="#ff8000"/>
<circle cx="464.58" cy="430.27" r="1.95" fill="#ff8000"/>
<circle cx="471.2" cy="429.43" r="1.95" fill="#ff8000"/>
<circle cx="477.66" cy="428.45" r="1.95" fill="#ff8000"/>
<circle cx="483.95" cy="427.42" r="1.95" fill="#ff8000"/>
<circle cx="490.09" cy="426.46" r="1.95" fill="#ff8000"/>
<circle cx="496.08" cy="425.45" r="1.95" fill="#ff8000"/>
<circle cx="501.91" cy="424.14" r="1.95" fill="#ff8000"/>
<circle cx="507.6" cy="422.35" r="1.95" fill="#ff8000"/>
<circle cx="513.15" cy="420.27" r="1.95" fill="#ff8000"/>
<circle cx="518.56" cy="417.94" r="1.95" fill="#ff8000"/>
<circle cx="523.83" cy="415.32" r="1.95" fill="#ff8000"/>
<polyline points="529.5,412.4 528.25,412.51 527,412.65 525.75,412.81 524.5,412.99 523.25,413.19 522,413.41 520.75,413.64 519.5,413.89 518.25,414.15 517,414.42 515.75,414.7 514.5,414.99 513.25,415.3 512,415.64 510.75,416.02 509.5,416.43 508.25,416.86 507,417.32 505.75,417.79 504.5,418.28 503.25,418.78 502,419.3 500.75,419.82 499.5,420.34 498.25,420.88 497,421.44 495.75,422.03 494.5,422.64 493.25,423.26 492,423.91 490.75,424.56 489.5,425.23 488.25,425.9 487,426.58 485.75,427.26 484.5,427.93 483.25,428.62 482,429.31 480.75,430.01 479.5,430.73 478.25,431.45 477,432.18 475.75,432.91 474.5,433.65 473.25,434.4 472,435.15 470.75,435.9 469.5,436.65 468.25,437.4 467,438.16 465.75,438.91 464.5,439.67 463.25,440.44 462,441.21 460.75,441.98 459.5,442.77 458.25,443.57 457,444.39 455.75,445.21 454.5,446.06 453.25,446.92 452,447.81 450.75,448.71 449.5,449.63 448.25,450.57 447,451.51 445.75,452.47 444.5,453.43 443.25,454.39 442,455.36 440.75,456.32 439.5,457.28 438.25,458.24 437,459.2 435.75,460.18 434.5,461.16 433.25,462.15 432,463.14 430.75,464.14 429.5,465.14 428.25,466.14 427,467.15 425.75,468.15 424.5,469.15 423.25,470.16 422,471.16 420.75,472.15 419.5,473.15 418.25,474.13 417,475.12 415.75,476.09 414.5,477.06 413.25,478.02 412,478.97 410.75,479.91 409.5,480.84 408.25,481.76 407,482.67 405.75,483.59 404.5,484.49 403.25,485.4 402,486.3 400.75,487.19 399.5,488.08 398.25,488.97 397,489.85 395.75,490.73 394.5,491.6 393.25,492.47 392,493.34 390.75,494.2 389.5,495.05 388.25,495.9 387,496.75 385.75,497.59 384.5,498.42 383.25,499.26 382,500.08 380.75,500.9 379.5,501.72" fill="none" stroke="#ff0000" stroke-width="0.9"/>
<path d="M379.5,499.42L381.7,503.32L377.3,503.32Z" fill="#ff0000"/>
<path d="M388.25,493.6L390.45,497.5L386.05,497.5Z" fill="#ff0000"/>
<path d="M396.78,487.71L398.98,491.61L394.58,491.61Z" fill="#ff0000"/>
<path d="M405.1,481.76L407.3,485.66L402.9,485.66Z" fill="#ff0000"/>
<path d="M413.21,475.75L415.41,479.65L411.01,479.65Z" fill="#ff0000"/>
<path d="M421.12,469.56L423.32,473.46L418.92,473.46Z" fill="#ff0000"/>
<path d="M428.83,463.38L431.03,467.28L426.63,467.28Z" fill="#ff0000"/>
<path d="M436.34,457.42L438.54,461.32L434.14,461.32Z" fill="#ff0000"/>
<path d="M443.67,451.77L445.87,455.67L441.47,455.67Z" fill="#ff0000"/>
<path d="M450.82,446.36L453.02,450.26L448.62,450.26Z" fill="#ff0000"/>
<path d="M457.78,441.57L459.98,445.47L455.58,445.47Z" fill="#ff0000"/>
<path d="M464.58,437.32L466.78,441.22L462.38,441.22Z" fill="#ff0000"/>
<path d="M471.2,433.33L473.4,437.23L469,437.23Z" fill="#ff0000"/>
<path d="M477.66,429.49L479.86,433.39L475.46,433.39Z" fill="#ff0000"/>
<path d="M483.95,425.93L486.15,429.83L481.75,429.83Z" fill="#ff0000"/>
<path d="M490.09,422.61L492.29,426.51L487.89,426.51Z" fill="#ff0000"/>
<path d="M496.08,419.57L498.28,423.47L493.88,423.47Z" fill="#ff0000"/>
<path d="M501.91,417.03L504.11,420.93L499.71,420.93Z" fill="#ff0000"/>
<path d="M507.6,414.79L509.8,418.69L505.4,418.69Z" fill="#ff0000"/>
<path d="M513.15,413.02L515.35,416.92L510.95,416.92Z" fill="#ff0000"/>
<path d="M518.56,411.78L520.76,415.68L516.36,415.68Z" fill="#ff0000"/>
<path d="M523.83,410.8L526.03,414.7L521.63,414.7Z" fill="#ff0000"/>
<polyline points="529.5,412.4 530.75,413.08 532,413.76 533.25,414.43 534.5,415.09 535.75,415.74 537,416.39 538.25,417.03 539.5,417.66 540.75,418.27 542,418.84 543.25,419.39 544.5,419.94 545.75,420.51 547,421.11 548.25,421.77 549.5,422.5 550.75,423.35 552,424.33 553.25,425.42 554.5,426.56 555.75,427.72 557,428.87 558.25,429.96 559.5,430.95 560.75,431.86 562,432.73 563.25,433.56 564.5,434.36 565.75,435.15 567,435.92 568.25,436.7 569.5,437.48 570.75,438.28 572,439.11 573.25,439.97 574.5,440.88 575.75,441.83 577,442.82 578.25,443.84 579.5,444.89 580.75,445.96 582,447.04 583.25,448.14 584.5,449.25 585.75,450.36 587,451.47 588.25,452.57 589.5,453.65 590.75,454.73 592,455.8 593.25,456.88 594.5,457.96 595.75,459.04 597,460.12 598.25,461.2 599.5,462.28 600.75,463.36 602,464.44 603.25,465.52 604.5,466.6 605.75,467.67 607,468.74 608.25,469.82 609.5,470.89 610.75,471.96 612,473.03 613.25,474.1 614.5,475.17 615.75,476.24 617,477.31 618.25,478.38 619.5,479.46 620.75,480.53 622,481.61 623.25,482.7 624.5,483.79 625.75,484.88 627,485.97 628.25,487.05 629.5,488.14 630.75,489.22 632,490.3 633.25,491.37 634.5,492.43 635.75,493.49 637,494.54 638.25,495.58 639.5,496.62 640.75,497.65 642,498.67 643.25,499.69 644.5,500.71 645.75,501.72 647,502.73 648.25,503.74 649.5,504.74 650.75,505.74 652,506.74 653.25,507.74 654.5,508.73 655.75,509.72 657,510.71 658.25,511.7 659.5,512.69 660.75,513.67 662,514.66 663.25,515.63 664.5,516.61 665.75,517.59 667,518.56 668.25,519.53 669.5,520.5 670.75,521.46 672,522.42 673.25,523.38 674.5,524.34 675.75,525.29 677,526.24 678.25,527.19 679.5,528.13" fill="none" stroke="#2e961c" stroke-width="0.9"/>
<rect x="677.8" y="526.43" width="3.4" height="3.4" fill="#2e961c"/>
<rect x="669.8" y="520.34" width="3.4" height="3.4" fill="#2e961c"/>
<rect x="661.9" y="514.21" width="3.4" height="3.4" fill="#2e961c"/>
<rect x="654.09" y="508.05" width="3.4" height="3.4" fill="#2e961c"/>
<rect x="646.37" y="501.9" width="3.4" height="3.4" fill="#2e961c"/>
<rect x="638.75" y="495.7" width="3.4" height="3.4" fill="#2e961c"/>
<rect x="631.22" y="489.38" width="3.4" height="3.4" fill="#2e961c"/>
<rect x="623.78" y="482.94" width="3.4" height="3.4" fill="#2e961c"/>
<rect x="616.42" y="476.57" width="3.4" height="3.4" fill="#2e961c"/>
<rect x="609.16" y="470.35" width="3.4" height="3.4" fill="#2e961c"/>
<rect x="601.98" y="464.19" width="3.4" height="3.4" fill="#2e961c"/>
<rect x="594.89" y="458.07" width="3.4" height="3.4" fill="#2e961c"/>
<rect x="587.89" y="452.03" width="3.4" height="3.4" fill="#2e961c"/>
<rect x="580.97" y="445.93" width="3.4" height="3.4" fill="#2e961c"/>
<rect x="574.13" y="440.19" width="3.4" height="3.4" fill="#2e961c"/>
<rect x="567.37" y="435.52" width="3.4" height="3.4" fill="#2e961c"/>
<rect x="560.7" y="431.3" width="3.4" height="3.4" fill="#2e961c"/>
<rect x="554.1" y="426.07" width="3.4" height="3.4" fill="#2e961c"/>
<rect x="547.59" y="420.67" width="3.4" height="3.4" fill="#2e961c"/>
<rect x="541.15" y="417.52" width="3.4" height="3.4" fill="#2e961c"/>
<rect x="534.79" y="414.43" width="3.4" height="3.4" fill="#2e961c"/>
<polyline points="529.5,412.4 530.75,413.01 532,413.6 533.25,414.19 534.5,414.77 535.75,415.33 537,415.89 538.25,416.44 539.5,416.97 540.75,417.5 542,418.03 543.25,418.55 544.5,419.05 545.75,419.55 547,420.03 548.25,420.5 549.5,420.94 550.75,421.37 552,421.79 553.25,422.2 554.5,422.59 555.75,422.97 557,423.34 558.25,423.7 559.5,424.05 560.75,424.39 562,424.71 563.25,425.03 564.5,425.33 565.75,425.63 567,425.93 568.25,426.22 569.5,426.51 570.75,426.8 572,427.09 573.25,427.38 574.5,427.68 575.75,427.97 577,428.27 578.25,428.57 579.5,428.86 580.75,429.16 582,429.46 583.25,429.75 584.5,430.04 585.75,430.34 587,430.63 588.25,430.92 589.5,431.21 590.75,431.51 592,431.83 593.25,432.15 594.5,432.48 595.75,432.81 597,433.13 598.25,433.44 599.5,433.74 600.75,434.01 602,434.26 603.25,434.48 604.5,434.67 605.75,434.82 607,434.97 608.25,435.11 609.5,435.23 610.75,435.35 612,435.46 613.25,435.57 614.5,435.67 615.75,435.77 617,435.86 618.25,435.95 619.5,436.05 620.75,436.14 622,436.23 623.25,436.33 624.5,436.42 625.75,436.52 627,436.61 628.25,436.7 629.5,436.8 630.75,436.89 632,436.97 633.25,437.06 634.5,437.15 635.75,437.23 637,437.3 638.25,437.38 639.5,437.45 640.75,437.52 642,437.58 643.25,437.64 644.5,437.7 645.75,437.74 647,437.79 648.25,437.83 649.5,437.86 650.75,437.89 652,437.92 653.25,437.94 654.5,437.97 655.75,438 657,438.02 658.25,438.05 659.5,438.07 660.75,438.1 662,438.12 663.25,438.14 664.5,438.16 665.75,438.18 667,438.2 668.25,438.21 669.5,438.23 670.75,438.24 672,438.26 673.25,438.27 674.5,438.27 675.75,438.28 677,438.29 678.25,438.29 679.5,438.29" fill="none" stroke="#ff8000" stroke-width="0.9"/>
<circle cx="679.5" cy="438.29" r="1.95" fill="#ff8000"/>
<circle cx="671.5" cy="438.25" r="1.95" fill="#ff8000"/>
<circle cx="663.6" cy="438.15" r="1.95" fill="#ff8000"/>
<circle cx="655.79" cy="438" r="1.95" fill="#ff8000"/>
<circle cx="648.07" cy="437.82" r="1.95" fill="#ff8000"/>
<circle cx="640.45" cy="437.5" r="1.95" fill="#ff8000"/>
<circle cx="632.92" cy="437.04" r="1.95" fill="#ff8000"/>
<circle cx="625.48" cy="436.5" r="1.95" fill="#ff8000"/>
<circle cx="618.12" cy="435.94" r="1.95" fill="#ff8000"/>
<circle cx="610.86" cy="435.36" r="1.95" fill="#ff8000"/>
<circle cx="603.68" cy="434.55" r="1.95" fill="#ff8000"/>
<circle cx="596.59" cy="433.03" r="1.95" fill="#ff8000"/>
<circle cx="589.59" cy="431.23" r="1.95" fill="#ff8000"/>
<circle cx="582.67" cy="429.61" r="1.95" fill="#ff8000"/>
<circle cx="575.83" cy="427.99" r="1.95" fill="#ff8000"/>
<circle cx="569.07" cy="426.41" r="1.95" fill="#ff8000"/>
<circle cx="562.4" cy="424.81" r="1.95" fill="#ff8000"/>
<circle cx="555.8" cy="422.99" r="1.95" fill="#ff8000"/>
<circle cx="549.29" cy="420.87" r="1.95" fill="#ff8000"/>
<circle cx="542.85" cy="418.38" r="1.95" fill="#ff8000"/>
<circle cx="536.49" cy="415.66" r="1.95" fill="#ff8000"/>
<polyline points="529.5,412.4 530.75,412.41 532,412.45 533.25,412.51 534.5,412.58 535.75,412.67 537,412.77 538.25,412.89 539.5,413 540.75,413.15 542,413.36 543.25,413.61 544.5,413.91 545.75,414.25 547,414.62 548.25,415.01 549.5,415.42 550.75,415.91 552,416.52 553.25,417.22 554.5,417.98 555.75,418.76 557,419.54 558.25,420.28 559.5,420.94 560.75,421.55 562,422.13 563.25,422.69 564.5,423.23 565.75,423.76 567,424.29 568.25,424.82 569.5,425.35 570.75,425.9 572,426.47 573.25,427.06 574.5,427.68 575.75,428.32 577,428.99 578.25,429.67 579.5,430.37 580.75,431.09 582,431.82 583.25,432.57 584.5,433.33 585.75,434.11 587,434.89 588.25,435.69 589.5,436.5 590.75,437.32 592,438.16 593.25,439.03 594.5,439.93 595.75,440.84 597,441.76 598.25,442.69 599.5,443.63 600.75,444.56 602,445.5 603.25,446.43 604.5,447.35 605.75,448.27 607,449.19 608.25,450.11 609.5,451.03 610.75,451.95 612,452.88 613.25,453.8 614.5,454.72 615.75,455.65 617,456.57 618.25,457.48 619.5,458.4 620.75,459.31 622,460.21 623.25,461.11 624.5,462.01 625.75,462.91 627,463.81 628.25,464.7 629.5,465.6 630.75,466.5 632,467.4 633.25,468.31 634.5,469.23 635.75,470.15 637,471.07 638.25,472.01 639.5,472.95 640.75,473.9 642,474.85 643.25,475.81 644.5,476.77 645.75,477.72 647,478.68 648.25,479.63 649.5,480.58 650.75,481.52 652,482.47 653.25,483.41 654.5,484.36 655.75,485.3 657,486.25 658.25,487.19 659.5,488.14 660.75,489.08 662,490.02 663.25,490.97 664.5,491.91 665.75,492.85 667,493.79 668.25,494.73 669.5,495.67 670.75,496.62 672,497.56 673.25,498.5 674.5,499.43 675.75,500.37 677,501.31 678.25,502.25 679.5,503.19" fill="none" stroke="#ff0000" stroke-width="0.9"/>
<path d="M679.5,500.89L681.7,504.79L677.3,504.79Z" fill="#ff0000"/>
<path d="M671.5,494.88L673.7,498.78L669.3,498.78Z" fill="#ff0000"/>
<path d="M663.6,488.93L665.8,492.83L661.4,492.83Z" fill="#ff0000"/>
<path d="M655.79,483.03L657.99,486.93L653.59,486.93Z" fill="#ff0000"/>
<path d="M648.07,477.19L650.27,481.09L645.87,481.09Z" fill="#ff0000"/>
<path d="M640.45,471.37L642.65,475.27L638.25,475.27Z" fill="#ff0000"/>
<path d="M632.92,465.77L635.12,469.67L630.72,469.67Z" fill="#ff0000"/>
<path d="M625.48,460.41L627.68,464.31L623.28,464.31Z" fill="#ff0000"/>
<path d="M618.12,455.09L620.32,458.99L615.92,458.99Z" fill="#ff0000"/>
<path d="M610.86,449.73L613.06,453.63L608.66,453.63Z" fill="#ff0000"/>
<path d="M603.68,444.45L605.88,448.35L601.48,448.35Z" fill="#ff0000"/>
<path d="M596.59,439.16L598.79,443.06L594.39,443.06Z" fill="#ff0000"/>
<path d="M589.59,434.26L591.79,438.16L587.39,438.16Z" fill="#ff0000"/>
<path d="M582.67,429.92L584.87,433.82L580.47,433.82Z" fill="#ff0000"/>
<path d="M575.83,426.06L578.03,429.96L573.63,429.96Z" fill="#ff0000"/>
<path d="M569.07,422.87L571.27,426.77L566.87,426.77Z" fill="#ff0000"/>
<path d="M562.4,420.01L564.6,423.91L560.2,423.91Z" fill="#ff0000"/>
<path d="M555.8,416.5L558,420.4L553.6,420.4Z" fill="#ff0000"/>
<path d="M549.29,413.05L551.49,416.95L547.09,416.95Z" fill="#ff0000"/>
<path d="M542.85,411.23L545.05,415.13L540.65,415.13Z" fill="#ff0000"/>
<path d="M536.49,410.43L538.69,414.33L534.29,414.33Z" fill="#ff0000"/>
<g stroke="#1a1a1a" stroke-width="1.2" fill="none">
<line x1="529.5" y1="291.58" x2="529.5" y2="533.22"/>
<line x1="379.5" y1="412.4" x2="679.5" y2="412.4"/>
<line x1="529.5" y1="533.22" x2="535" y2="533.22"/>
<line x1="529.5" y1="524.59" x2="532.5" y2="524.59"/>
<line x1="529.5" y1="515.96" x2="535" y2="515.96"/>
<line x1="529.5" y1="507.33" x2="532.5" y2="507.33"/>
<line x1="529.5" y1="498.7" x2="535" y2="498.7"/>
<line x1="529.5" y1="490.07" x2="532.5" y2="490.07"/>
<line x1="529.5" y1="481.44" x2="535" y2="481.44"/>
<line x1="529.5" y1="472.81" x2="532.5" y2="472.81"/>
<line x1="529.5" y1="464.18" x2="535" y2="464.18"/>
<line x1="529.5" y1="455.55" x2="532.5" y2="455.55"/>
<line x1="529.5" y1="446.92" x2="535" y2="446.92"/>
<line x1="529.5" y1="438.29" x2="532.5" y2="438.29"/>
<line x1="529.5" y1="429.66" x2="535" y2="429.66"/>
<line x1="529.5" y1="421.03" x2="532.5" y2="421.03"/>
<line x1="529.5" y1="412.4" x2="535" y2="412.4"/>
<line x1="529.5" y1="403.77" x2="532.5" y2="403.77"/>
<line x1="529.5" y1="395.14" x2="535" y2="395.14"/>
<line x1="529.5" y1="386.51" x2="532.5" y2="386.51"/>
<line x1="529.5" y1="377.88" x2="535" y2="377.88"/>
<line x1="529.5" y1="369.25" x2="532.5" y2="369.25"/>
<line x1="529.5" y1="360.62" x2="535" y2="360.62"/>
<line x1="529.5" y1="351.99" x2="532.5" y2="351.99"/>
<line x1="529.5" y1="343.36" x2="535" y2="343.36"/>
<line x1="529.5" y1="334.73" x2="532.5" y2="334.73"/>
<line x1="529.5" y1="326.1" x2="535" y2="326.1"/>
<line x1="529.5" y1="317.47" x2="532.5" y2="317.47"/>
<line x1="529.5" y1="308.84" x2="535" y2="308.84"/>
<line x1="529.5" y1="300.21" x2="532.5" y2="300.21"/>
<line x1="529.5" y1="291.58" x2="535" y2="291.58"/>
<line x1="379.5" y1="412.4" x2="379.5" y2="408.4"/>
<line x1="394.5" y1="412.4" x2="394.5" y2="410.4"/>
<line x1="409.5" y1="412.4" x2="409.5" y2="408.4"/>
<line x1="424.5" y1="412.4" x2="424.5" y2="410.4"/>
<line x1="439.5" y1="412.4" x2="439.5" y2="408.4"/>
<line x1="454.5" y1="412.4" x2="454.5" y2="410.4"/>
<line x1="469.5" y1="412.4" x2="469.5" y2="408.4"/>
<line x1="484.5" y1="412.4" x2="484.5" y2="410.4"/>
<line x1="499.5" y1="412.4" x2="499.5" y2="408.4"/>
<line x1="514.5" y1="412.4" x2="514.5" y2="410.4"/>
<line x1="544.5" y1="412.4" x2="544.5" y2="410.4"/>
<line x1="559.5" y1="412.4" x2="559.5" y2="408.4"/>
<line x1="574.5" y1="412.4" x2="574.5" y2="410.4"/>
<line x1="589.5" y1="412.4" x2="589.5" y2="408.4"/>
<line x1="604.5" y1="412.4" x2="604.5" y2="410.4"/>
<line x1="619.5" y1="412.4" x2="619.5" y2="408.4"/>
<line x1="634.5" y1="412.4" x2="634.5" y2="410.4"/>
<line x1="649.5" y1="412.4" x2="649.5" y2="408.4"/>
<line x1="664.5" y1="412.4" x2="664.5" y2="410.4"/>
<line x1="679.5" y1="412.4" x2="679.5" y2="408.4"/>
</g>
<g font-size="13.3" fill="#1a1a1a">
<text transform="translate(525.9,537.32) scale(0.8,1)" text-anchor="end">-1.4</text>
<text transform="translate(525.9,520.06) scale(0.8,1)" text-anchor="end">-1.2</text>
<text transform="translate(525.9,502.8) scale(0.8,1)" text-anchor="end">-1.0</text>
<text transform="translate(525.9,485.54) scale(0.8,1)" text-anchor="end">-0.8</text>
<text transform="translate(525.9,468.28) scale(0.8,1)" text-anchor="end">-0.6</text>
<text transform="translate(525.9,451.02) scale(0.8,1)" text-anchor="end">-0.4</text>
<text transform="translate(525.9,433.76) scale(0.8,1)" text-anchor="end">-0.2</text>
<text transform="translate(525.9,416.5) scale(0.8,1)" text-anchor="end">0.0</text>
<text transform="translate(525.9,399.24) scale(0.8,1)" text-anchor="end">0.2</text>
<text transform="translate(525.9,381.98) scale(0.8,1)" text-anchor="end">0.4</text>
<text transform="translate(525.9,364.72) scale(0.8,1)" text-anchor="end">0.6</text>
<text transform="translate(525.9,347.46) scale(0.8,1)" text-anchor="end">0.8</text>
<text transform="translate(525.9,330.2) scale(0.8,1)" text-anchor="end">1.0</text>
<text transform="translate(525.9,312.94) scale(0.8,1)" text-anchor="end">1.2</text>
<text transform="translate(525.9,295.68) scale(0.8,1)" text-anchor="end">1.4</text>
<text transform="translate(379.5,424.5) scale(0.8,1)" text-anchor="middle">-15</text>
<text transform="translate(409.5,424.5) scale(0.8,1)" text-anchor="middle">-12</text>
<text transform="translate(439.5,424.5) scale(0.8,1)" text-anchor="middle">-9</text>
<text transform="translate(469.5,424.5) scale(0.8,1)" text-anchor="middle">-6</text>
<text transform="translate(499.5,424.5) scale(0.8,1)" text-anchor="middle">-3</text>
<text transform="translate(529.5,424.5) scale(0.8,1)" text-anchor="middle">0</text>
<text transform="translate(559.5,424.5) scale(0.8,1)" text-anchor="middle">3</text>
<text transform="translate(589.5,424.5) scale(0.8,1)" text-anchor="middle">6</text>
<text transform="translate(619.5,424.5) scale(0.8,1)" text-anchor="middle">9</text>
<text transform="translate(649.5,424.5) scale(0.8,1)" text-anchor="middle">12</text>
<text transform="translate(679.5,424.5) scale(0.8,1)" text-anchor="middle">15</text>
</g>
<text transform="translate(546.3,413.6) rotate(-90) scale(1.08,1)" text-anchor="middle" font-size="12.7" fill="#1a1a1a">Energy density/(+/−10<tspan font-size="8.2" dy="-6.8">6</tspan><tspan dy="6.8">J/m</tspan><tspan font-size="8.2" dy="-6.8">3</tspan><tspan dy="6.8">)</tspan></text>
<text x="546.5" y="437" font-size="13.7" fill="#1a1a1a">Axial strain/(+/−10<tspan font-size="9.5" dy="-6">-2</tspan><tspan dy="6">)</tspan></text>
<line x1="554.1" y1="326.1" x2="578.8" y2="326.1" stroke="#2e961c" stroke-width="1.1"/>
<rect x="565.25" y="324.9" width="2.4" height="2.4" fill="#2e961c"/>
<text x="580.7" y="329.6" font-size="11.5" fill="#1a1a1a">U<tspan font-size="7" dy="2.5">F</tspan></text>
<line x1="596.1" y1="326.1" x2="619.5" y2="326.1" stroke="#ff8000" stroke-width="1.1"/>
<circle cx="607.8" cy="326.1" r="1.3" fill="#ff8000"/>
<text x="623.6" y="329.6" font-size="11.5" fill="#1a1a1a">U<tspan font-size="7" dy="2.5">E</tspan></text>
<line x1="639" y1="326.1" x2="662.5" y2="326.1" stroke="#ff0000" stroke-width="1.1"/>
<path d="M650.75,324.4L652.35,327.2L649.15,327.2Z" fill="#ff0000"/>
<text x="665.5" y="329.6" font-size="11.5" fill="#1a1a1a">U<tspan font-size="7" dy="2.5">D</tspan></text>
<rect x="411.7" y="295.88" width="60.3" height="21.2" fill="#00ff00"/>
<rect x="407.5" y="291.88" width="60.3" height="21.2" fill="#fff" stroke="#1a1a1a" stroke-width="1.2"/>
<text x="408.7" y="306.08" font-size="12.3" fill="#1a1a1a">σ<tspan font-size="7" dy="2.5" dx="1">3</tspan><tspan dy="-2.5">=1.0MPa</tspan></text>
<rect x="591.5" y="295.88" width="60.4" height="21.2" fill="#ff0000"/>
<rect x="587.3" y="291.88" width="60.4" height="21.2" fill="#fff" stroke="#1a1a1a" stroke-width="1.2"/>
<text x="588.5" y="306.08" font-size="12.3" fill="#1a1a1a">σ<tspan font-size="7" dy="2.5" dx="1">3</tspan><tspan dy="-2.5">=0.5MPa</tspan></text>
<rect x="411.7" y="512.72" width="60.3" height="20.7" fill="#0000ff"/>
<rect x="407.5" y="508.72" width="60.3" height="20.7" fill="#fff" stroke="#1a1a1a" stroke-width="1.2"/>
<text x="408.7" y="522.92" font-size="12.3" fill="#1a1a1a">σ<tspan font-size="7" dy="2.5" dx="1">3</tspan><tspan dy="-2.5">=1.5MPa</tspan></text>
<rect x="595.5" y="512.72" width="52.2" height="20.7" fill="#ff8000"/>
<rect x="591.3" y="508.72" width="52.2" height="20.7" fill="#fff" stroke="#1a1a1a" stroke-width="1.2"/>
<text x="592.5" y="522.92" font-size="12.3" fill="#1a1a1a">σ<tspan font-size="7" dy="2.5" dx="1">3</tspan><tspan dy="-2.5">=2MPa</tspan></text>
<text x="367.9" y="564.8" font-size="19" letter-spacing="0.2" fill="#222" stroke="#222" stroke-width="0.3">(d) T=-20°C</text>
</svg>
</body></html>
